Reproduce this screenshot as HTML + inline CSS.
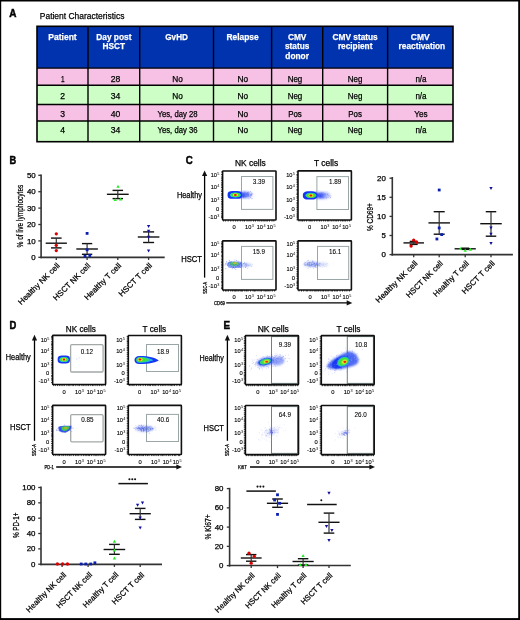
<!DOCTYPE html>
<html><head><meta charset="utf-8"><title>Figure</title>
<style>
html,body{margin:0;padding:0;background:#fff;}
svg{display:block;font-family:"Liberation Sans",sans-serif;will-change:transform;}
</style></head><body>
<svg width="520" height="620" viewBox="0 0 520 620">
<defs><filter id="b1" x="-50%" y="-50%" width="200%" height="200%"><feGaussianBlur stdDeviation="0.45"/></filter><filter id="b05" x="-50%" y="-50%" width="200%" height="200%"><feGaussianBlur stdDeviation="0.3"/></filter><filter id="b2" x="-50%" y="-50%" width="200%" height="200%"><feGaussianBlur stdDeviation="0.8"/></filter><filter id="b3" x="-50%" y="-50%" width="200%" height="200%"><feGaussianBlur stdDeviation="1.2"/></filter><linearGradient id="tailg" x1="0" y1="0" x2="1" y2="0"><stop offset="0" stop-color="#2040f0" stop-opacity="1"/><stop offset="0.45" stop-color="#2848f0" stop-opacity="0.8"/><stop offset="0.8" stop-color="#3050f0" stop-opacity="0.3"/><stop offset="1" stop-color="#4060f0" stop-opacity="0"/></linearGradient></defs>
<rect width="520" height="620" fill="#fff"/>
<text x="9.3" y="16.8" font-size="11.5" font-weight="bold" stroke="#000" stroke-width="0.5" textLength="7.2" lengthAdjust="spacingAndGlyphs">A</text>
<text x="39.8" y="18.6" font-size="9.4" stroke="#000" stroke-width="0.25" textLength="84.6" lengthAdjust="spacingAndGlyphs">Patient Characteristics</text>
<rect x="37" y="26.3" width="416" height="41.8" fill="#0033ad"/>
<rect x="37" y="68.1" width="416" height="17.1" fill="#f6c1e4"/>
<rect x="37" y="85.2" width="416" height="19.3" fill="#ccfec6"/>
<rect x="37" y="104.5" width="416" height="16.5" fill="#f6c1e4"/>
<rect x="37" y="121" width="416" height="20.7" fill="#ccfec6"/>
<line x1="88" y1="26.3" x2="88" y2="141.7" stroke="#000" stroke-width="1.4"/>
<line x1="139.7" y1="26.3" x2="139.7" y2="141.7" stroke="#000" stroke-width="1.4"/>
<line x1="213.5" y1="26.3" x2="213.5" y2="141.7" stroke="#000" stroke-width="1.4"/>
<line x1="271.6" y1="26.3" x2="271.6" y2="141.7" stroke="#000" stroke-width="1.4"/>
<line x1="322.7" y1="26.3" x2="322.7" y2="141.7" stroke="#000" stroke-width="1.4"/>
<line x1="387.6" y1="26.3" x2="387.6" y2="141.7" stroke="#000" stroke-width="1.4"/>
<line x1="37" y1="68.1" x2="453" y2="68.1" stroke="#000" stroke-width="1.4"/>
<line x1="37" y1="85.2" x2="453" y2="85.2" stroke="#000" stroke-width="1.4"/>
<line x1="37" y1="104.5" x2="453" y2="104.5" stroke="#000" stroke-width="1.4"/>
<line x1="37" y1="121" x2="453" y2="121" stroke="#000" stroke-width="1.4"/>
<rect x="37" y="26.3" width="416" height="115.4" fill="none" stroke="#000" stroke-width="1.6"/>
<text x="62.5" y="39.6" font-size="9.8" text-anchor="middle" font-weight="bold" fill="#fff" stroke="#fff" stroke-width="0.25" textLength="28.4" lengthAdjust="spacingAndGlyphs">Patient</text>
<text x="113.85" y="39.6" font-size="9.8" text-anchor="middle" font-weight="bold" fill="#fff" stroke="#fff" stroke-width="0.25" textLength="35.2" lengthAdjust="spacingAndGlyphs">Day post</text>
<text x="113.85" y="49.4" font-size="9.8" text-anchor="middle" font-weight="bold" fill="#fff" stroke="#fff" stroke-width="0.25" textLength="22.6" lengthAdjust="spacingAndGlyphs">HSCT</text>
<text x="176.6" y="39.6" font-size="9.8" text-anchor="middle" font-weight="bold" fill="#fff" stroke="#fff" stroke-width="0.25" textLength="22.6" lengthAdjust="spacingAndGlyphs">GvHD</text>
<text x="242.55" y="39.6" font-size="9.8" text-anchor="middle" font-weight="bold" fill="#fff" stroke="#fff" stroke-width="0.25" textLength="32.3" lengthAdjust="spacingAndGlyphs">Relapse</text>
<text x="297.15" y="39.6" font-size="9.8" text-anchor="middle" font-weight="bold" fill="#fff" stroke="#fff" stroke-width="0.25" textLength="18.5" lengthAdjust="spacingAndGlyphs">CMV</text>
<text x="297.15" y="49.4" font-size="9.8" text-anchor="middle" font-weight="bold" fill="#fff" stroke="#fff" stroke-width="0.25" textLength="24.2" lengthAdjust="spacingAndGlyphs">status</text>
<text x="297.15" y="59.3" font-size="9.8" text-anchor="middle" font-weight="bold" fill="#fff" stroke="#fff" stroke-width="0.25" textLength="23.6" lengthAdjust="spacingAndGlyphs">donor</text>
<text x="355.15" y="39.6" font-size="9.8" text-anchor="middle" font-weight="bold" fill="#fff" stroke="#fff" stroke-width="0.25" textLength="45.2" lengthAdjust="spacingAndGlyphs">CMV status</text>
<text x="355.15" y="49.4" font-size="9.8" text-anchor="middle" font-weight="bold" fill="#fff" stroke="#fff" stroke-width="0.25" textLength="34.5" lengthAdjust="spacingAndGlyphs">recipient</text>
<text x="420.3" y="39.6" font-size="9.8" text-anchor="middle" font-weight="bold" fill="#fff" stroke="#fff" stroke-width="0.25" textLength="18.9" lengthAdjust="spacingAndGlyphs">CMV</text>
<text x="421.9" y="49.4" font-size="9.8" text-anchor="middle" font-weight="bold" fill="#fff" stroke="#fff" stroke-width="0.25" textLength="46.6" lengthAdjust="spacingAndGlyphs">reactivation</text>
<text x="62.75" y="81.9" font-size="8.5" text-anchor="middle" stroke="#000" stroke-width="0.25" textLength="3.6" lengthAdjust="spacingAndGlyphs">1</text>
<text x="115.5" y="81.9" font-size="8.5" text-anchor="middle" stroke="#000" stroke-width="0.25" textLength="9.6" lengthAdjust="spacingAndGlyphs">28</text>
<text x="177.55" y="81.9" font-size="8.5" text-anchor="middle" stroke="#000" stroke-width="0.25" textLength="10.6" lengthAdjust="spacingAndGlyphs">No</text>
<text x="242.9" y="81.9" font-size="8.5" text-anchor="middle" stroke="#000" stroke-width="0.25" textLength="10.6" lengthAdjust="spacingAndGlyphs">No</text>
<text x="295" y="81.9" font-size="8.5" text-anchor="middle" stroke="#000" stroke-width="0.25" textLength="14.6" lengthAdjust="spacingAndGlyphs">Neg</text>
<text x="355.1" y="81.9" font-size="8.5" text-anchor="middle" stroke="#000" stroke-width="0.25" textLength="14.6" lengthAdjust="spacingAndGlyphs">Neg</text>
<text x="421" y="81.9" font-size="8.5" text-anchor="middle" stroke="#000" stroke-width="0.25" textLength="11.2" lengthAdjust="spacingAndGlyphs">n/a</text>
<text x="62.75" y="99.1" font-size="8.5" text-anchor="middle" stroke="#000" stroke-width="0.25" textLength="4.8" lengthAdjust="spacingAndGlyphs">2</text>
<text x="115.5" y="99.1" font-size="8.5" text-anchor="middle" stroke="#000" stroke-width="0.25" textLength="9.6" lengthAdjust="spacingAndGlyphs">34</text>
<text x="177.55" y="99.1" font-size="8.5" text-anchor="middle" stroke="#000" stroke-width="0.25" textLength="10.6" lengthAdjust="spacingAndGlyphs">No</text>
<text x="242.9" y="99.1" font-size="8.5" text-anchor="middle" stroke="#000" stroke-width="0.25" textLength="10.6" lengthAdjust="spacingAndGlyphs">No</text>
<text x="295" y="99.1" font-size="8.5" text-anchor="middle" stroke="#000" stroke-width="0.25" textLength="14.6" lengthAdjust="spacingAndGlyphs">Neg</text>
<text x="355.1" y="99.1" font-size="8.5" text-anchor="middle" stroke="#000" stroke-width="0.25" textLength="14.6" lengthAdjust="spacingAndGlyphs">Neg</text>
<text x="421" y="99.1" font-size="8.5" text-anchor="middle" stroke="#000" stroke-width="0.25" textLength="11.2" lengthAdjust="spacingAndGlyphs">n/a</text>
<text x="62.75" y="116.6" font-size="8.5" text-anchor="middle" stroke="#000" stroke-width="0.25" textLength="4.8" lengthAdjust="spacingAndGlyphs">3</text>
<text x="115.5" y="116.6" font-size="8.5" text-anchor="middle" stroke="#000" stroke-width="0.25" textLength="9.6" lengthAdjust="spacingAndGlyphs">40</text>
<text x="177.55" y="116.6" font-size="8.5" text-anchor="middle" stroke="#000" stroke-width="0.25" textLength="40" lengthAdjust="spacingAndGlyphs">Yes, day 28</text>
<text x="242.9" y="116.6" font-size="8.5" text-anchor="middle" stroke="#000" stroke-width="0.25" textLength="10.6" lengthAdjust="spacingAndGlyphs">No</text>
<text x="295" y="116.6" font-size="8.5" text-anchor="middle" stroke="#000" stroke-width="0.25" textLength="13.7" lengthAdjust="spacingAndGlyphs">Pos</text>
<text x="355.1" y="116.6" font-size="8.5" text-anchor="middle" stroke="#000" stroke-width="0.25" textLength="13.7" lengthAdjust="spacingAndGlyphs">Pos</text>
<text x="421" y="116.6" font-size="8.5" text-anchor="middle" stroke="#000" stroke-width="0.25" textLength="13.3" lengthAdjust="spacingAndGlyphs">Yes</text>
<text x="62.75" y="132.5" font-size="8.5" text-anchor="middle" stroke="#000" stroke-width="0.25" textLength="4.8" lengthAdjust="spacingAndGlyphs">4</text>
<text x="115.5" y="132.5" font-size="8.5" text-anchor="middle" stroke="#000" stroke-width="0.25" textLength="9.6" lengthAdjust="spacingAndGlyphs">34</text>
<text x="177.55" y="132.5" font-size="8.5" text-anchor="middle" stroke="#000" stroke-width="0.25" textLength="40" lengthAdjust="spacingAndGlyphs">Yes, day 36</text>
<text x="242.9" y="132.5" font-size="8.5" text-anchor="middle" stroke="#000" stroke-width="0.25" textLength="10.6" lengthAdjust="spacingAndGlyphs">No</text>
<text x="295" y="132.5" font-size="8.5" text-anchor="middle" stroke="#000" stroke-width="0.25" textLength="14.6" lengthAdjust="spacingAndGlyphs">Neg</text>
<text x="355.1" y="132.5" font-size="8.5" text-anchor="middle" stroke="#000" stroke-width="0.25" textLength="14.6" lengthAdjust="spacingAndGlyphs">Neg</text>
<text x="421" y="132.5" font-size="8.5" text-anchor="middle" stroke="#000" stroke-width="0.25" textLength="11.2" lengthAdjust="spacingAndGlyphs">n/a</text>
<text x="9.6" y="163.8" font-size="11.5" font-weight="bold" stroke="#000" stroke-width="0.5" textLength="6.7" lengthAdjust="spacingAndGlyphs">B</text>
<line x1="41.1" y1="174.4" x2="41.1" y2="258.3" stroke="#333" stroke-width="1.6"/>
<line x1="38.3" y1="175.3" x2="41.1" y2="175.3" stroke="#333" stroke-width="1.3"/>
<text x="35.7" y="177.9" font-size="7.4" text-anchor="end" stroke="#000" stroke-width="0.25" textLength="8.8" lengthAdjust="spacingAndGlyphs">50</text>
<line x1="38.3" y1="191.7" x2="41.1" y2="191.7" stroke="#333" stroke-width="1.3"/>
<text x="35.7" y="194.3" font-size="7.4" text-anchor="end" stroke="#000" stroke-width="0.25" textLength="8.8" lengthAdjust="spacingAndGlyphs">40</text>
<line x1="38.3" y1="208.1" x2="41.1" y2="208.1" stroke="#333" stroke-width="1.3"/>
<text x="35.7" y="210.7" font-size="7.4" text-anchor="end" stroke="#000" stroke-width="0.25" textLength="8.8" lengthAdjust="spacingAndGlyphs">30</text>
<line x1="38.3" y1="224.5" x2="41.1" y2="224.5" stroke="#333" stroke-width="1.3"/>
<text x="35.7" y="227.1" font-size="7.4" text-anchor="end" stroke="#000" stroke-width="0.25" textLength="8.8" lengthAdjust="spacingAndGlyphs">20</text>
<line x1="38.3" y1="240.9" x2="41.1" y2="240.9" stroke="#333" stroke-width="1.3"/>
<text x="35.7" y="243.5" font-size="7.4" text-anchor="end" stroke="#000" stroke-width="0.25" textLength="8.8" lengthAdjust="spacingAndGlyphs">10</text>
<line x1="38.3" y1="257.3" x2="41.1" y2="257.3" stroke="#333" stroke-width="1.3"/>
<text x="35.7" y="259.9" font-size="7.4" text-anchor="end" stroke="#000" stroke-width="0.25" textLength="4.4" lengthAdjust="spacingAndGlyphs">0</text>
<line x1="40.3" y1="257.3" x2="164.7" y2="257.3" stroke="#333" stroke-width="1.7"/>
<line x1="56.3" y1="257.3" x2="56.3" y2="259.9" stroke="#333" stroke-width="1.3"/>
<line x1="87.1" y1="257.3" x2="87.1" y2="259.9" stroke="#333" stroke-width="1.3"/>
<line x1="117.8" y1="257.3" x2="117.8" y2="259.9" stroke="#333" stroke-width="1.3"/>
<line x1="148.6" y1="257.3" x2="148.6" y2="259.9" stroke="#333" stroke-width="1.3"/>
<text x="0" y="0" font-size="8.6" text-anchor="middle" stroke="#000" stroke-width="0.25" textLength="62.7" lengthAdjust="spacingAndGlyphs" transform="translate(23.0 216.05) rotate(-90)">% of live lymphocytes</text>
<line x1="45.7" y1="243.2" x2="66.9" y2="243.2" stroke="#111" stroke-width="1.4"/>
<line x1="51" y1="238.1" x2="61.6" y2="238.1" stroke="#111" stroke-width="1.4"/>
<line x1="51" y1="247.9" x2="61.6" y2="247.9" stroke="#111" stroke-width="1.4"/>
<line x1="56.3" y1="238.1" x2="56.3" y2="247.9" stroke="#333" stroke-width="1.2"/>
<circle cx="56.3" cy="233.8" r="1.65" fill="#dd0000"/>
<circle cx="56.3" cy="245.3" r="1.65" fill="#dd0000"/>
<circle cx="56.3" cy="250.6" r="1.65" fill="#dd0000"/>
<line x1="76.3" y1="249" x2="97.9" y2="249" stroke="#111" stroke-width="1.4"/>
<line x1="81.95" y1="243.6" x2="92.25" y2="243.6" stroke="#111" stroke-width="1.4"/>
<line x1="81.95" y1="254.3" x2="92.25" y2="254.3" stroke="#111" stroke-width="1.4"/>
<line x1="87.1" y1="243.6" x2="87.1" y2="254.3" stroke="#333" stroke-width="1.2"/>
<rect x="85.7" y="232" width="2.8" height="2.8" fill="#0a1fb0"/>
<rect x="85.7" y="248.4" width="2.8" height="2.8" fill="#0a1fb0"/>
<rect x="83.6" y="254.8" width="2.8" height="2.8" fill="#0a1fb0"/>
<rect x="88.4" y="254.1" width="2.8" height="2.8" fill="#0a1fb0"/>
<line x1="106.9" y1="194.3" x2="128.7" y2="194.3" stroke="#111" stroke-width="1.4"/>
<line x1="112.55" y1="190.4" x2="123.05" y2="190.4" stroke="#111" stroke-width="1.4"/>
<line x1="112.55" y1="198.6" x2="123.05" y2="198.6" stroke="#111" stroke-width="1.4"/>
<line x1="117.8" y1="190.4" x2="117.8" y2="198.6" stroke="#333" stroke-width="1.2"/>
<polygon points="118,184.81 119.65,187.79 116.35,187.79" fill="#22ee22"/>
<polygon points="115.3,198.11 116.95,201.09 113.65,201.09" fill="#22ee22"/>
<polygon points="120.6,197.51 122.25,200.49 118.95,200.49" fill="#22ee22"/>
<line x1="137.8" y1="237" x2="159.4" y2="237" stroke="#111" stroke-width="1.4"/>
<line x1="143.1" y1="231.9" x2="154.1" y2="231.9" stroke="#111" stroke-width="1.4"/>
<line x1="143.1" y1="242.5" x2="154.1" y2="242.5" stroke="#111" stroke-width="1.4"/>
<line x1="148.6" y1="231.9" x2="148.6" y2="242.5" stroke="#333" stroke-width="1.2"/>
<polygon points="146.95,225.11 150.25,225.11 148.6,228.09" fill="#1010a0"/>
<polygon points="146.95,229.81 150.25,229.81 148.6,232.79" fill="#1010a0"/>
<polygon points="146.95,235.71 150.25,235.71 148.6,238.69" fill="#1010a0"/>
<polygon points="146.95,249.51 150.25,249.51 148.6,252.49" fill="#1010a0"/>
<text x="60.2" y="266.3" font-size="7.9" text-anchor="end" stroke="#000" stroke-width="0.25" textLength="55" lengthAdjust="spacingAndGlyphs" transform="rotate(-45 60.2 266.3)">Healthy NK cell</text>
<text x="91" y="266.3" font-size="7.9" text-anchor="end" stroke="#000" stroke-width="0.25" textLength="49" lengthAdjust="spacingAndGlyphs" transform="rotate(-45 91 266.3)">HSCT NK cell</text>
<text x="121.7" y="266.3" font-size="7.9" text-anchor="end" stroke="#000" stroke-width="0.25" textLength="48.5" lengthAdjust="spacingAndGlyphs" transform="rotate(-45 121.7 266.3)">Healthy T cell</text>
<text x="152.5" y="266.3" font-size="7.9" text-anchor="end" stroke="#000" stroke-width="0.25" textLength="43.5" lengthAdjust="spacingAndGlyphs" transform="rotate(-45 152.5 266.3)">HSCT T cell</text>
<text x="185.8" y="163.8" font-size="11.5" font-weight="bold" stroke="#000" stroke-width="0.5" textLength="7" lengthAdjust="spacingAndGlyphs">C</text>
<text x="235" y="166" font-size="8.6" stroke="#000" stroke-width="0.25" textLength="30.8" lengthAdjust="spacingAndGlyphs">NK cells</text>
<text x="314" y="166" font-size="8.6" stroke="#000" stroke-width="0.25" textLength="24.2" lengthAdjust="spacingAndGlyphs">T cells</text>
<text x="176.9" y="197.8" font-size="8.6" stroke="#000" stroke-width="0.25" textLength="25.1" lengthAdjust="spacingAndGlyphs">Healthy</text>
<text x="181.2" y="262.4" font-size="8.6" stroke="#000" stroke-width="0.25" textLength="20.8" lengthAdjust="spacingAndGlyphs">HSCT</text>
<line x1="204.6" y1="174.5" x2="204.6" y2="277.6" stroke="#000" stroke-width="1.3"/>
<polygon points="204.6,170.5 207.2,176.1 202,176.1" fill="#111"/>
<text x="0" y="0" font-size="5.3" text-anchor="middle" stroke="#000" stroke-width="0.25" textLength="12" lengthAdjust="spacingAndGlyphs" transform="translate(206.5 287.8) rotate(-90)">SSC-A</text>
<line x1="226.2" y1="302.9" x2="348.3" y2="302.9" stroke="#000" stroke-width="1.4"/>
<polygon points="352.3,302.9 346.7,300.3 346.7,305.5" fill="#111"/>
<text x="214" y="304.8" font-size="5.3" stroke="#000" stroke-width="0.25" textLength="11" lengthAdjust="spacingAndGlyphs">CD69</text>
<rect x="241.5" y="176.5" width="31.4" height="32.9" fill="none" stroke="#9aa6a6" stroke-width="1.0"/>
<rect x="222.6" y="171" width="53.4" height="49" fill="none" stroke="#111" stroke-width="1.6" rx="0.6"/>
<line x1="221" y1="172" x2="222.6" y2="172" stroke="#000" stroke-width="0.7"/>
<line x1="221" y1="174.59" x2="222.6" y2="174.59" stroke="#000" stroke-width="0.7"/>
<line x1="221" y1="177.03" x2="222.6" y2="177.03" stroke="#000" stroke-width="0.7"/>
<line x1="221" y1="178.81" x2="222.6" y2="178.81" stroke="#000" stroke-width="0.7"/>
<line x1="221" y1="180.65" x2="222.6" y2="180.65" stroke="#000" stroke-width="0.7"/>
<line x1="221" y1="182.78" x2="222.6" y2="182.78" stroke="#000" stroke-width="0.7"/>
<line x1="221" y1="184.24" x2="222.6" y2="184.24" stroke="#000" stroke-width="0.7"/>
<line x1="221" y1="185.85" x2="222.6" y2="185.85" stroke="#000" stroke-width="0.7"/>
<line x1="221" y1="187.56" x2="222.6" y2="187.56" stroke="#000" stroke-width="0.7"/>
<line x1="221" y1="189.97" x2="222.6" y2="189.97" stroke="#000" stroke-width="0.7"/>
<line x1="221" y1="191.46" x2="222.6" y2="191.46" stroke="#000" stroke-width="0.7"/>
<line x1="221" y1="193.82" x2="222.6" y2="193.82" stroke="#000" stroke-width="0.7"/>
<line x1="221" y1="195.24" x2="222.6" y2="195.24" stroke="#000" stroke-width="0.7"/>
<line x1="221" y1="197.46" x2="222.6" y2="197.46" stroke="#000" stroke-width="0.7"/>
<line x1="221" y1="199.36" x2="222.6" y2="199.36" stroke="#000" stroke-width="0.7"/>
<line x1="221" y1="201.42" x2="222.6" y2="201.42" stroke="#000" stroke-width="0.7"/>
<line x1="221" y1="203.14" x2="222.6" y2="203.14" stroke="#000" stroke-width="0.7"/>
<line x1="221" y1="204.84" x2="222.6" y2="204.84" stroke="#000" stroke-width="0.7"/>
<line x1="221" y1="207" x2="222.6" y2="207" stroke="#000" stroke-width="0.7"/>
<line x1="221" y1="209.27" x2="222.6" y2="209.27" stroke="#000" stroke-width="0.7"/>
<line x1="221" y1="211.34" x2="222.6" y2="211.34" stroke="#000" stroke-width="0.7"/>
<line x1="221" y1="213.3" x2="222.6" y2="213.3" stroke="#000" stroke-width="0.7"/>
<line x1="221" y1="215.07" x2="222.6" y2="215.07" stroke="#000" stroke-width="0.7"/>
<line x1="221" y1="216.35" x2="222.6" y2="216.35" stroke="#000" stroke-width="0.7"/>
<line x1="221" y1="217.62" x2="222.6" y2="217.62" stroke="#000" stroke-width="0.7"/>
<line x1="223.6" y1="220" x2="223.6" y2="221.6" stroke="#000" stroke-width="0.7"/>
<line x1="225.65" y1="220" x2="225.65" y2="221.6" stroke="#000" stroke-width="0.7"/>
<line x1="228.17" y1="220" x2="228.17" y2="221.6" stroke="#000" stroke-width="0.7"/>
<line x1="230.74" y1="220" x2="230.74" y2="221.6" stroke="#000" stroke-width="0.7"/>
<line x1="233.23" y1="220" x2="233.23" y2="221.6" stroke="#000" stroke-width="0.7"/>
<line x1="235.68" y1="220" x2="235.68" y2="221.6" stroke="#000" stroke-width="0.7"/>
<line x1="237.73" y1="220" x2="237.73" y2="221.6" stroke="#000" stroke-width="0.7"/>
<line x1="240.25" y1="220" x2="240.25" y2="221.6" stroke="#000" stroke-width="0.7"/>
<line x1="242.8" y1="220" x2="242.8" y2="221.6" stroke="#000" stroke-width="0.7"/>
<line x1="244.5" y1="220" x2="244.5" y2="221.6" stroke="#000" stroke-width="0.7"/>
<line x1="247.03" y1="220" x2="247.03" y2="221.6" stroke="#000" stroke-width="0.7"/>
<line x1="249.02" y1="220" x2="249.02" y2="221.6" stroke="#000" stroke-width="0.7"/>
<line x1="251.03" y1="220" x2="251.03" y2="221.6" stroke="#000" stroke-width="0.7"/>
<line x1="253.58" y1="220" x2="253.58" y2="221.6" stroke="#000" stroke-width="0.7"/>
<line x1="255.43" y1="220" x2="255.43" y2="221.6" stroke="#000" stroke-width="0.7"/>
<line x1="257.96" y1="220" x2="257.96" y2="221.6" stroke="#000" stroke-width="0.7"/>
<line x1="259.84" y1="220" x2="259.84" y2="221.6" stroke="#000" stroke-width="0.7"/>
<line x1="261.67" y1="220" x2="261.67" y2="221.6" stroke="#000" stroke-width="0.7"/>
<line x1="263.19" y1="220" x2="263.19" y2="221.6" stroke="#000" stroke-width="0.7"/>
<line x1="264.78" y1="220" x2="264.78" y2="221.6" stroke="#000" stroke-width="0.7"/>
<line x1="266.13" y1="220" x2="266.13" y2="221.6" stroke="#000" stroke-width="0.7"/>
<line x1="267.63" y1="220" x2="267.63" y2="221.6" stroke="#000" stroke-width="0.7"/>
<line x1="269.47" y1="220" x2="269.47" y2="221.6" stroke="#000" stroke-width="0.7"/>
<line x1="272.01" y1="220" x2="272.01" y2="221.6" stroke="#000" stroke-width="0.7"/>
<line x1="273.86" y1="220" x2="273.86" y2="221.6" stroke="#000" stroke-width="0.7"/>
<text x="217" y="177.4" font-size="5.8" text-anchor="end" stroke="#000" stroke-width="0.12" textLength="6.3" lengthAdjust="spacingAndGlyphs">10</text>
<text x="217.3" y="175.4" font-size="3.8">5</text>
<text x="217" y="188.6" font-size="5.8" text-anchor="end" stroke="#000" stroke-width="0.12" textLength="6.3" lengthAdjust="spacingAndGlyphs">10</text>
<text x="217.3" y="186.6" font-size="3.8">4</text>
<text x="217" y="202.3" font-size="5.8" text-anchor="end" stroke="#000" stroke-width="0.12" textLength="6.3" lengthAdjust="spacingAndGlyphs">10</text>
<text x="217.3" y="200.3" font-size="3.8">3</text>
<text x="219.2" y="210.9" font-size="5.8" text-anchor="end" stroke="#000" stroke-width="0.12">0</text>
<text x="217" y="218.8" font-size="5.8" text-anchor="end" stroke="#000" stroke-width="0.12" textLength="8.6" lengthAdjust="spacingAndGlyphs">-10</text>
<text x="217.3" y="216.8" font-size="3.8">3</text>
<text x="234.2" y="229.4" font-size="5.8" text-anchor="middle" stroke="#000" stroke-width="0.12">0</text>
<text x="245.1" y="229.4" font-size="5.8" stroke="#000" stroke-width="0.12" textLength="6.3" lengthAdjust="spacingAndGlyphs">10</text>
<text x="251.8" y="227.4" font-size="3.8">3</text>
<text x="256.7" y="229.4" font-size="5.8" stroke="#000" stroke-width="0.12" textLength="6.3" lengthAdjust="spacingAndGlyphs">10</text>
<text x="263.4" y="227.4" font-size="3.8">4</text>
<text x="266.7" y="229.4" font-size="5.8" stroke="#000" stroke-width="0.12" textLength="6.3" lengthAdjust="spacingAndGlyphs">10</text>
<text x="273.4" y="227.4" font-size="3.8">5</text>
<text x="252.7" y="183.8" font-size="6.3" stroke="#000" stroke-width="0.08">3.39</text>
<g transform="rotate(0 234.8 194.9)">
<ellipse cx="245.84" cy="194.9" rx="8" ry="3.2" fill="url(#tailg)" filter="url(#b2)"/>
<circle cx="250.7" cy="194.13" r="0.45" fill="#2a3cf0" opacity="0.53"/>
<circle cx="251.54" cy="193.88" r="0.45" fill="#2a3cf0" opacity="0.38"/>
<circle cx="243.71" cy="196.7" r="0.45" fill="#2a3cf0" opacity="0.57"/>
<circle cx="240.87" cy="195.59" r="0.45" fill="#2a3cf0" opacity="0.35"/>
<circle cx="242.03" cy="192.7" r="0.45" fill="#2a3cf0" opacity="0.42"/>
<circle cx="245.19" cy="193.66" r="0.45" fill="#2a3cf0" opacity="0.27"/>
<circle cx="248.74" cy="196.37" r="0.45" fill="#2a3cf0" opacity="0.4"/>
<circle cx="246.36" cy="193.69" r="0.45" fill="#2a3cf0" opacity="0.48"/>
<circle cx="247.94" cy="194.69" r="0.45" fill="#2a3cf0" opacity="0.24"/>
<circle cx="250.32" cy="197.43" r="0.45" fill="#2a3cf0" opacity="0.49"/>
<circle cx="243.17" cy="196.15" r="0.45" fill="#2a3cf0" opacity="0.49"/>
<circle cx="242.11" cy="195.05" r="0.45" fill="#2a3cf0" opacity="0.45"/>
<circle cx="243.1" cy="195.15" r="0.45" fill="#2a3cf0" opacity="0.39"/>
<circle cx="248.18" cy="195.54" r="0.45" fill="#2a3cf0" opacity="0.59"/>
<circle cx="251.92" cy="194.44" r="0.45" fill="#2a3cf0" opacity="0.2"/>
<circle cx="245.81" cy="196.41" r="0.45" fill="#2a3cf0" opacity="0.48"/>
<circle cx="241.49" cy="194.8" r="0.45" fill="#2a3cf0" opacity="0.31"/>
<circle cx="242.9" cy="193.9" r="0.45" fill="#2a3cf0" opacity="0.44"/>
<circle cx="250.77" cy="196.83" r="0.45" fill="#2a3cf0" opacity="0.45"/>
<circle cx="251.59" cy="192.81" r="0.45" fill="#2a3cf0" opacity="0.34"/>
<circle cx="248.59" cy="194.31" r="0.45" fill="#2a3cf0" opacity="0.55"/>
<circle cx="250.36" cy="191.62" r="0.45" fill="#2a3cf0" opacity="0.54"/>
<circle cx="248.22" cy="194.77" r="0.45" fill="#2a3cf0" opacity="0.57"/>
<circle cx="251.73" cy="194.38" r="0.45" fill="#2a3cf0" opacity="0.57"/>
<circle cx="241.37" cy="193.1" r="0.45" fill="#2a3cf0" opacity="0.52"/>
<circle cx="242.67" cy="196.87" r="0.45" fill="#2a3cf0" opacity="0.42"/>
<circle cx="247.63" cy="193.93" r="0.45" fill="#2a3cf0" opacity="0.57"/>
<circle cx="248.2" cy="193.14" r="0.45" fill="#2a3cf0" opacity="0.52"/>
<circle cx="248.78" cy="191.94" r="0.45" fill="#2a3cf0" opacity="0.57"/>
<circle cx="241.43" cy="195.49" r="0.45" fill="#2a3cf0" opacity="0.47"/>
<circle cx="251.05" cy="195.26" r="0.45" fill="#2a3cf0" opacity="0.26"/>
<circle cx="247.67" cy="192.81" r="0.45" fill="#2a3cf0" opacity="0.32"/>
<circle cx="245.91" cy="196.64" r="0.45" fill="#2a3cf0" opacity="0.42"/>
<circle cx="243.96" cy="195.97" r="0.45" fill="#2a3cf0" opacity="0.36"/>
<circle cx="247.47" cy="192.72" r="0.45" fill="#2a3cf0" opacity="0.41"/>
<circle cx="250.41" cy="195.45" r="0.45" fill="#2a3cf0" opacity="0.57"/>
<circle cx="247.06" cy="193.24" r="0.45" fill="#2a3cf0" opacity="0.35"/>
<circle cx="246.37" cy="194.89" r="0.45" fill="#2a3cf0" opacity="0.58"/>
<circle cx="248.67" cy="195.64" r="0.45" fill="#2a3cf0" opacity="0.34"/>
<circle cx="244.47" cy="191.02" r="0.45" fill="#2a3cf0" opacity="0.28"/>
<circle cx="251.52" cy="195.24" r="0.45" fill="#2a3cf0" opacity="0.54"/>
<circle cx="251.55" cy="198.8" r="0.45" fill="#2a3cf0" opacity="0.36"/>
<circle cx="244.44" cy="195.35" r="0.45" fill="#2a3cf0" opacity="0.38"/>
<circle cx="241.02" cy="197.27" r="0.45" fill="#2a3cf0" opacity="0.51"/>
<circle cx="249.04" cy="193.06" r="0.45" fill="#2a3cf0" opacity="0.53"/>
<circle cx="244.34" cy="194.51" r="0.45" fill="#2a3cf0" opacity="0.35"/>
<circle cx="244.85" cy="192.83" r="0.45" fill="#2a3cf0" opacity="0.53"/>
<circle cx="250.77" cy="191.89" r="0.45" fill="#2a3cf0" opacity="0.34"/>
<circle cx="252.25" cy="193.92" r="0.45" fill="#2a3cf0" opacity="0.24"/>
<circle cx="247.23" cy="195.97" r="0.45" fill="#2a3cf0" opacity="0.45"/>
<circle cx="252.5" cy="198.36" r="0.45" fill="#2a3cf0" opacity="0.56"/>
<circle cx="249.3" cy="196.24" r="0.45" fill="#2a3cf0" opacity="0.39"/>
<circle cx="250.22" cy="194.58" r="0.45" fill="#2a3cf0" opacity="0.56"/>
<circle cx="248.99" cy="198.86" r="0.45" fill="#2a3cf0" opacity="0.52"/>
<circle cx="252.08" cy="193.57" r="0.45" fill="#2a3cf0" opacity="0.57"/>
<circle cx="247.73" cy="194.7" r="0.45" fill="#2a3cf0" opacity="0.51"/>
<circle cx="243.38" cy="196.6" r="0.45" fill="#2a3cf0" opacity="0.56"/>
<circle cx="243.35" cy="197.29" r="0.45" fill="#2a3cf0" opacity="0.56"/>
<circle cx="241.84" cy="195.24" r="0.45" fill="#2a3cf0" opacity="0.24"/>
<circle cx="240.63" cy="196.16" r="0.45" fill="#2a3cf0" opacity="0.36"/>
<rect x="227.6" y="191" width="14.4" height="7.8" rx="5.04" ry="2.92" fill="#1436f4" filter="url(#b1)"/>
<ellipse cx="235.4" cy="194.9" rx="5.47" ry="2.5" fill="#20c8e8" filter="url(#b1)"/>
<ellipse cx="235.4" cy="194.9" rx="4.9" ry="2.18" fill="#40e040" filter="url(#b1)"/>
<ellipse cx="235.4" cy="194.9" rx="2.59" ry="1.4" fill="#e8e828" filter="url(#b1)"/>
<ellipse cx="235.4" cy="194.9" rx="1.44" ry="1.01" fill="#f01010" filter="url(#b05)"/>
</g>
<rect x="316.9" y="176.6" width="31.6" height="32.9" fill="none" stroke="#9aa6a6" stroke-width="1.0"/>
<rect x="298" y="170.9" width="53.4" height="49.1" fill="none" stroke="#111" stroke-width="1.6" rx="0.6"/>
<line x1="296.4" y1="171.9" x2="298" y2="171.9" stroke="#000" stroke-width="0.7"/>
<line x1="296.4" y1="174.47" x2="298" y2="174.47" stroke="#000" stroke-width="0.7"/>
<line x1="296.4" y1="175.82" x2="298" y2="175.82" stroke="#000" stroke-width="0.7"/>
<line x1="296.4" y1="177.88" x2="298" y2="177.88" stroke="#000" stroke-width="0.7"/>
<line x1="296.4" y1="179.47" x2="298" y2="179.47" stroke="#000" stroke-width="0.7"/>
<line x1="296.4" y1="180.98" x2="298" y2="180.98" stroke="#000" stroke-width="0.7"/>
<line x1="296.4" y1="182.67" x2="298" y2="182.67" stroke="#000" stroke-width="0.7"/>
<line x1="296.4" y1="184.63" x2="298" y2="184.63" stroke="#000" stroke-width="0.7"/>
<line x1="296.4" y1="186.85" x2="298" y2="186.85" stroke="#000" stroke-width="0.7"/>
<line x1="296.4" y1="189.34" x2="298" y2="189.34" stroke="#000" stroke-width="0.7"/>
<line x1="296.4" y1="190.75" x2="298" y2="190.75" stroke="#000" stroke-width="0.7"/>
<line x1="296.4" y1="193.11" x2="298" y2="193.11" stroke="#000" stroke-width="0.7"/>
<line x1="296.4" y1="194.49" x2="298" y2="194.49" stroke="#000" stroke-width="0.7"/>
<line x1="296.4" y1="196.72" x2="298" y2="196.72" stroke="#000" stroke-width="0.7"/>
<line x1="296.4" y1="198.14" x2="298" y2="198.14" stroke="#000" stroke-width="0.7"/>
<line x1="296.4" y1="200.44" x2="298" y2="200.44" stroke="#000" stroke-width="0.7"/>
<line x1="296.4" y1="202.73" x2="298" y2="202.73" stroke="#000" stroke-width="0.7"/>
<line x1="296.4" y1="203.94" x2="298" y2="203.94" stroke="#000" stroke-width="0.7"/>
<line x1="296.4" y1="205.92" x2="298" y2="205.92" stroke="#000" stroke-width="0.7"/>
<line x1="296.4" y1="207.63" x2="298" y2="207.63" stroke="#000" stroke-width="0.7"/>
<line x1="296.4" y1="209.24" x2="298" y2="209.24" stroke="#000" stroke-width="0.7"/>
<line x1="296.4" y1="211.14" x2="298" y2="211.14" stroke="#000" stroke-width="0.7"/>
<line x1="296.4" y1="213.17" x2="298" y2="213.17" stroke="#000" stroke-width="0.7"/>
<line x1="296.4" y1="214.88" x2="298" y2="214.88" stroke="#000" stroke-width="0.7"/>
<line x1="296.4" y1="216.18" x2="298" y2="216.18" stroke="#000" stroke-width="0.7"/>
<line x1="296.4" y1="217.77" x2="298" y2="217.77" stroke="#000" stroke-width="0.7"/>
<line x1="296.4" y1="219.75" x2="298" y2="219.75" stroke="#000" stroke-width="0.7"/>
<line x1="299" y1="220" x2="299" y2="221.6" stroke="#000" stroke-width="0.7"/>
<line x1="301.08" y1="220" x2="301.08" y2="221.6" stroke="#000" stroke-width="0.7"/>
<line x1="302.59" y1="220" x2="302.59" y2="221.6" stroke="#000" stroke-width="0.7"/>
<line x1="304.25" y1="220" x2="304.25" y2="221.6" stroke="#000" stroke-width="0.7"/>
<line x1="306.63" y1="220" x2="306.63" y2="221.6" stroke="#000" stroke-width="0.7"/>
<line x1="309.11" y1="220" x2="309.11" y2="221.6" stroke="#000" stroke-width="0.7"/>
<line x1="310.78" y1="220" x2="310.78" y2="221.6" stroke="#000" stroke-width="0.7"/>
<line x1="312.07" y1="220" x2="312.07" y2="221.6" stroke="#000" stroke-width="0.7"/>
<line x1="314.4" y1="220" x2="314.4" y2="221.6" stroke="#000" stroke-width="0.7"/>
<line x1="316.87" y1="220" x2="316.87" y2="221.6" stroke="#000" stroke-width="0.7"/>
<line x1="319.39" y1="220" x2="319.39" y2="221.6" stroke="#000" stroke-width="0.7"/>
<line x1="321.25" y1="220" x2="321.25" y2="221.6" stroke="#000" stroke-width="0.7"/>
<line x1="323.67" y1="220" x2="323.67" y2="221.6" stroke="#000" stroke-width="0.7"/>
<line x1="325.63" y1="220" x2="325.63" y2="221.6" stroke="#000" stroke-width="0.7"/>
<line x1="327.64" y1="220" x2="327.64" y2="221.6" stroke="#000" stroke-width="0.7"/>
<line x1="328.88" y1="220" x2="328.88" y2="221.6" stroke="#000" stroke-width="0.7"/>
<line x1="331.18" y1="220" x2="331.18" y2="221.6" stroke="#000" stroke-width="0.7"/>
<line x1="333.13" y1="220" x2="333.13" y2="221.6" stroke="#000" stroke-width="0.7"/>
<line x1="335.12" y1="220" x2="335.12" y2="221.6" stroke="#000" stroke-width="0.7"/>
<line x1="336.73" y1="220" x2="336.73" y2="221.6" stroke="#000" stroke-width="0.7"/>
<line x1="338.42" y1="220" x2="338.42" y2="221.6" stroke="#000" stroke-width="0.7"/>
<line x1="340.75" y1="220" x2="340.75" y2="221.6" stroke="#000" stroke-width="0.7"/>
<line x1="342.41" y1="220" x2="342.41" y2="221.6" stroke="#000" stroke-width="0.7"/>
<line x1="344.01" y1="220" x2="344.01" y2="221.6" stroke="#000" stroke-width="0.7"/>
<line x1="345.39" y1="220" x2="345.39" y2="221.6" stroke="#000" stroke-width="0.7"/>
<line x1="347.22" y1="220" x2="347.22" y2="221.6" stroke="#000" stroke-width="0.7"/>
<line x1="349.36" y1="220" x2="349.36" y2="221.6" stroke="#000" stroke-width="0.7"/>
<text x="292.5" y="177.4" font-size="5.8" text-anchor="end" stroke="#000" stroke-width="0.12" textLength="6.3" lengthAdjust="spacingAndGlyphs">10</text>
<text x="292.8" y="175.4" font-size="3.8">5</text>
<text x="292.5" y="188.6" font-size="5.8" text-anchor="end" stroke="#000" stroke-width="0.12" textLength="6.3" lengthAdjust="spacingAndGlyphs">10</text>
<text x="292.8" y="186.6" font-size="3.8">4</text>
<text x="292.5" y="202.3" font-size="5.8" text-anchor="end" stroke="#000" stroke-width="0.12" textLength="6.3" lengthAdjust="spacingAndGlyphs">10</text>
<text x="292.8" y="200.3" font-size="3.8">3</text>
<text x="294.7" y="210.9" font-size="5.8" text-anchor="end" stroke="#000" stroke-width="0.12">0</text>
<text x="292.5" y="218.8" font-size="5.8" text-anchor="end" stroke="#000" stroke-width="0.12" textLength="8.6" lengthAdjust="spacingAndGlyphs">-10</text>
<text x="292.8" y="216.8" font-size="3.8">3</text>
<text x="309.7" y="229.4" font-size="5.8" text-anchor="middle" stroke="#000" stroke-width="0.12">0</text>
<text x="320.6" y="229.4" font-size="5.8" stroke="#000" stroke-width="0.12" textLength="6.3" lengthAdjust="spacingAndGlyphs">10</text>
<text x="327.3" y="227.4" font-size="3.8">3</text>
<text x="332.2" y="229.4" font-size="5.8" stroke="#000" stroke-width="0.12" textLength="6.3" lengthAdjust="spacingAndGlyphs">10</text>
<text x="338.9" y="227.4" font-size="3.8">4</text>
<text x="342.2" y="229.4" font-size="5.8" stroke="#000" stroke-width="0.12" textLength="6.3" lengthAdjust="spacingAndGlyphs">10</text>
<text x="348.9" y="227.4" font-size="3.8">5</text>
<text x="328.9" y="183.8" font-size="6.3" stroke="#000" stroke-width="0.08">1.89</text>
<g transform="rotate(0 310 195.45)">
<ellipse cx="322.47" cy="195.45" rx="9.5" ry="3.3" fill="url(#tailg)" filter="url(#b2)"/>
<circle cx="325.02" cy="193.4" r="0.45" fill="#2a3cf0" opacity="0.44"/>
<circle cx="324.08" cy="194.57" r="0.45" fill="#2a3cf0" opacity="0.44"/>
<circle cx="319.06" cy="194.92" r="0.45" fill="#2a3cf0" opacity="0.54"/>
<circle cx="327.3" cy="197.76" r="0.45" fill="#2a3cf0" opacity="0.22"/>
<circle cx="317.92" cy="198.9" r="0.45" fill="#2a3cf0" opacity="0.23"/>
<circle cx="322.2" cy="195.26" r="0.45" fill="#2a3cf0" opacity="0.41"/>
<circle cx="316.06" cy="195.54" r="0.45" fill="#2a3cf0" opacity="0.48"/>
<circle cx="320.42" cy="195.19" r="0.45" fill="#2a3cf0" opacity="0.49"/>
<circle cx="317.58" cy="194.54" r="0.45" fill="#2a3cf0" opacity="0.29"/>
<circle cx="325.29" cy="194.56" r="0.45" fill="#2a3cf0" opacity="0.34"/>
<circle cx="321.84" cy="196.6" r="0.45" fill="#2a3cf0" opacity="0.29"/>
<circle cx="316.4" cy="195.15" r="0.45" fill="#2a3cf0" opacity="0.5"/>
<circle cx="315.81" cy="193.38" r="0.45" fill="#2a3cf0" opacity="0.34"/>
<circle cx="319.63" cy="196.69" r="0.45" fill="#2a3cf0" opacity="0.41"/>
<circle cx="321.79" cy="193.05" r="0.45" fill="#2a3cf0" opacity="0.43"/>
<circle cx="318.65" cy="190.67" r="0.45" fill="#2a3cf0" opacity="0.26"/>
<circle cx="316.46" cy="196.31" r="0.45" fill="#2a3cf0" opacity="0.42"/>
<circle cx="320.72" cy="197.3" r="0.45" fill="#2a3cf0" opacity="0.49"/>
<circle cx="327.59" cy="194.48" r="0.45" fill="#2a3cf0" opacity="0.58"/>
<circle cx="316.05" cy="195.02" r="0.45" fill="#2a3cf0" opacity="0.31"/>
<circle cx="315.88" cy="194.88" r="0.45" fill="#2a3cf0" opacity="0.53"/>
<circle cx="323.35" cy="197.27" r="0.45" fill="#2a3cf0" opacity="0.27"/>
<circle cx="326.51" cy="197.56" r="0.45" fill="#2a3cf0" opacity="0.22"/>
<circle cx="322.34" cy="194.21" r="0.45" fill="#2a3cf0" opacity="0.53"/>
<circle cx="321.03" cy="194.01" r="0.45" fill="#2a3cf0" opacity="0.35"/>
<circle cx="320.81" cy="195.83" r="0.45" fill="#2a3cf0" opacity="0.55"/>
<circle cx="315.74" cy="191.65" r="0.45" fill="#2a3cf0" opacity="0.57"/>
<circle cx="321.49" cy="196.08" r="0.45" fill="#2a3cf0" opacity="0.32"/>
<circle cx="315.75" cy="196.94" r="0.45" fill="#2a3cf0" opacity="0.47"/>
<circle cx="328.25" cy="195.73" r="0.45" fill="#2a3cf0" opacity="0.31"/>
<circle cx="330.18" cy="196.02" r="0.45" fill="#2a3cf0" opacity="0.23"/>
<circle cx="322.87" cy="197.7" r="0.45" fill="#2a3cf0" opacity="0.54"/>
<circle cx="329.88" cy="198.4" r="0.45" fill="#2a3cf0" opacity="0.24"/>
<circle cx="318.39" cy="196" r="0.45" fill="#2a3cf0" opacity="0.38"/>
<circle cx="322.12" cy="196.06" r="0.45" fill="#2a3cf0" opacity="0.55"/>
<circle cx="329.14" cy="194.9" r="0.45" fill="#2a3cf0" opacity="0.24"/>
<circle cx="316.41" cy="193.95" r="0.45" fill="#2a3cf0" opacity="0.38"/>
<circle cx="328.62" cy="197.31" r="0.45" fill="#2a3cf0" opacity="0.41"/>
<circle cx="317.34" cy="194.01" r="0.45" fill="#2a3cf0" opacity="0.51"/>
<circle cx="316.27" cy="192.78" r="0.45" fill="#2a3cf0" opacity="0.51"/>
<circle cx="323.32" cy="194.12" r="0.45" fill="#2a3cf0" opacity="0.32"/>
<circle cx="316.47" cy="196.23" r="0.45" fill="#2a3cf0" opacity="0.24"/>
<circle cx="318.58" cy="195.66" r="0.45" fill="#2a3cf0" opacity="0.41"/>
<circle cx="316.51" cy="197.43" r="0.45" fill="#2a3cf0" opacity="0.54"/>
<circle cx="328" cy="193.42" r="0.45" fill="#2a3cf0" opacity="0.56"/>
<circle cx="326.49" cy="198.1" r="0.45" fill="#2a3cf0" opacity="0.51"/>
<circle cx="316.3" cy="195.3" r="0.45" fill="#2a3cf0" opacity="0.42"/>
<circle cx="322.96" cy="192.81" r="0.45" fill="#2a3cf0" opacity="0.25"/>
<circle cx="319.88" cy="193.6" r="0.45" fill="#2a3cf0" opacity="0.59"/>
<circle cx="320.11" cy="196.64" r="0.45" fill="#2a3cf0" opacity="0.59"/>
<circle cx="326.93" cy="191.86" r="0.45" fill="#2a3cf0" opacity="0.23"/>
<circle cx="323.93" cy="195.96" r="0.45" fill="#2a3cf0" opacity="0.29"/>
<circle cx="320.57" cy="197.08" r="0.45" fill="#2a3cf0" opacity="0.35"/>
<circle cx="320.86" cy="195.19" r="0.45" fill="#2a3cf0" opacity="0.59"/>
<circle cx="320.76" cy="195.71" r="0.45" fill="#2a3cf0" opacity="0.24"/>
<circle cx="329.91" cy="196.01" r="0.45" fill="#2a3cf0" opacity="0.54"/>
<circle cx="330.46" cy="197.44" r="0.45" fill="#2a3cf0" opacity="0.59"/>
<circle cx="316" cy="196.31" r="0.45" fill="#2a3cf0" opacity="0.52"/>
<circle cx="317.64" cy="195.69" r="0.45" fill="#2a3cf0" opacity="0.5"/>
<circle cx="320.1" cy="198.16" r="0.45" fill="#2a3cf0" opacity="0.39"/>
<rect x="302.9" y="191.35" width="14.2" height="8.2" rx="4.97" ry="3.07" fill="#1436f4" filter="url(#b1)"/>
<ellipse cx="310.9" cy="195.45" rx="5.4" ry="2.62" fill="#20c8e8" filter="url(#b1)"/>
<ellipse cx="310.9" cy="195.45" rx="4.83" ry="2.3" fill="#40e040" filter="url(#b1)"/>
<ellipse cx="310.9" cy="195.45" rx="2.56" ry="1.48" fill="#e8e828" filter="url(#b1)"/>
<ellipse cx="310.9" cy="195.45" rx="1.42" ry="1.07" fill="#f01010" filter="url(#b05)"/>
</g>
<rect x="241.5" y="246.4" width="31.4" height="33" fill="none" stroke="#9aa6a6" stroke-width="1.0"/>
<rect x="222.6" y="240.9" width="53.4" height="49.1" fill="none" stroke="#111" stroke-width="1.6" rx="0.6"/>
<line x1="221" y1="241.9" x2="222.6" y2="241.9" stroke="#000" stroke-width="0.7"/>
<line x1="221" y1="243.45" x2="222.6" y2="243.45" stroke="#000" stroke-width="0.7"/>
<line x1="221" y1="244.85" x2="222.6" y2="244.85" stroke="#000" stroke-width="0.7"/>
<line x1="221" y1="246.52" x2="222.6" y2="246.52" stroke="#000" stroke-width="0.7"/>
<line x1="221" y1="247.91" x2="222.6" y2="247.91" stroke="#000" stroke-width="0.7"/>
<line x1="221" y1="249.83" x2="222.6" y2="249.83" stroke="#000" stroke-width="0.7"/>
<line x1="221" y1="251.46" x2="222.6" y2="251.46" stroke="#000" stroke-width="0.7"/>
<line x1="221" y1="252.71" x2="222.6" y2="252.71" stroke="#000" stroke-width="0.7"/>
<line x1="221" y1="255.21" x2="222.6" y2="255.21" stroke="#000" stroke-width="0.7"/>
<line x1="221" y1="256.79" x2="222.6" y2="256.79" stroke="#000" stroke-width="0.7"/>
<line x1="221" y1="259.19" x2="222.6" y2="259.19" stroke="#000" stroke-width="0.7"/>
<line x1="221" y1="261.18" x2="222.6" y2="261.18" stroke="#000" stroke-width="0.7"/>
<line x1="221" y1="262.67" x2="222.6" y2="262.67" stroke="#000" stroke-width="0.7"/>
<line x1="221" y1="264.27" x2="222.6" y2="264.27" stroke="#000" stroke-width="0.7"/>
<line x1="221" y1="265.82" x2="222.6" y2="265.82" stroke="#000" stroke-width="0.7"/>
<line x1="221" y1="267.45" x2="222.6" y2="267.45" stroke="#000" stroke-width="0.7"/>
<line x1="221" y1="269.27" x2="222.6" y2="269.27" stroke="#000" stroke-width="0.7"/>
<line x1="221" y1="270.66" x2="222.6" y2="270.66" stroke="#000" stroke-width="0.7"/>
<line x1="221" y1="272.62" x2="222.6" y2="272.62" stroke="#000" stroke-width="0.7"/>
<line x1="221" y1="275.19" x2="222.6" y2="275.19" stroke="#000" stroke-width="0.7"/>
<line x1="221" y1="277.17" x2="222.6" y2="277.17" stroke="#000" stroke-width="0.7"/>
<line x1="221" y1="279.11" x2="222.6" y2="279.11" stroke="#000" stroke-width="0.7"/>
<line x1="221" y1="281.32" x2="222.6" y2="281.32" stroke="#000" stroke-width="0.7"/>
<line x1="221" y1="282.78" x2="222.6" y2="282.78" stroke="#000" stroke-width="0.7"/>
<line x1="221" y1="285.18" x2="222.6" y2="285.18" stroke="#000" stroke-width="0.7"/>
<line x1="221" y1="287.19" x2="222.6" y2="287.19" stroke="#000" stroke-width="0.7"/>
<line x1="221" y1="288.55" x2="222.6" y2="288.55" stroke="#000" stroke-width="0.7"/>
<line x1="223.6" y1="290" x2="223.6" y2="291.6" stroke="#000" stroke-width="0.7"/>
<line x1="225.55" y1="290" x2="225.55" y2="291.6" stroke="#000" stroke-width="0.7"/>
<line x1="226.91" y1="290" x2="226.91" y2="291.6" stroke="#000" stroke-width="0.7"/>
<line x1="228.51" y1="290" x2="228.51" y2="291.6" stroke="#000" stroke-width="0.7"/>
<line x1="230.82" y1="290" x2="230.82" y2="291.6" stroke="#000" stroke-width="0.7"/>
<line x1="232.62" y1="290" x2="232.62" y2="291.6" stroke="#000" stroke-width="0.7"/>
<line x1="234.25" y1="290" x2="234.25" y2="291.6" stroke="#000" stroke-width="0.7"/>
<line x1="235.45" y1="290" x2="235.45" y2="291.6" stroke="#000" stroke-width="0.7"/>
<line x1="236.88" y1="290" x2="236.88" y2="291.6" stroke="#000" stroke-width="0.7"/>
<line x1="238.27" y1="290" x2="238.27" y2="291.6" stroke="#000" stroke-width="0.7"/>
<line x1="240.12" y1="290" x2="240.12" y2="291.6" stroke="#000" stroke-width="0.7"/>
<line x1="241.4" y1="290" x2="241.4" y2="291.6" stroke="#000" stroke-width="0.7"/>
<line x1="242.62" y1="290" x2="242.62" y2="291.6" stroke="#000" stroke-width="0.7"/>
<line x1="244.89" y1="290" x2="244.89" y2="291.6" stroke="#000" stroke-width="0.7"/>
<line x1="246.63" y1="290" x2="246.63" y2="291.6" stroke="#000" stroke-width="0.7"/>
<line x1="248.09" y1="290" x2="248.09" y2="291.6" stroke="#000" stroke-width="0.7"/>
<line x1="250.55" y1="290" x2="250.55" y2="291.6" stroke="#000" stroke-width="0.7"/>
<line x1="253.07" y1="290" x2="253.07" y2="291.6" stroke="#000" stroke-width="0.7"/>
<line x1="254.48" y1="290" x2="254.48" y2="291.6" stroke="#000" stroke-width="0.7"/>
<line x1="255.83" y1="290" x2="255.83" y2="291.6" stroke="#000" stroke-width="0.7"/>
<line x1="257.99" y1="290" x2="257.99" y2="291.6" stroke="#000" stroke-width="0.7"/>
<line x1="260.06" y1="290" x2="260.06" y2="291.6" stroke="#000" stroke-width="0.7"/>
<line x1="261.63" y1="290" x2="261.63" y2="291.6" stroke="#000" stroke-width="0.7"/>
<line x1="264.06" y1="290" x2="264.06" y2="291.6" stroke="#000" stroke-width="0.7"/>
<line x1="265.67" y1="290" x2="265.67" y2="291.6" stroke="#000" stroke-width="0.7"/>
<line x1="266.95" y1="290" x2="266.95" y2="291.6" stroke="#000" stroke-width="0.7"/>
<line x1="268.2" y1="290" x2="268.2" y2="291.6" stroke="#000" stroke-width="0.7"/>
<line x1="269.93" y1="290" x2="269.93" y2="291.6" stroke="#000" stroke-width="0.7"/>
<line x1="272.27" y1="290" x2="272.27" y2="291.6" stroke="#000" stroke-width="0.7"/>
<line x1="274.62" y1="290" x2="274.62" y2="291.6" stroke="#000" stroke-width="0.7"/>
<text x="217" y="246.1" font-size="5.8" text-anchor="end" stroke="#000" stroke-width="0.12" textLength="6.3" lengthAdjust="spacingAndGlyphs">10</text>
<text x="217.3" y="244.1" font-size="3.8">5</text>
<text x="217" y="257.3" font-size="5.8" text-anchor="end" stroke="#000" stroke-width="0.12" textLength="6.3" lengthAdjust="spacingAndGlyphs">10</text>
<text x="217.3" y="255.3" font-size="3.8">4</text>
<text x="217" y="271" font-size="5.8" text-anchor="end" stroke="#000" stroke-width="0.12" textLength="6.3" lengthAdjust="spacingAndGlyphs">10</text>
<text x="217.3" y="269" font-size="3.8">3</text>
<text x="219.2" y="279.6" font-size="5.8" text-anchor="end" stroke="#000" stroke-width="0.12">0</text>
<text x="217" y="287.5" font-size="5.8" text-anchor="end" stroke="#000" stroke-width="0.12" textLength="8.6" lengthAdjust="spacingAndGlyphs">-10</text>
<text x="217.3" y="285.5" font-size="3.8">3</text>
<text x="234.2" y="299.1" font-size="5.8" text-anchor="middle" stroke="#000" stroke-width="0.12">0</text>
<text x="245.1" y="299.1" font-size="5.8" stroke="#000" stroke-width="0.12" textLength="6.3" lengthAdjust="spacingAndGlyphs">10</text>
<text x="251.8" y="297.1" font-size="3.8">3</text>
<text x="256.7" y="299.1" font-size="5.8" stroke="#000" stroke-width="0.12" textLength="6.3" lengthAdjust="spacingAndGlyphs">10</text>
<text x="263.4" y="297.1" font-size="3.8">4</text>
<text x="266.7" y="299.1" font-size="5.8" stroke="#000" stroke-width="0.12" textLength="6.3" lengthAdjust="spacingAndGlyphs">10</text>
<text x="273.4" y="297.1" font-size="3.8">5</text>
<text x="252.7" y="254.3" font-size="6.3" stroke="#000" stroke-width="0.08">15.9</text>
<path d="M244,264.6 C250,262.5 252,264 251,265.5 C249,267 246,267 243,266.6 Z" fill="#5070f0" opacity="0.35" filter="url(#b2)"/>
<rect x="227.6" y="261.4" width="14.6" height="6.6" rx="3" ry="2.5" fill="#4a6cf2" opacity="0.6" filter="url(#b1)"/>
<circle cx="225.61" cy="264.29" r="0.5" fill="#3050e8" opacity="0.35"/>
<circle cx="230.29" cy="262.8" r="0.5" fill="#3050e8" opacity="0.37"/>
<circle cx="241.93" cy="265.36" r="0.5" fill="#3050e8" opacity="0.55"/>
<circle cx="233.42" cy="267.4" r="0.5" fill="#3050e8" opacity="0.47"/>
<circle cx="241.18" cy="262.53" r="0.5" fill="#3050e8" opacity="0.46"/>
<circle cx="230.38" cy="261.8" r="0.5" fill="#3050e8" opacity="0.22"/>
<circle cx="230.2" cy="262.68" r="0.5" fill="#3050e8" opacity="0.44"/>
<circle cx="238.16" cy="263.36" r="0.5" fill="#3050e8" opacity="0.56"/>
<circle cx="245.51" cy="267.36" r="0.5" fill="#3050e8" opacity="0.44"/>
<circle cx="221.87" cy="264.87" r="0.5" fill="#3050e8" opacity="0.51"/>
<circle cx="240.22" cy="267.59" r="0.5" fill="#3050e8" opacity="0.4"/>
<circle cx="225.82" cy="268.46" r="0.5" fill="#3050e8" opacity="0.49"/>
<circle cx="238.2" cy="264.54" r="0.5" fill="#3050e8" opacity="0.38"/>
<circle cx="226.97" cy="262.33" r="0.5" fill="#3050e8" opacity="0.36"/>
<circle cx="245.51" cy="263.9" r="0.5" fill="#3050e8" opacity="0.29"/>
<circle cx="230.31" cy="265.5" r="0.5" fill="#3050e8" opacity="0.59"/>
<circle cx="229.91" cy="263.05" r="0.5" fill="#3050e8" opacity="0.54"/>
<circle cx="229.83" cy="265.94" r="0.5" fill="#3050e8" opacity="0.27"/>
<circle cx="242.47" cy="266.3" r="0.5" fill="#3050e8" opacity="0.26"/>
<circle cx="238.98" cy="264.72" r="0.5" fill="#3050e8" opacity="0.28"/>
<circle cx="232.16" cy="268.83" r="0.5" fill="#3050e8" opacity="0.42"/>
<circle cx="238.81" cy="266.2" r="0.5" fill="#3050e8" opacity="0.33"/>
<circle cx="240.97" cy="264.26" r="0.5" fill="#3050e8" opacity="0.5"/>
<circle cx="240.01" cy="263.31" r="0.5" fill="#3050e8" opacity="0.41"/>
<circle cx="233.33" cy="267.53" r="0.5" fill="#3050e8" opacity="0.49"/>
<circle cx="245.4" cy="264.04" r="0.5" fill="#3050e8" opacity="0.42"/>
<circle cx="243.14" cy="266.79" r="0.5" fill="#3050e8" opacity="0.4"/>
<circle cx="234.31" cy="262.11" r="0.5" fill="#3050e8" opacity="0.27"/>
<circle cx="238.51" cy="262.45" r="0.5" fill="#3050e8" opacity="0.25"/>
<circle cx="244.43" cy="262.92" r="0.5" fill="#3050e8" opacity="0.22"/>
<circle cx="232.35" cy="265.19" r="0.5" fill="#3050e8" opacity="0.45"/>
<circle cx="232.16" cy="265.19" r="0.5" fill="#3050e8" opacity="0.57"/>
<circle cx="237.27" cy="263.73" r="0.5" fill="#3050e8" opacity="0.38"/>
<circle cx="239.48" cy="264.8" r="0.5" fill="#3050e8" opacity="0.27"/>
<circle cx="233.33" cy="267.02" r="0.5" fill="#3050e8" opacity="0.6"/>
<circle cx="235.9" cy="267.44" r="0.5" fill="#3050e8" opacity="0.57"/>
<circle cx="246.54" cy="266.07" r="0.5" fill="#3050e8" opacity="0.46"/>
<circle cx="232.02" cy="263.01" r="0.5" fill="#3050e8" opacity="0.59"/>
<circle cx="243.86" cy="264.4" r="0.5" fill="#3050e8" opacity="0.3"/>
<circle cx="237.23" cy="266.05" r="0.5" fill="#3050e8" opacity="0.57"/>
<circle cx="240.17" cy="263.45" r="0.5" fill="#3050e8" opacity="0.38"/>
<circle cx="243.13" cy="263.49" r="0.5" fill="#3050e8" opacity="0.28"/>
<circle cx="234.22" cy="262.81" r="0.5" fill="#3050e8" opacity="0.34"/>
<circle cx="227.79" cy="263.63" r="0.5" fill="#3050e8" opacity="0.58"/>
<circle cx="231.46" cy="266.36" r="0.5" fill="#3050e8" opacity="0.55"/>
<circle cx="231.54" cy="265" r="0.5" fill="#3050e8" opacity="0.31"/>
<circle cx="230.96" cy="264.1" r="0.5" fill="#3050e8" opacity="0.53"/>
<circle cx="233.9" cy="265.75" r="0.5" fill="#3050e8" opacity="0.22"/>
<circle cx="235.33" cy="263.47" r="0.5" fill="#3050e8" opacity="0.26"/>
<circle cx="235.38" cy="262.33" r="0.5" fill="#3050e8" opacity="0.36"/>
<circle cx="229.39" cy="262.09" r="0.5" fill="#3050e8" opacity="0.54"/>
<circle cx="241.62" cy="263.93" r="0.5" fill="#3050e8" opacity="0.55"/>
<circle cx="238.73" cy="265.74" r="0.5" fill="#3050e8" opacity="0.4"/>
<circle cx="236.32" cy="263.56" r="0.5" fill="#3050e8" opacity="0.2"/>
<circle cx="232.1" cy="264.2" r="0.5" fill="#3050e8" opacity="0.27"/>
<circle cx="237.07" cy="266.52" r="0.5" fill="#3050e8" opacity="0.36"/>
<circle cx="236.45" cy="264.18" r="0.5" fill="#3050e8" opacity="0.33"/>
<circle cx="243.5" cy="263.7" r="0.5" fill="#3050e8" opacity="0.43"/>
<circle cx="238.68" cy="263.38" r="0.5" fill="#3050e8" opacity="0.21"/>
<circle cx="233.78" cy="266.45" r="0.5" fill="#3050e8" opacity="0.26"/>
<circle cx="228.02" cy="264.96" r="0.5" fill="#3050e8" opacity="0.52"/>
<circle cx="232.89" cy="264.04" r="0.5" fill="#3050e8" opacity="0.37"/>
<circle cx="233.2" cy="263.08" r="0.5" fill="#3050e8" opacity="0.21"/>
<circle cx="239.43" cy="266.44" r="0.5" fill="#3050e8" opacity="0.57"/>
<circle cx="232.42" cy="264.13" r="0.5" fill="#3050e8" opacity="0.24"/>
<circle cx="233.84" cy="261.94" r="0.5" fill="#3050e8" opacity="0.42"/>
<circle cx="223.91" cy="265.06" r="0.5" fill="#3050e8" opacity="0.5"/>
<circle cx="233.2" cy="263.9" r="0.5" fill="#3050e8" opacity="0.24"/>
<circle cx="244.51" cy="262.18" r="0.5" fill="#3050e8" opacity="0.32"/>
<circle cx="228.65" cy="262.67" r="0.5" fill="#3050e8" opacity="0.29"/>
<circle cx="229.1" cy="263.16" r="0.5" fill="#3050e8" opacity="0.2"/>
<circle cx="233.36" cy="265.1" r="0.5" fill="#3050e8" opacity="0.37"/>
<circle cx="219.37" cy="266.14" r="0.5" fill="#3050e8" opacity="0.23"/>
<circle cx="226.52" cy="261.42" r="0.5" fill="#3050e8" opacity="0.52"/>
<circle cx="234.4" cy="268.33" r="0.5" fill="#3050e8" opacity="0.52"/>
<circle cx="234.94" cy="264.44" r="0.5" fill="#3050e8" opacity="0.51"/>
<circle cx="238.15" cy="265.4" r="0.5" fill="#3050e8" opacity="0.6"/>
<circle cx="235.59" cy="266.43" r="0.5" fill="#3050e8" opacity="0.48"/>
<circle cx="232.88" cy="267.08" r="0.5" fill="#3050e8" opacity="0.24"/>
<circle cx="235.84" cy="269.23" r="0.5" fill="#3050e8" opacity="0.52"/>
<circle cx="227.63" cy="265.26" r="0.5" fill="#3050e8" opacity="0.55"/>
<circle cx="239.31" cy="265.85" r="0.5" fill="#3050e8" opacity="0.24"/>
<circle cx="226.19" cy="263.3" r="0.5" fill="#3050e8" opacity="0.4"/>
<circle cx="237.55" cy="265.25" r="0.5" fill="#3050e8" opacity="0.59"/>
<circle cx="246.65" cy="263.59" r="0.5" fill="#3050e8" opacity="0.27"/>
<circle cx="235.62" cy="264.26" r="0.5" fill="#3050e8" opacity="0.57"/>
<circle cx="235.24" cy="266.97" r="0.5" fill="#3050e8" opacity="0.33"/>
<circle cx="232.93" cy="263.38" r="0.5" fill="#3050e8" opacity="0.43"/>
<circle cx="232.48" cy="262.51" r="0.5" fill="#3050e8" opacity="0.44"/>
<circle cx="236.48" cy="265.68" r="0.5" fill="#3050e8" opacity="0.23"/>
<circle cx="236.76" cy="264.8" r="0.5" fill="#3050e8" opacity="0.28"/>
<circle cx="225.83" cy="263.28" r="0.5" fill="#3050e8" opacity="0.44"/>
<circle cx="237.34" cy="262.55" r="0.5" fill="#3050e8" opacity="0.27"/>
<circle cx="231.3" cy="261.34" r="0.5" fill="#3050e8" opacity="0.43"/>
<circle cx="233.92" cy="263.63" r="0.5" fill="#3050e8" opacity="0.39"/>
<circle cx="236.54" cy="260.25" r="0.5" fill="#3050e8" opacity="0.56"/>
<circle cx="232.6" cy="268.24" r="0.5" fill="#3050e8" opacity="0.26"/>
<circle cx="237.28" cy="264.69" r="0.5" fill="#3050e8" opacity="0.46"/>
<circle cx="234.9" cy="259.91" r="0.5" fill="#3050e8" opacity="0.35"/>
<circle cx="246.98" cy="264.71" r="0.5" fill="#3050e8" opacity="0.5"/>
<circle cx="225.9" cy="265.01" r="0.5" fill="#3050e8" opacity="0.31"/>
<circle cx="228.18" cy="263.65" r="0.5" fill="#3050e8" opacity="0.55"/>
<circle cx="231.91" cy="262.5" r="0.5" fill="#3050e8" opacity="0.54"/>
<circle cx="237.04" cy="264" r="0.5" fill="#3050e8" opacity="0.34"/>
<circle cx="232.36" cy="262.14" r="0.5" fill="#3050e8" opacity="0.41"/>
<circle cx="232.45" cy="265.92" r="0.5" fill="#3050e8" opacity="0.34"/>
<circle cx="240.93" cy="263.27" r="0.5" fill="#3050e8" opacity="0.52"/>
<circle cx="230.52" cy="262.65" r="0.5" fill="#3050e8" opacity="0.37"/>
<circle cx="231.5" cy="263.75" r="0.5" fill="#3050e8" opacity="0.5"/>
<circle cx="221.85" cy="266.19" r="0.5" fill="#3050e8" opacity="0.42"/>
<circle cx="229.26" cy="260.35" r="0.5" fill="#3050e8" opacity="0.57"/>
<circle cx="227.15" cy="264.43" r="0.5" fill="#3050e8" opacity="0.56"/>
<circle cx="231.88" cy="264.36" r="0.5" fill="#3050e8" opacity="0.47"/>
<circle cx="240.8" cy="266.95" r="0.5" fill="#3050e8" opacity="0.39"/>
<circle cx="236.17" cy="265.77" r="0.5" fill="#3050e8" opacity="0.41"/>
<circle cx="244.84" cy="263.44" r="0.5" fill="#3050e8" opacity="0.39"/>
<circle cx="238.08" cy="261.12" r="0.5" fill="#3050e8" opacity="0.47"/>
<circle cx="237.64" cy="263.9" r="0.5" fill="#3050e8" opacity="0.32"/>
<circle cx="238.05" cy="267.41" r="0.5" fill="#3050e8" opacity="0.42"/>
<circle cx="239.06" cy="264.72" r="0.5" fill="#3050e8" opacity="0.53"/>
<circle cx="246.21" cy="263.51" r="0.45" fill="#4060f0" opacity="0.15"/>
<circle cx="251.87" cy="266.16" r="0.45" fill="#4060f0" opacity="0.29"/>
<circle cx="252.62" cy="264.04" r="0.45" fill="#4060f0" opacity="0.25"/>
<circle cx="247.54" cy="268.47" r="0.45" fill="#4060f0" opacity="0.32"/>
<circle cx="242.36" cy="262.07" r="0.45" fill="#4060f0" opacity="0.29"/>
<circle cx="246.83" cy="262.75" r="0.45" fill="#4060f0" opacity="0.36"/>
<circle cx="246.5" cy="265.46" r="0.45" fill="#4060f0" opacity="0.14"/>
<circle cx="252.17" cy="264.9" r="0.45" fill="#4060f0" opacity="0.39"/>
<circle cx="245.15" cy="265.22" r="0.45" fill="#4060f0" opacity="0.3"/>
<circle cx="245.99" cy="264.65" r="0.45" fill="#4060f0" opacity="0.2"/>
<circle cx="245.38" cy="266.97" r="0.45" fill="#4060f0" opacity="0.16"/>
<circle cx="244.23" cy="265.81" r="0.45" fill="#4060f0" opacity="0.3"/>
<circle cx="251.61" cy="266.58" r="0.45" fill="#4060f0" opacity="0.4"/>
<circle cx="244.04" cy="266.55" r="0.45" fill="#4060f0" opacity="0.11"/>
<circle cx="242.41" cy="266.58" r="0.45" fill="#4060f0" opacity="0.14"/>
<circle cx="247.09" cy="264.1" r="0.45" fill="#4060f0" opacity="0.11"/>
<circle cx="243.51" cy="263.83" r="0.45" fill="#4060f0" opacity="0.2"/>
<circle cx="245.67" cy="267.06" r="0.45" fill="#4060f0" opacity="0.36"/>
<circle cx="244.2" cy="264.1" r="0.45" fill="#4060f0" opacity="0.28"/>
<circle cx="250.79" cy="264.44" r="0.45" fill="#4060f0" opacity="0.18"/>
<circle cx="244.24" cy="262.55" r="0.45" fill="#4060f0" opacity="0.24"/>
<circle cx="243.78" cy="262.93" r="0.45" fill="#4060f0" opacity="0.16"/>
<circle cx="245.46" cy="265.99" r="0.45" fill="#4060f0" opacity="0.29"/>
<circle cx="248.51" cy="265.46" r="0.45" fill="#4060f0" opacity="0.38"/>
<circle cx="244.58" cy="263.91" r="0.45" fill="#4060f0" opacity="0.19"/>
<circle cx="247.81" cy="266.07" r="0.45" fill="#4060f0" opacity="0.13"/>
<circle cx="234.98" cy="264.13" r="0.45" fill="#4060f0" opacity="0.33"/>
<circle cx="243.01" cy="265.42" r="0.45" fill="#4060f0" opacity="0.37"/>
<circle cx="248.39" cy="265.03" r="0.45" fill="#4060f0" opacity="0.11"/>
<circle cx="242.41" cy="264.32" r="0.45" fill="#4060f0" opacity="0.36"/>
<circle cx="245.99" cy="264.96" r="0.45" fill="#4060f0" opacity="0.39"/>
<circle cx="244.52" cy="265.66" r="0.45" fill="#4060f0" opacity="0.15"/>
<circle cx="249.91" cy="265.68" r="0.45" fill="#4060f0" opacity="0.22"/>
<circle cx="243.53" cy="267.08" r="0.45" fill="#4060f0" opacity="0.18"/>
<circle cx="240.88" cy="263.11" r="0.45" fill="#4060f0" opacity="0.12"/>
<circle cx="236.26" cy="263.7" r="0.45" fill="#4060f0" opacity="0.24"/>
<circle cx="242.61" cy="264.56" r="0.45" fill="#4060f0" opacity="0.12"/>
<circle cx="245.01" cy="266.15" r="0.45" fill="#4060f0" opacity="0.11"/>
<circle cx="250.76" cy="265.56" r="0.45" fill="#4060f0" opacity="0.2"/>
<circle cx="242.08" cy="261.86" r="0.45" fill="#4060f0" opacity="0.14"/>
<ellipse cx="234.2" cy="263.8" rx="4.6" ry="2.1" fill="#58d068" opacity="0.95" filter="url(#b1)" transform="rotate(0 234.2 263.8)"/>
<circle cx="231.65" cy="264.09" r="0.45" fill="#2050e0" opacity="0.53"/>
<circle cx="234.92" cy="265.19" r="0.45" fill="#2050e0" opacity="0.66"/>
<circle cx="233.64" cy="264.22" r="0.45" fill="#2050e0" opacity="0.65"/>
<circle cx="230.69" cy="264.25" r="0.45" fill="#2050e0" opacity="0.69"/>
<circle cx="243.11" cy="263.62" r="0.45" fill="#2050e0" opacity="0.52"/>
<circle cx="241.09" cy="265.5" r="0.45" fill="#2050e0" opacity="0.61"/>
<circle cx="236.4" cy="264.07" r="0.45" fill="#2050e0" opacity="0.68"/>
<circle cx="234.06" cy="265.32" r="0.45" fill="#2050e0" opacity="0.44"/>
<circle cx="230.55" cy="262.87" r="0.45" fill="#2050e0" opacity="0.51"/>
<circle cx="237.91" cy="264.98" r="0.45" fill="#2050e0" opacity="0.5"/>
<circle cx="234.47" cy="263.32" r="0.45" fill="#2050e0" opacity="0.42"/>
<circle cx="234.35" cy="263.33" r="0.45" fill="#2050e0" opacity="0.62"/>
<circle cx="233.96" cy="264.97" r="0.45" fill="#2050e0" opacity="0.39"/>
<circle cx="232.62" cy="263.99" r="0.45" fill="#2050e0" opacity="0.58"/>
<circle cx="228.16" cy="262.88" r="0.45" fill="#2050e0" opacity="0.58"/>
<circle cx="238.96" cy="263.93" r="0.45" fill="#2050e0" opacity="0.39"/>
<circle cx="229.38" cy="264.94" r="0.45" fill="#2050e0" opacity="0.36"/>
<circle cx="233.36" cy="262.8" r="0.45" fill="#2050e0" opacity="0.44"/>
<circle cx="231.81" cy="264.19" r="0.45" fill="#2050e0" opacity="0.32"/>
<circle cx="231.46" cy="262.66" r="0.45" fill="#2050e0" opacity="0.48"/>
<circle cx="239.95" cy="263.93" r="0.45" fill="#2050e0" opacity="0.65"/>
<circle cx="230.29" cy="262.87" r="0.45" fill="#2050e0" opacity="0.69"/>
<circle cx="234.83" cy="262.36" r="0.45" fill="#2050e0" opacity="0.42"/>
<circle cx="235.67" cy="264.81" r="0.45" fill="#2050e0" opacity="0.58"/>
<circle cx="235.55" cy="264.34" r="0.45" fill="#2050e0" opacity="0.38"/>
<ellipse cx="235" cy="263.3" rx="1.8" ry="1" fill="#d0c020" opacity="0.85" filter="url(#b1)" transform="rotate(0 235 263.3)"/>
<rect x="317.5" y="246.4" width="31.2" height="33.1" fill="none" stroke="#9aa6a6" stroke-width="1.0"/>
<rect x="298" y="240.9" width="53.4" height="49.1" fill="none" stroke="#111" stroke-width="1.6" rx="0.6"/>
<line x1="296.4" y1="241.9" x2="298" y2="241.9" stroke="#000" stroke-width="0.7"/>
<line x1="296.4" y1="243.68" x2="298" y2="243.68" stroke="#000" stroke-width="0.7"/>
<line x1="296.4" y1="246.12" x2="298" y2="246.12" stroke="#000" stroke-width="0.7"/>
<line x1="296.4" y1="248.67" x2="298" y2="248.67" stroke="#000" stroke-width="0.7"/>
<line x1="296.4" y1="250.77" x2="298" y2="250.77" stroke="#000" stroke-width="0.7"/>
<line x1="296.4" y1="252.71" x2="298" y2="252.71" stroke="#000" stroke-width="0.7"/>
<line x1="296.4" y1="255.09" x2="298" y2="255.09" stroke="#000" stroke-width="0.7"/>
<line x1="296.4" y1="256.56" x2="298" y2="256.56" stroke="#000" stroke-width="0.7"/>
<line x1="296.4" y1="257.86" x2="298" y2="257.86" stroke="#000" stroke-width="0.7"/>
<line x1="296.4" y1="259.4" x2="298" y2="259.4" stroke="#000" stroke-width="0.7"/>
<line x1="296.4" y1="261.02" x2="298" y2="261.02" stroke="#000" stroke-width="0.7"/>
<line x1="296.4" y1="263.03" x2="298" y2="263.03" stroke="#000" stroke-width="0.7"/>
<line x1="296.4" y1="265.13" x2="298" y2="265.13" stroke="#000" stroke-width="0.7"/>
<line x1="296.4" y1="267.7" x2="298" y2="267.7" stroke="#000" stroke-width="0.7"/>
<line x1="296.4" y1="269.44" x2="298" y2="269.44" stroke="#000" stroke-width="0.7"/>
<line x1="296.4" y1="271.33" x2="298" y2="271.33" stroke="#000" stroke-width="0.7"/>
<line x1="296.4" y1="273.29" x2="298" y2="273.29" stroke="#000" stroke-width="0.7"/>
<line x1="296.4" y1="274.88" x2="298" y2="274.88" stroke="#000" stroke-width="0.7"/>
<line x1="296.4" y1="276.31" x2="298" y2="276.31" stroke="#000" stroke-width="0.7"/>
<line x1="296.4" y1="278.71" x2="298" y2="278.71" stroke="#000" stroke-width="0.7"/>
<line x1="296.4" y1="281.15" x2="298" y2="281.15" stroke="#000" stroke-width="0.7"/>
<line x1="296.4" y1="282.43" x2="298" y2="282.43" stroke="#000" stroke-width="0.7"/>
<line x1="296.4" y1="283.7" x2="298" y2="283.7" stroke="#000" stroke-width="0.7"/>
<line x1="296.4" y1="285.37" x2="298" y2="285.37" stroke="#000" stroke-width="0.7"/>
<line x1="296.4" y1="287.24" x2="298" y2="287.24" stroke="#000" stroke-width="0.7"/>
<line x1="296.4" y1="288.52" x2="298" y2="288.52" stroke="#000" stroke-width="0.7"/>
<line x1="299" y1="290" x2="299" y2="291.6" stroke="#000" stroke-width="0.7"/>
<line x1="301.5" y1="290" x2="301.5" y2="291.6" stroke="#000" stroke-width="0.7"/>
<line x1="303.71" y1="290" x2="303.71" y2="291.6" stroke="#000" stroke-width="0.7"/>
<line x1="306.22" y1="290" x2="306.22" y2="291.6" stroke="#000" stroke-width="0.7"/>
<line x1="307.78" y1="290" x2="307.78" y2="291.6" stroke="#000" stroke-width="0.7"/>
<line x1="310.18" y1="290" x2="310.18" y2="291.6" stroke="#000" stroke-width="0.7"/>
<line x1="312.15" y1="290" x2="312.15" y2="291.6" stroke="#000" stroke-width="0.7"/>
<line x1="314.29" y1="290" x2="314.29" y2="291.6" stroke="#000" stroke-width="0.7"/>
<line x1="315.74" y1="290" x2="315.74" y2="291.6" stroke="#000" stroke-width="0.7"/>
<line x1="317.04" y1="290" x2="317.04" y2="291.6" stroke="#000" stroke-width="0.7"/>
<line x1="318.64" y1="290" x2="318.64" y2="291.6" stroke="#000" stroke-width="0.7"/>
<line x1="320.29" y1="290" x2="320.29" y2="291.6" stroke="#000" stroke-width="0.7"/>
<line x1="322.13" y1="290" x2="322.13" y2="291.6" stroke="#000" stroke-width="0.7"/>
<line x1="323.51" y1="290" x2="323.51" y2="291.6" stroke="#000" stroke-width="0.7"/>
<line x1="325.33" y1="290" x2="325.33" y2="291.6" stroke="#000" stroke-width="0.7"/>
<line x1="327.03" y1="290" x2="327.03" y2="291.6" stroke="#000" stroke-width="0.7"/>
<line x1="328.76" y1="290" x2="328.76" y2="291.6" stroke="#000" stroke-width="0.7"/>
<line x1="331.17" y1="290" x2="331.17" y2="291.6" stroke="#000" stroke-width="0.7"/>
<line x1="332.59" y1="290" x2="332.59" y2="291.6" stroke="#000" stroke-width="0.7"/>
<line x1="334.63" y1="290" x2="334.63" y2="291.6" stroke="#000" stroke-width="0.7"/>
<line x1="336.09" y1="290" x2="336.09" y2="291.6" stroke="#000" stroke-width="0.7"/>
<line x1="337.45" y1="290" x2="337.45" y2="291.6" stroke="#000" stroke-width="0.7"/>
<line x1="340.01" y1="290" x2="340.01" y2="291.6" stroke="#000" stroke-width="0.7"/>
<line x1="342.51" y1="290" x2="342.51" y2="291.6" stroke="#000" stroke-width="0.7"/>
<line x1="344.84" y1="290" x2="344.84" y2="291.6" stroke="#000" stroke-width="0.7"/>
<line x1="346.86" y1="290" x2="346.86" y2="291.6" stroke="#000" stroke-width="0.7"/>
<line x1="349.39" y1="290" x2="349.39" y2="291.6" stroke="#000" stroke-width="0.7"/>
<text x="292.8" y="246.1" font-size="5.8" text-anchor="end" stroke="#000" stroke-width="0.12" textLength="6.3" lengthAdjust="spacingAndGlyphs">10</text>
<text x="293.1" y="244.1" font-size="3.8">5</text>
<text x="292.8" y="257.3" font-size="5.8" text-anchor="end" stroke="#000" stroke-width="0.12" textLength="6.3" lengthAdjust="spacingAndGlyphs">10</text>
<text x="293.1" y="255.3" font-size="3.8">4</text>
<text x="292.8" y="271" font-size="5.8" text-anchor="end" stroke="#000" stroke-width="0.12" textLength="6.3" lengthAdjust="spacingAndGlyphs">10</text>
<text x="293.1" y="269" font-size="3.8">3</text>
<text x="295" y="279.6" font-size="5.8" text-anchor="end" stroke="#000" stroke-width="0.12">0</text>
<text x="292.8" y="287.5" font-size="5.8" text-anchor="end" stroke="#000" stroke-width="0.12" textLength="8.6" lengthAdjust="spacingAndGlyphs">-10</text>
<text x="293.1" y="285.5" font-size="3.8">3</text>
<text x="310" y="299.1" font-size="5.8" text-anchor="middle" stroke="#000" stroke-width="0.12">0</text>
<text x="320.9" y="299.1" font-size="5.8" stroke="#000" stroke-width="0.12" textLength="6.3" lengthAdjust="spacingAndGlyphs">10</text>
<text x="327.6" y="297.1" font-size="3.8">3</text>
<text x="332.5" y="299.1" font-size="5.8" stroke="#000" stroke-width="0.12" textLength="6.3" lengthAdjust="spacingAndGlyphs">10</text>
<text x="339.2" y="297.1" font-size="3.8">4</text>
<text x="342.5" y="299.1" font-size="5.8" stroke="#000" stroke-width="0.12" textLength="6.3" lengthAdjust="spacingAndGlyphs">10</text>
<text x="349.2" y="297.1" font-size="3.8">5</text>
<text x="328.9" y="254.3" font-size="6.3" stroke="#000" stroke-width="0.08">16.1</text>
<ellipse cx="311.5" cy="264.3" rx="8" ry="2.8" fill="#7088f0" opacity="0.45" filter="url(#b2)" transform="rotate(0 311.5 264.3)"/>
<ellipse cx="322" cy="264.5" rx="6" ry="2.2" fill="#90a0f0" opacity="0.3" filter="url(#b2)" transform="rotate(0 322 264.5)"/>
<circle cx="324.24" cy="266.41" r="0.45" fill="#4058e0" opacity="0.11"/>
<circle cx="304.61" cy="265.35" r="0.45" fill="#4058e0" opacity="0.48"/>
<circle cx="314.4" cy="263.93" r="0.45" fill="#4058e0" opacity="0.2"/>
<circle cx="312.06" cy="264.97" r="0.45" fill="#4058e0" opacity="0.19"/>
<circle cx="317.77" cy="263.3" r="0.45" fill="#4058e0" opacity="0.45"/>
<circle cx="309.38" cy="265.04" r="0.45" fill="#4058e0" opacity="0.42"/>
<circle cx="312.51" cy="264.08" r="0.45" fill="#4058e0" opacity="0.16"/>
<circle cx="309.64" cy="262.25" r="0.45" fill="#4058e0" opacity="0.23"/>
<circle cx="320.17" cy="266.37" r="0.45" fill="#4058e0" opacity="0.45"/>
<circle cx="309.88" cy="264.79" r="0.45" fill="#4058e0" opacity="0.22"/>
<circle cx="311.81" cy="261.97" r="0.45" fill="#4058e0" opacity="0.16"/>
<circle cx="312.98" cy="262.59" r="0.45" fill="#4058e0" opacity="0.28"/>
<circle cx="308.96" cy="265.43" r="0.45" fill="#4058e0" opacity="0.11"/>
<circle cx="311.59" cy="265.54" r="0.45" fill="#4058e0" opacity="0.37"/>
<circle cx="319.92" cy="263.27" r="0.45" fill="#4058e0" opacity="0.18"/>
<circle cx="304.79" cy="262.53" r="0.45" fill="#4058e0" opacity="0.28"/>
<circle cx="320.14" cy="265.58" r="0.45" fill="#4058e0" opacity="0.21"/>
<circle cx="313.02" cy="266.62" r="0.45" fill="#4058e0" opacity="0.37"/>
<circle cx="321.77" cy="264.04" r="0.45" fill="#4058e0" opacity="0.29"/>
<circle cx="311.27" cy="263.58" r="0.45" fill="#4058e0" opacity="0.39"/>
<circle cx="314.17" cy="263.23" r="0.45" fill="#4058e0" opacity="0.25"/>
<circle cx="313.29" cy="268.13" r="0.45" fill="#4058e0" opacity="0.2"/>
<circle cx="323.11" cy="264.18" r="0.45" fill="#4058e0" opacity="0.36"/>
<circle cx="308.95" cy="262.55" r="0.45" fill="#4058e0" opacity="0.39"/>
<circle cx="319.72" cy="263.52" r="0.45" fill="#4058e0" opacity="0.27"/>
<circle cx="308.2" cy="265.7" r="0.45" fill="#4058e0" opacity="0.41"/>
<circle cx="315.2" cy="265.93" r="0.45" fill="#4058e0" opacity="0.44"/>
<circle cx="316.55" cy="263.79" r="0.45" fill="#4058e0" opacity="0.34"/>
<circle cx="312.6" cy="266.33" r="0.45" fill="#4058e0" opacity="0.16"/>
<circle cx="308.98" cy="265.12" r="0.45" fill="#4058e0" opacity="0.36"/>
<circle cx="312.92" cy="260.97" r="0.45" fill="#4058e0" opacity="0.25"/>
<circle cx="314.6" cy="262.9" r="0.45" fill="#4058e0" opacity="0.44"/>
<circle cx="304.5" cy="264.46" r="0.45" fill="#4058e0" opacity="0.26"/>
<circle cx="312.54" cy="261.74" r="0.45" fill="#4058e0" opacity="0.32"/>
<circle cx="316.56" cy="264.67" r="0.45" fill="#4058e0" opacity="0.42"/>
<circle cx="307.19" cy="264.49" r="0.45" fill="#4058e0" opacity="0.47"/>
<circle cx="305.41" cy="262.65" r="0.45" fill="#4058e0" opacity="0.5"/>
<circle cx="316.14" cy="267.57" r="0.45" fill="#4058e0" opacity="0.46"/>
<circle cx="314.93" cy="265.85" r="0.45" fill="#4058e0" opacity="0.46"/>
<circle cx="315.51" cy="263.33" r="0.45" fill="#4058e0" opacity="0.16"/>
<circle cx="313.77" cy="264.34" r="0.45" fill="#4058e0" opacity="0.11"/>
<circle cx="304.68" cy="264.53" r="0.45" fill="#4058e0" opacity="0.15"/>
<circle cx="317.46" cy="264.51" r="0.45" fill="#4058e0" opacity="0.36"/>
<circle cx="315.35" cy="265.83" r="0.45" fill="#4058e0" opacity="0.3"/>
<circle cx="298.12" cy="262.73" r="0.45" fill="#4058e0" opacity="0.24"/>
<circle cx="314.32" cy="263.86" r="0.45" fill="#4058e0" opacity="0.29"/>
<circle cx="315.28" cy="267.64" r="0.45" fill="#4058e0" opacity="0.19"/>
<circle cx="311.83" cy="264.58" r="0.45" fill="#4058e0" opacity="0.21"/>
<circle cx="314.9" cy="264.54" r="0.45" fill="#4058e0" opacity="0.24"/>
<circle cx="307.37" cy="264.7" r="0.45" fill="#4058e0" opacity="0.12"/>
<circle cx="316.8" cy="264.29" r="0.45" fill="#4058e0" opacity="0.5"/>
<circle cx="307.58" cy="264.59" r="0.45" fill="#4058e0" opacity="0.11"/>
<circle cx="311.13" cy="265.09" r="0.45" fill="#4058e0" opacity="0.2"/>
<circle cx="306.53" cy="261.25" r="0.45" fill="#4058e0" opacity="0.14"/>
<circle cx="317.85" cy="264.47" r="0.45" fill="#4058e0" opacity="0.3"/>
<circle cx="311.05" cy="263.42" r="0.45" fill="#4058e0" opacity="0.19"/>
<circle cx="309.55" cy="264.39" r="0.45" fill="#4058e0" opacity="0.22"/>
<circle cx="316.56" cy="263.71" r="0.45" fill="#4058e0" opacity="0.36"/>
<circle cx="310.14" cy="266.22" r="0.45" fill="#4058e0" opacity="0.11"/>
<circle cx="310.93" cy="265.36" r="0.45" fill="#4058e0" opacity="0.23"/>
<circle cx="313.68" cy="265.23" r="0.45" fill="#4058e0" opacity="0.25"/>
<circle cx="310.8" cy="265.48" r="0.45" fill="#4058e0" opacity="0.18"/>
<circle cx="315.67" cy="265.32" r="0.45" fill="#4058e0" opacity="0.23"/>
<circle cx="311.31" cy="264.8" r="0.45" fill="#4058e0" opacity="0.49"/>
<circle cx="309.33" cy="263.07" r="0.45" fill="#4058e0" opacity="0.18"/>
<circle cx="312.08" cy="262.28" r="0.45" fill="#4058e0" opacity="0.39"/>
<circle cx="314.8" cy="265.7" r="0.45" fill="#4058e0" opacity="0.41"/>
<circle cx="308.53" cy="262.55" r="0.45" fill="#4058e0" opacity="0.32"/>
<circle cx="315.5" cy="264.63" r="0.45" fill="#4058e0" opacity="0.22"/>
<circle cx="306.78" cy="264.92" r="0.45" fill="#4058e0" opacity="0.36"/>
<circle cx="309.27" cy="265.74" r="0.45" fill="#4058e0" opacity="0.41"/>
<circle cx="317.39" cy="265.19" r="0.45" fill="#4058e0" opacity="0.44"/>
<circle cx="314.86" cy="266.26" r="0.45" fill="#4058e0" opacity="0.26"/>
<circle cx="317.66" cy="266.06" r="0.45" fill="#4058e0" opacity="0.35"/>
<circle cx="309.46" cy="267.09" r="0.45" fill="#4058e0" opacity="0.13"/>
<circle cx="312.52" cy="264.42" r="0.45" fill="#4058e0" opacity="0.36"/>
<circle cx="314.17" cy="263.4" r="0.45" fill="#4058e0" opacity="0.43"/>
<circle cx="316.39" cy="262.99" r="0.45" fill="#4058e0" opacity="0.32"/>
<circle cx="319" cy="265.26" r="0.45" fill="#4058e0" opacity="0.15"/>
<circle cx="303.05" cy="263.96" r="0.45" fill="#4058e0" opacity="0.18"/>
<circle cx="308.49" cy="264.47" r="0.45" fill="#4058e0" opacity="0.24"/>
<circle cx="316.72" cy="262.12" r="0.45" fill="#4058e0" opacity="0.4"/>
<circle cx="307.75" cy="263.59" r="0.45" fill="#4058e0" opacity="0.49"/>
<circle cx="310.66" cy="267.28" r="0.45" fill="#4058e0" opacity="0.36"/>
<circle cx="311.14" cy="262.91" r="0.45" fill="#4058e0" opacity="0.28"/>
<circle cx="310.89" cy="265.49" r="0.45" fill="#4058e0" opacity="0.3"/>
<circle cx="317.5" cy="265.76" r="0.45" fill="#4058e0" opacity="0.14"/>
<circle cx="311.85" cy="264.6" r="0.45" fill="#4058e0" opacity="0.47"/>
<circle cx="314.33" cy="263.73" r="0.45" fill="#4058e0" opacity="0.42"/>
<circle cx="313.24" cy="266.48" r="0.45" fill="#4058e0" opacity="0.29"/>
<circle cx="310.17" cy="262.67" r="0.45" fill="#4058e0" opacity="0.42"/>
<circle cx="315.69" cy="265.12" r="0.45" fill="#4058e0" opacity="0.29"/>
<circle cx="312.32" cy="261.6" r="0.45" fill="#4058e0" opacity="0.27"/>
<circle cx="309.58" cy="263.8" r="0.45" fill="#4058e0" opacity="0.17"/>
<circle cx="304.54" cy="263.8" r="0.45" fill="#4058e0" opacity="0.49"/>
<circle cx="309.16" cy="262.66" r="0.45" fill="#4058e0" opacity="0.37"/>
<circle cx="313.09" cy="264.61" r="0.45" fill="#4058e0" opacity="0.43"/>
<circle cx="311.14" cy="262.78" r="0.45" fill="#4058e0" opacity="0.48"/>
<circle cx="307.99" cy="268.2" r="0.45" fill="#4058e0" opacity="0.39"/>
<circle cx="312.78" cy="264.11" r="0.45" fill="#4058e0" opacity="0.46"/>
<circle cx="315.29" cy="265.06" r="0.45" fill="#4058e0" opacity="0.31"/>
<circle cx="307.58" cy="264.05" r="0.45" fill="#4058e0" opacity="0.49"/>
<circle cx="311.96" cy="265.05" r="0.45" fill="#4058e0" opacity="0.3"/>
<circle cx="314.46" cy="266.08" r="0.45" fill="#4058e0" opacity="0.14"/>
<circle cx="312.36" cy="260.78" r="0.45" fill="#4058e0" opacity="0.32"/>
<circle cx="316.99" cy="261.84" r="0.45" fill="#4058e0" opacity="0.16"/>
<circle cx="315.01" cy="266.34" r="0.45" fill="#4058e0" opacity="0.47"/>
<circle cx="315.28" cy="265.59" r="0.45" fill="#4058e0" opacity="0.47"/>
<circle cx="316.85" cy="263.41" r="0.45" fill="#4058e0" opacity="0.34"/>
<circle cx="307.73" cy="263.69" r="0.45" fill="#4058e0" opacity="0.38"/>
<circle cx="310.26" cy="262.51" r="0.45" fill="#4058e0" opacity="0.12"/>
<circle cx="314.26" cy="266.37" r="0.45" fill="#4058e0" opacity="0.47"/>
<circle cx="306.03" cy="264.88" r="0.45" fill="#4058e0" opacity="0.45"/>
<circle cx="311.2" cy="264.14" r="0.45" fill="#4058e0" opacity="0.23"/>
<circle cx="308.81" cy="266.19" r="0.45" fill="#4058e0" opacity="0.26"/>
<circle cx="316.06" cy="264.29" r="0.45" fill="#4058e0" opacity="0.42"/>
<circle cx="305.58" cy="265.05" r="0.45" fill="#4058e0" opacity="0.25"/>
<circle cx="309.71" cy="264.58" r="0.45" fill="#4058e0" opacity="0.37"/>
<circle cx="311.99" cy="266.17" r="0.45" fill="#4058e0" opacity="0.25"/>
<circle cx="308.2" cy="263.48" r="0.45" fill="#4058e0" opacity="0.26"/>
<circle cx="310.89" cy="265.72" r="0.45" fill="#4058e0" opacity="0.26"/>
<circle cx="307.58" cy="260.45" r="0.45" fill="#4058e0" opacity="0.37"/>
<circle cx="316.6" cy="263.84" r="0.45" fill="#4058e0" opacity="0.12"/>
<circle cx="315.63" cy="266.93" r="0.45" fill="#4058e0" opacity="0.34"/>
<circle cx="320.15" cy="264.02" r="0.45" fill="#4058e0" opacity="0.18"/>
<circle cx="309.02" cy="264.84" r="0.45" fill="#4058e0" opacity="0.42"/>
<circle cx="319.9" cy="263.66" r="0.45" fill="#4058e0" opacity="0.41"/>
<circle cx="308.45" cy="260.44" r="0.45" fill="#4058e0" opacity="0.43"/>
<circle cx="313.78" cy="268.05" r="0.45" fill="#4058e0" opacity="0.34"/>
<circle cx="314.6" cy="265.06" r="0.45" fill="#4058e0" opacity="0.22"/>
<circle cx="313" cy="265" r="0.45" fill="#4058e0" opacity="0.22"/>
<circle cx="319.54" cy="265.1" r="0.45" fill="#4058e0" opacity="0.38"/>
<circle cx="315.03" cy="263.89" r="0.45" fill="#4058e0" opacity="0.49"/>
<circle cx="309.37" cy="266.47" r="0.45" fill="#4058e0" opacity="0.14"/>
<circle cx="318.21" cy="265.44" r="0.45" fill="#4058e0" opacity="0.29"/>
<circle cx="307.79" cy="265.06" r="0.45" fill="#4058e0" opacity="0.34"/>
<circle cx="305.68" cy="265.41" r="0.45" fill="#4058e0" opacity="0.32"/>
<circle cx="310.4" cy="264.5" r="0.45" fill="#4058e0" opacity="0.16"/>
<circle cx="307.21" cy="262.35" r="0.45" fill="#4058e0" opacity="0.38"/>
<circle cx="318.95" cy="264.74" r="0.45" fill="#4058e0" opacity="0.42"/>
<circle cx="311.31" cy="266.12" r="0.45" fill="#4058e0" opacity="0.36"/>
<circle cx="313.64" cy="264.42" r="0.45" fill="#4058e0" opacity="0.43"/>
<circle cx="307.5" cy="265.1" r="0.45" fill="#4058e0" opacity="0.17"/>
<circle cx="316.01" cy="264.89" r="0.45" fill="#4058e0" opacity="0.34"/>
<circle cx="310.53" cy="265.4" r="0.45" fill="#4058e0" opacity="0.43"/>
<circle cx="318.86" cy="264.92" r="0.45" fill="#4058e0" opacity="0.12"/>
<circle cx="309.33" cy="263.86" r="0.45" fill="#4058e0" opacity="0.35"/>
<circle cx="309.85" cy="262" r="0.45" fill="#4058e0" opacity="0.36"/>
<circle cx="316.1" cy="263.03" r="0.45" fill="#4058e0" opacity="0.15"/>
<circle cx="313.06" cy="262.69" r="0.45" fill="#4058e0" opacity="0.37"/>
<circle cx="312.04" cy="264.44" r="0.45" fill="#4058e0" opacity="0.2"/>
<circle cx="315.37" cy="265.63" r="0.45" fill="#4058e0" opacity="0.28"/>
<circle cx="313.37" cy="262.14" r="0.45" fill="#4058e0" opacity="0.29"/>
<circle cx="305.74" cy="264.73" r="0.45" fill="#4058e0" opacity="0.37"/>
<circle cx="309.14" cy="263.23" r="0.45" fill="#4058e0" opacity="0.39"/>
<circle cx="307.2" cy="265.67" r="0.45" fill="#4058e0" opacity="0.15"/>
<circle cx="314.16" cy="261.93" r="0.45" fill="#4058e0" opacity="0.3"/>
<circle cx="313.2" cy="261.91" r="0.45" fill="#4058e0" opacity="0.47"/>
<circle cx="314.55" cy="263.63" r="0.45" fill="#4058e0" opacity="0.43"/>
<circle cx="309.25" cy="266.05" r="0.45" fill="#4058e0" opacity="0.44"/>
<circle cx="319.42" cy="265.41" r="0.4" fill="#7080e8" opacity="0.24"/>
<circle cx="323.26" cy="265.41" r="0.4" fill="#7080e8" opacity="0.2"/>
<circle cx="315.41" cy="266.18" r="0.4" fill="#7080e8" opacity="0.14"/>
<circle cx="319.22" cy="264.57" r="0.4" fill="#7080e8" opacity="0.21"/>
<circle cx="325.33" cy="264.46" r="0.4" fill="#7080e8" opacity="0.28"/>
<circle cx="320.54" cy="263.9" r="0.4" fill="#7080e8" opacity="0.24"/>
<circle cx="332.16" cy="265.07" r="0.4" fill="#7080e8" opacity="0.18"/>
<circle cx="319.08" cy="265.27" r="0.4" fill="#7080e8" opacity="0.13"/>
<circle cx="327.12" cy="265.2" r="0.4" fill="#7080e8" opacity="0.25"/>
<circle cx="325.99" cy="266.2" r="0.4" fill="#7080e8" opacity="0.2"/>
<circle cx="320.44" cy="262.26" r="0.4" fill="#7080e8" opacity="0.12"/>
<circle cx="323.59" cy="265.49" r="0.4" fill="#7080e8" opacity="0.06"/>
<circle cx="322.8" cy="265.77" r="0.4" fill="#7080e8" opacity="0.26"/>
<circle cx="317.47" cy="266.24" r="0.4" fill="#7080e8" opacity="0.16"/>
<circle cx="319.21" cy="262.03" r="0.4" fill="#7080e8" opacity="0.29"/>
<circle cx="317.46" cy="265.23" r="0.4" fill="#7080e8" opacity="0.29"/>
<circle cx="317.06" cy="265.02" r="0.4" fill="#7080e8" opacity="0.1"/>
<circle cx="322.13" cy="267.24" r="0.4" fill="#7080e8" opacity="0.19"/>
<circle cx="327.78" cy="263.41" r="0.4" fill="#7080e8" opacity="0.25"/>
<circle cx="323.81" cy="266.57" r="0.4" fill="#7080e8" opacity="0.09"/>
<circle cx="332.96" cy="262.31" r="0.4" fill="#7080e8" opacity="0.26"/>
<circle cx="323.17" cy="261.56" r="0.4" fill="#7080e8" opacity="0.08"/>
<circle cx="315.26" cy="261.65" r="0.4" fill="#7080e8" opacity="0.2"/>
<circle cx="320" cy="265.79" r="0.4" fill="#7080e8" opacity="0.07"/>
<circle cx="329.83" cy="265.7" r="0.4" fill="#7080e8" opacity="0.13"/>
<circle cx="312.75" cy="264.66" r="0.4" fill="#7080e8" opacity="0.27"/>
<circle cx="313.74" cy="264.49" r="0.4" fill="#7080e8" opacity="0.1"/>
<circle cx="325.92" cy="266.72" r="0.4" fill="#7080e8" opacity="0.25"/>
<circle cx="321.57" cy="264.1" r="0.4" fill="#7080e8" opacity="0.08"/>
<circle cx="326.92" cy="265.79" r="0.4" fill="#7080e8" opacity="0.2"/>
<circle cx="313.14" cy="267.59" r="0.4" fill="#7080e8" opacity="0.19"/>
<circle cx="328.04" cy="267.59" r="0.4" fill="#7080e8" opacity="0.17"/>
<circle cx="323.56" cy="266.27" r="0.4" fill="#7080e8" opacity="0.06"/>
<circle cx="317.12" cy="266.3" r="0.4" fill="#7080e8" opacity="0.08"/>
<circle cx="315.44" cy="265.93" r="0.4" fill="#7080e8" opacity="0.09"/>
<circle cx="323.52" cy="263.38" r="0.4" fill="#7080e8" opacity="0.27"/>
<circle cx="327.18" cy="263.58" r="0.4" fill="#7080e8" opacity="0.26"/>
<circle cx="312.26" cy="266.27" r="0.4" fill="#7080e8" opacity="0.27"/>
<circle cx="319.38" cy="263.55" r="0.4" fill="#7080e8" opacity="0.1"/>
<circle cx="326.05" cy="263.73" r="0.4" fill="#7080e8" opacity="0.22"/>
<circle cx="309" cy="264.6" r="0.5" fill="#70c880"/>
<circle cx="313.5" cy="263.8" r="0.5" fill="#70c880"/>
<circle cx="316" cy="265.2" r="0.5" fill="#70c880"/>
<line x1="392.3" y1="177" x2="392.3" y2="255.6" stroke="#333" stroke-width="1.6"/>
<line x1="389.5" y1="178.2" x2="392.3" y2="178.2" stroke="#333" stroke-width="1.3"/>
<text x="385.8" y="180.8" font-size="7.4" text-anchor="end" stroke="#000" stroke-width="0.25" textLength="8.8" lengthAdjust="spacingAndGlyphs">20</text>
<line x1="389.5" y1="197.3" x2="392.3" y2="197.3" stroke="#333" stroke-width="1.3"/>
<text x="385.8" y="199.9" font-size="7.4" text-anchor="end" stroke="#000" stroke-width="0.25" textLength="8.8" lengthAdjust="spacingAndGlyphs">15</text>
<line x1="389.5" y1="216.4" x2="392.3" y2="216.4" stroke="#333" stroke-width="1.3"/>
<text x="385.8" y="219" font-size="7.4" text-anchor="end" stroke="#000" stroke-width="0.25" textLength="8.8" lengthAdjust="spacingAndGlyphs">10</text>
<line x1="389.5" y1="235.5" x2="392.3" y2="235.5" stroke="#333" stroke-width="1.3"/>
<text x="385.8" y="238.1" font-size="7.4" text-anchor="end" stroke="#000" stroke-width="0.25" textLength="4.4" lengthAdjust="spacingAndGlyphs">5</text>
<line x1="389.5" y1="254.6" x2="392.3" y2="254.6" stroke="#333" stroke-width="1.3"/>
<text x="385.8" y="257.2" font-size="7.4" text-anchor="end" stroke="#000" stroke-width="0.25" textLength="4.4" lengthAdjust="spacingAndGlyphs">0</text>
<line x1="391.5" y1="254.6" x2="512.9" y2="254.6" stroke="#333" stroke-width="1.7"/>
<line x1="413.7" y1="254.6" x2="413.7" y2="257.2" stroke="#333" stroke-width="1.3"/>
<line x1="439.2" y1="254.6" x2="439.2" y2="257.2" stroke="#333" stroke-width="1.3"/>
<line x1="465.2" y1="254.6" x2="465.2" y2="257.2" stroke="#333" stroke-width="1.3"/>
<line x1="491" y1="254.6" x2="491" y2="257.2" stroke="#333" stroke-width="1.3"/>
<text x="0" y="0" font-size="9.4" text-anchor="middle" stroke="#000" stroke-width="0.25" textLength="27.9" lengthAdjust="spacingAndGlyphs" transform="translate(373.0 217.15) rotate(-90)">% CD69+</text>
<line x1="403.45" y1="242.9" x2="423.95" y2="242.9" stroke="#111" stroke-width="1.4"/>
<line x1="409.7" y1="241.4" x2="417.7" y2="241.4" stroke="#111" stroke-width="1.4"/>
<line x1="409.7" y1="244.4" x2="417.7" y2="244.4" stroke="#111" stroke-width="1.4"/>
<line x1="413.7" y1="241.4" x2="413.7" y2="244.4" stroke="#333" stroke-width="1.2"/>
<circle cx="413.7" cy="240.2" r="1.65" fill="#dd0000"/>
<circle cx="416.6" cy="242.2" r="1.65" fill="#dd0000"/>
<circle cx="411.1" cy="246" r="1.65" fill="#dd0000"/>
<line x1="428.45" y1="222.9" x2="449.95" y2="222.9" stroke="#111" stroke-width="1.4"/>
<line x1="433.7" y1="211.7" x2="444.7" y2="211.7" stroke="#111" stroke-width="1.4"/>
<line x1="433.7" y1="234.2" x2="444.7" y2="234.2" stroke="#111" stroke-width="1.4"/>
<line x1="439.2" y1="211.7" x2="439.2" y2="234.2" stroke="#333" stroke-width="1.2"/>
<rect x="437.8" y="188.6" width="2.8" height="2.8" fill="#0a1fb0"/>
<rect x="437.8" y="226.5" width="2.8" height="2.8" fill="#0a1fb0"/>
<rect x="440.3" y="233.2" width="2.8" height="2.8" fill="#0a1fb0"/>
<rect x="435.5" y="237.6" width="2.8" height="2.8" fill="#0a1fb0"/>
<line x1="454.6" y1="248.8" x2="475.8" y2="248.8" stroke="#111" stroke-width="1.4"/>
<line x1="461.2" y1="248.2" x2="469.2" y2="248.2" stroke="#111" stroke-width="1.4"/>
<line x1="461.2" y1="249.4" x2="469.2" y2="249.4" stroke="#111" stroke-width="1.4"/>
<line x1="465.2" y1="248.2" x2="465.2" y2="249.4" stroke="#333" stroke-width="1.2"/>
<polygon points="460.4,246.91 462.05,249.89 458.75,249.89" fill="#22ee22"/>
<polygon points="465.2,248.71 466.85,251.69 463.55,251.69" fill="#22ee22"/>
<polygon points="470.4,247.71 472.05,250.69 468.75,250.69" fill="#22ee22"/>
<line x1="480.25" y1="223.7" x2="501.75" y2="223.7" stroke="#111" stroke-width="1.4"/>
<line x1="485.75" y1="211.7" x2="496.25" y2="211.7" stroke="#111" stroke-width="1.4"/>
<line x1="485.75" y1="236.2" x2="496.25" y2="236.2" stroke="#111" stroke-width="1.4"/>
<line x1="491" y1="211.7" x2="491" y2="236.2" stroke="#333" stroke-width="1.2"/>
<polygon points="489.35,187.01 492.65,187.01 491,189.99" fill="#1010a0"/>
<polygon points="489.35,226.41 492.65,226.41 491,229.39" fill="#1010a0"/>
<polygon points="489.35,232.71 492.65,232.71 491,235.69" fill="#1010a0"/>
<polygon points="489.35,242.01 492.65,242.01 491,244.99" fill="#1010a0"/>
<text x="418" y="264" font-size="7.9" text-anchor="end" stroke="#000" stroke-width="0.25" textLength="55.5" lengthAdjust="spacingAndGlyphs" transform="rotate(-45 418 264)">Healthy NK cell</text>
<text x="443.5" y="264" font-size="7.9" text-anchor="end" stroke="#000" stroke-width="0.25" textLength="48.5" lengthAdjust="spacingAndGlyphs" transform="rotate(-45 443.5 264)">HSCT NK cell</text>
<text x="469.5" y="264" font-size="7.9" text-anchor="end" stroke="#000" stroke-width="0.25" textLength="47" lengthAdjust="spacingAndGlyphs" transform="rotate(-45 469.5 264)">Healthy T cell</text>
<text x="495.3" y="264" font-size="7.9" text-anchor="end" stroke="#000" stroke-width="0.25" textLength="43" lengthAdjust="spacingAndGlyphs" transform="rotate(-45 495.3 264)">HSCT T cell</text>
<text x="9.5" y="328.8" font-size="11.5" font-weight="bold" stroke="#000" stroke-width="0.5" textLength="6.8" lengthAdjust="spacingAndGlyphs">D</text>
<text x="65.8" y="331.5" font-size="8.6" stroke="#000" stroke-width="0.25" textLength="30" lengthAdjust="spacingAndGlyphs">NK cells</text>
<text x="142.6" y="331.5" font-size="8.6" stroke="#000" stroke-width="0.25" textLength="23.6" lengthAdjust="spacingAndGlyphs">T cells</text>
<text x="5.8" y="360" font-size="8.6" stroke="#000" stroke-width="0.25" textLength="25" lengthAdjust="spacingAndGlyphs">Healthy</text>
<text x="10" y="430" font-size="8.6" stroke="#000" stroke-width="0.25" textLength="20.8" lengthAdjust="spacingAndGlyphs">HSCT</text>
<line x1="34.5" y1="338.8" x2="34.5" y2="440.8" stroke="#000" stroke-width="1.3"/>
<polygon points="34.5,334.8 37.1,340.4 31.9,340.4" fill="#111"/>
<text x="0" y="0" font-size="5.3" text-anchor="middle" stroke="#000" stroke-width="0.25" textLength="12" lengthAdjust="spacingAndGlyphs" transform="translate(36.4 450) rotate(-90)">SSC-A</text>
<line x1="56.2" y1="467" x2="178" y2="467" stroke="#000" stroke-width="1.4"/>
<polygon points="182,467 176.4,464.4 176.4,469.6" fill="#111"/>
<text x="44.6" y="468.9" font-size="5.3" stroke="#000" stroke-width="0.25" textLength="9.2" lengthAdjust="spacingAndGlyphs">PD-1</text>
<rect x="70.6" y="344.7" width="32.5" height="27.3" fill="none" stroke="#a4a8a8" stroke-width="1.3" rx="1.2"/>
<rect x="52.65" y="335.4" width="52.95" height="49.1" fill="none" stroke="#111" stroke-width="1.6" rx="0.6"/>
<line x1="51.05" y1="336.4" x2="52.65" y2="336.4" stroke="#000" stroke-width="0.7"/>
<line x1="51.05" y1="337.67" x2="52.65" y2="337.67" stroke="#000" stroke-width="0.7"/>
<line x1="51.05" y1="339.09" x2="52.65" y2="339.09" stroke="#000" stroke-width="0.7"/>
<line x1="51.05" y1="341.65" x2="52.65" y2="341.65" stroke="#000" stroke-width="0.7"/>
<line x1="51.05" y1="343.2" x2="52.65" y2="343.2" stroke="#000" stroke-width="0.7"/>
<line x1="51.05" y1="344.5" x2="52.65" y2="344.5" stroke="#000" stroke-width="0.7"/>
<line x1="51.05" y1="345.85" x2="52.65" y2="345.85" stroke="#000" stroke-width="0.7"/>
<line x1="51.05" y1="347.79" x2="52.65" y2="347.79" stroke="#000" stroke-width="0.7"/>
<line x1="51.05" y1="349.54" x2="52.65" y2="349.54" stroke="#000" stroke-width="0.7"/>
<line x1="51.05" y1="351.75" x2="52.65" y2="351.75" stroke="#000" stroke-width="0.7"/>
<line x1="51.05" y1="353.43" x2="52.65" y2="353.43" stroke="#000" stroke-width="0.7"/>
<line x1="51.05" y1="354.85" x2="52.65" y2="354.85" stroke="#000" stroke-width="0.7"/>
<line x1="51.05" y1="357.14" x2="52.65" y2="357.14" stroke="#000" stroke-width="0.7"/>
<line x1="51.05" y1="358.54" x2="52.65" y2="358.54" stroke="#000" stroke-width="0.7"/>
<line x1="51.05" y1="360.53" x2="52.65" y2="360.53" stroke="#000" stroke-width="0.7"/>
<line x1="51.05" y1="362.83" x2="52.65" y2="362.83" stroke="#000" stroke-width="0.7"/>
<line x1="51.05" y1="364.37" x2="52.65" y2="364.37" stroke="#000" stroke-width="0.7"/>
<line x1="51.05" y1="365.85" x2="52.65" y2="365.85" stroke="#000" stroke-width="0.7"/>
<line x1="51.05" y1="367.62" x2="52.65" y2="367.62" stroke="#000" stroke-width="0.7"/>
<line x1="51.05" y1="368.99" x2="52.65" y2="368.99" stroke="#000" stroke-width="0.7"/>
<line x1="51.05" y1="371.06" x2="52.65" y2="371.06" stroke="#000" stroke-width="0.7"/>
<line x1="51.05" y1="373.08" x2="52.65" y2="373.08" stroke="#000" stroke-width="0.7"/>
<line x1="51.05" y1="375.46" x2="52.65" y2="375.46" stroke="#000" stroke-width="0.7"/>
<line x1="51.05" y1="376.73" x2="52.65" y2="376.73" stroke="#000" stroke-width="0.7"/>
<line x1="51.05" y1="378.68" x2="52.65" y2="378.68" stroke="#000" stroke-width="0.7"/>
<line x1="51.05" y1="380.03" x2="52.65" y2="380.03" stroke="#000" stroke-width="0.7"/>
<line x1="51.05" y1="382.54" x2="52.65" y2="382.54" stroke="#000" stroke-width="0.7"/>
<line x1="53.65" y1="384.5" x2="53.65" y2="386.1" stroke="#000" stroke-width="0.7"/>
<line x1="55.38" y1="384.5" x2="55.38" y2="386.1" stroke="#000" stroke-width="0.7"/>
<line x1="57.51" y1="384.5" x2="57.51" y2="386.1" stroke="#000" stroke-width="0.7"/>
<line x1="59.42" y1="384.5" x2="59.42" y2="386.1" stroke="#000" stroke-width="0.7"/>
<line x1="61.11" y1="384.5" x2="61.11" y2="386.1" stroke="#000" stroke-width="0.7"/>
<line x1="62.83" y1="384.5" x2="62.83" y2="386.1" stroke="#000" stroke-width="0.7"/>
<line x1="64.34" y1="384.5" x2="64.34" y2="386.1" stroke="#000" stroke-width="0.7"/>
<line x1="66.89" y1="384.5" x2="66.89" y2="386.1" stroke="#000" stroke-width="0.7"/>
<line x1="68.78" y1="384.5" x2="68.78" y2="386.1" stroke="#000" stroke-width="0.7"/>
<line x1="69.98" y1="384.5" x2="69.98" y2="386.1" stroke="#000" stroke-width="0.7"/>
<line x1="72.15" y1="384.5" x2="72.15" y2="386.1" stroke="#000" stroke-width="0.7"/>
<line x1="73.58" y1="384.5" x2="73.58" y2="386.1" stroke="#000" stroke-width="0.7"/>
<line x1="75.78" y1="384.5" x2="75.78" y2="386.1" stroke="#000" stroke-width="0.7"/>
<line x1="77.97" y1="384.5" x2="77.97" y2="386.1" stroke="#000" stroke-width="0.7"/>
<line x1="79.6" y1="384.5" x2="79.6" y2="386.1" stroke="#000" stroke-width="0.7"/>
<line x1="81.86" y1="384.5" x2="81.86" y2="386.1" stroke="#000" stroke-width="0.7"/>
<line x1="83.29" y1="384.5" x2="83.29" y2="386.1" stroke="#000" stroke-width="0.7"/>
<line x1="85.07" y1="384.5" x2="85.07" y2="386.1" stroke="#000" stroke-width="0.7"/>
<line x1="86.85" y1="384.5" x2="86.85" y2="386.1" stroke="#000" stroke-width="0.7"/>
<line x1="88.57" y1="384.5" x2="88.57" y2="386.1" stroke="#000" stroke-width="0.7"/>
<line x1="90.73" y1="384.5" x2="90.73" y2="386.1" stroke="#000" stroke-width="0.7"/>
<line x1="92.5" y1="384.5" x2="92.5" y2="386.1" stroke="#000" stroke-width="0.7"/>
<line x1="93.95" y1="384.5" x2="93.95" y2="386.1" stroke="#000" stroke-width="0.7"/>
<line x1="95.91" y1="384.5" x2="95.91" y2="386.1" stroke="#000" stroke-width="0.7"/>
<line x1="97.77" y1="384.5" x2="97.77" y2="386.1" stroke="#000" stroke-width="0.7"/>
<line x1="99.59" y1="384.5" x2="99.59" y2="386.1" stroke="#000" stroke-width="0.7"/>
<line x1="101.32" y1="384.5" x2="101.32" y2="386.1" stroke="#000" stroke-width="0.7"/>
<line x1="102.95" y1="384.5" x2="102.95" y2="386.1" stroke="#000" stroke-width="0.7"/>
<line x1="105.37" y1="384.5" x2="105.37" y2="386.1" stroke="#000" stroke-width="0.7"/>
<text x="47" y="341.7" font-size="5.8" text-anchor="end" stroke="#000" stroke-width="0.12" textLength="6.3" lengthAdjust="spacingAndGlyphs">10</text>
<text x="47.3" y="339.7" font-size="3.8">5</text>
<text x="47" y="352.9" font-size="5.8" text-anchor="end" stroke="#000" stroke-width="0.12" textLength="6.3" lengthAdjust="spacingAndGlyphs">10</text>
<text x="47.3" y="350.9" font-size="3.8">4</text>
<text x="47" y="366.6" font-size="5.8" text-anchor="end" stroke="#000" stroke-width="0.12" textLength="6.3" lengthAdjust="spacingAndGlyphs">10</text>
<text x="47.3" y="364.6" font-size="3.8">3</text>
<text x="49.2" y="375.2" font-size="5.8" text-anchor="end" stroke="#000" stroke-width="0.12">0</text>
<text x="47" y="383.1" font-size="5.8" text-anchor="end" stroke="#000" stroke-width="0.12" textLength="8.6" lengthAdjust="spacingAndGlyphs">-10</text>
<text x="47.3" y="381.1" font-size="3.8">3</text>
<text x="64.2" y="394" font-size="5.8" text-anchor="middle" stroke="#000" stroke-width="0.12">0</text>
<text x="75.1" y="394" font-size="5.8" stroke="#000" stroke-width="0.12" textLength="6.3" lengthAdjust="spacingAndGlyphs">10</text>
<text x="81.8" y="392" font-size="3.8">3</text>
<text x="86.7" y="394" font-size="5.8" stroke="#000" stroke-width="0.12" textLength="6.3" lengthAdjust="spacingAndGlyphs">10</text>
<text x="93.4" y="392" font-size="3.8">4</text>
<text x="96.7" y="394" font-size="5.8" stroke="#000" stroke-width="0.12" textLength="6.3" lengthAdjust="spacingAndGlyphs">10</text>
<text x="103.4" y="392" font-size="3.8">5</text>
<text x="80.7" y="354.2" font-size="6.3" stroke="#000" stroke-width="0.08">0.12</text>
<circle cx="69.63" cy="358.54" r="0.4" fill="#8890f0" opacity="0.26"/>
<circle cx="77.22" cy="359.68" r="0.4" fill="#8890f0" opacity="0.11"/>
<circle cx="71.62" cy="358.07" r="0.4" fill="#8890f0" opacity="0.28"/>
<circle cx="68.63" cy="359.75" r="0.4" fill="#8890f0" opacity="0.24"/>
<circle cx="69.04" cy="356.68" r="0.4" fill="#8890f0" opacity="0.28"/>
<circle cx="73.83" cy="358.37" r="0.4" fill="#8890f0" opacity="0.14"/>
<circle cx="79.08" cy="357.35" r="0.4" fill="#8890f0" opacity="0.25"/>
<circle cx="77.65" cy="358.53" r="0.4" fill="#8890f0" opacity="0.29"/>
<circle cx="78.61" cy="358.01" r="0.4" fill="#8890f0" opacity="0.18"/>
<circle cx="76.5" cy="359.49" r="0.4" fill="#8890f0" opacity="0.28"/>
<circle cx="68.69" cy="358.39" r="0.4" fill="#8890f0" opacity="0.19"/>
<circle cx="74.54" cy="357.78" r="0.4" fill="#8890f0" opacity="0.2"/>
<circle cx="79.9" cy="358.21" r="0.4" fill="#8890f0" opacity="0.25"/>
<circle cx="76.35" cy="359.16" r="0.4" fill="#8890f0" opacity="0.14"/>
<circle cx="81.16" cy="356.19" r="0.4" fill="#8890f0" opacity="0.16"/>
<circle cx="79.28" cy="359.89" r="0.4" fill="#8890f0" opacity="0.26"/>
<circle cx="66.13" cy="357.67" r="0.4" fill="#8890f0" opacity="0.12"/>
<circle cx="76.37" cy="358.51" r="0.4" fill="#8890f0" opacity="0.29"/>
<circle cx="69" cy="357.51" r="0.4" fill="#8890f0" opacity="0.29"/>
<circle cx="70.09" cy="359.46" r="0.4" fill="#8890f0" opacity="0.25"/>
<circle cx="72.76" cy="358.04" r="0.4" fill="#8890f0" opacity="0.28"/>
<circle cx="79.62" cy="356.85" r="0.4" fill="#8890f0" opacity="0.17"/>
<circle cx="78.13" cy="358.74" r="0.4" fill="#8890f0" opacity="0.22"/>
<circle cx="69.98" cy="356.66" r="0.4" fill="#8890f0" opacity="0.2"/>
<circle cx="79.9" cy="357.9" r="0.4" fill="#8890f0" opacity="0.21"/>
<g transform="rotate(0 63.8 359.5)">
<rect x="57.7" y="355.5" width="12.2" height="8" rx="4.27" ry="3" fill="#1436f4" filter="url(#b1)"/>
<ellipse cx="64" cy="359.5" rx="4.64" ry="2.56" fill="#20c8e8" filter="url(#b1)"/>
<ellipse cx="64" cy="359.5" rx="4.15" ry="2.24" fill="#40e040" filter="url(#b1)"/>
<ellipse cx="64" cy="359.5" rx="2.2" ry="1.44" fill="#e8e828" filter="url(#b1)"/>
<ellipse cx="64" cy="359.5" rx="1.22" ry="1.04" fill="#f01010" filter="url(#b05)"/>
</g>
<rect x="146.5" y="344.5" width="32" height="27" fill="none" stroke="#9aa6a6" stroke-width="1.0"/>
<rect x="128.3" y="335.5" width="53.1" height="49" fill="none" stroke="#111" stroke-width="1.6" rx="0.6"/>
<line x1="126.7" y1="336.5" x2="128.3" y2="336.5" stroke="#000" stroke-width="0.7"/>
<line x1="126.7" y1="338.14" x2="128.3" y2="338.14" stroke="#000" stroke-width="0.7"/>
<line x1="126.7" y1="340.05" x2="128.3" y2="340.05" stroke="#000" stroke-width="0.7"/>
<line x1="126.7" y1="341.51" x2="128.3" y2="341.51" stroke="#000" stroke-width="0.7"/>
<line x1="126.7" y1="343.11" x2="128.3" y2="343.11" stroke="#000" stroke-width="0.7"/>
<line x1="126.7" y1="345.24" x2="128.3" y2="345.24" stroke="#000" stroke-width="0.7"/>
<line x1="126.7" y1="347.45" x2="128.3" y2="347.45" stroke="#000" stroke-width="0.7"/>
<line x1="126.7" y1="348.82" x2="128.3" y2="348.82" stroke="#000" stroke-width="0.7"/>
<line x1="126.7" y1="350.37" x2="128.3" y2="350.37" stroke="#000" stroke-width="0.7"/>
<line x1="126.7" y1="352.66" x2="128.3" y2="352.66" stroke="#000" stroke-width="0.7"/>
<line x1="126.7" y1="354.4" x2="128.3" y2="354.4" stroke="#000" stroke-width="0.7"/>
<line x1="126.7" y1="356.33" x2="128.3" y2="356.33" stroke="#000" stroke-width="0.7"/>
<line x1="126.7" y1="358.86" x2="128.3" y2="358.86" stroke="#000" stroke-width="0.7"/>
<line x1="126.7" y1="361.39" x2="128.3" y2="361.39" stroke="#000" stroke-width="0.7"/>
<line x1="126.7" y1="363.61" x2="128.3" y2="363.61" stroke="#000" stroke-width="0.7"/>
<line x1="126.7" y1="365.38" x2="128.3" y2="365.38" stroke="#000" stroke-width="0.7"/>
<line x1="126.7" y1="366.74" x2="128.3" y2="366.74" stroke="#000" stroke-width="0.7"/>
<line x1="126.7" y1="368.91" x2="128.3" y2="368.91" stroke="#000" stroke-width="0.7"/>
<line x1="126.7" y1="370.63" x2="128.3" y2="370.63" stroke="#000" stroke-width="0.7"/>
<line x1="126.7" y1="372.78" x2="128.3" y2="372.78" stroke="#000" stroke-width="0.7"/>
<line x1="126.7" y1="375.2" x2="128.3" y2="375.2" stroke="#000" stroke-width="0.7"/>
<line x1="126.7" y1="377.79" x2="128.3" y2="377.79" stroke="#000" stroke-width="0.7"/>
<line x1="126.7" y1="379.1" x2="128.3" y2="379.1" stroke="#000" stroke-width="0.7"/>
<line x1="126.7" y1="381.52" x2="128.3" y2="381.52" stroke="#000" stroke-width="0.7"/>
<line x1="126.7" y1="383.25" x2="128.3" y2="383.25" stroke="#000" stroke-width="0.7"/>
<line x1="126.7" y1="384.48" x2="128.3" y2="384.48" stroke="#000" stroke-width="0.7"/>
<line x1="129.3" y1="384.5" x2="129.3" y2="386.1" stroke="#000" stroke-width="0.7"/>
<line x1="131" y1="384.5" x2="131" y2="386.1" stroke="#000" stroke-width="0.7"/>
<line x1="132.8" y1="384.5" x2="132.8" y2="386.1" stroke="#000" stroke-width="0.7"/>
<line x1="134.08" y1="384.5" x2="134.08" y2="386.1" stroke="#000" stroke-width="0.7"/>
<line x1="136.39" y1="384.5" x2="136.39" y2="386.1" stroke="#000" stroke-width="0.7"/>
<line x1="138.8" y1="384.5" x2="138.8" y2="386.1" stroke="#000" stroke-width="0.7"/>
<line x1="140.63" y1="384.5" x2="140.63" y2="386.1" stroke="#000" stroke-width="0.7"/>
<line x1="143.14" y1="384.5" x2="143.14" y2="386.1" stroke="#000" stroke-width="0.7"/>
<line x1="145.54" y1="384.5" x2="145.54" y2="386.1" stroke="#000" stroke-width="0.7"/>
<line x1="147.76" y1="384.5" x2="147.76" y2="386.1" stroke="#000" stroke-width="0.7"/>
<line x1="149.24" y1="384.5" x2="149.24" y2="386.1" stroke="#000" stroke-width="0.7"/>
<line x1="150.47" y1="384.5" x2="150.47" y2="386.1" stroke="#000" stroke-width="0.7"/>
<line x1="152.71" y1="384.5" x2="152.71" y2="386.1" stroke="#000" stroke-width="0.7"/>
<line x1="154.09" y1="384.5" x2="154.09" y2="386.1" stroke="#000" stroke-width="0.7"/>
<line x1="155.73" y1="384.5" x2="155.73" y2="386.1" stroke="#000" stroke-width="0.7"/>
<line x1="158.26" y1="384.5" x2="158.26" y2="386.1" stroke="#000" stroke-width="0.7"/>
<line x1="160.71" y1="384.5" x2="160.71" y2="386.1" stroke="#000" stroke-width="0.7"/>
<line x1="162.3" y1="384.5" x2="162.3" y2="386.1" stroke="#000" stroke-width="0.7"/>
<line x1="163.93" y1="384.5" x2="163.93" y2="386.1" stroke="#000" stroke-width="0.7"/>
<line x1="165.83" y1="384.5" x2="165.83" y2="386.1" stroke="#000" stroke-width="0.7"/>
<line x1="168.06" y1="384.5" x2="168.06" y2="386.1" stroke="#000" stroke-width="0.7"/>
<line x1="170.09" y1="384.5" x2="170.09" y2="386.1" stroke="#000" stroke-width="0.7"/>
<line x1="171.38" y1="384.5" x2="171.38" y2="386.1" stroke="#000" stroke-width="0.7"/>
<line x1="172.85" y1="384.5" x2="172.85" y2="386.1" stroke="#000" stroke-width="0.7"/>
<line x1="174.47" y1="384.5" x2="174.47" y2="386.1" stroke="#000" stroke-width="0.7"/>
<line x1="176.93" y1="384.5" x2="176.93" y2="386.1" stroke="#000" stroke-width="0.7"/>
<line x1="179.44" y1="384.5" x2="179.44" y2="386.1" stroke="#000" stroke-width="0.7"/>
<line x1="181.08" y1="384.5" x2="181.08" y2="386.1" stroke="#000" stroke-width="0.7"/>
<text x="122.5" y="341.7" font-size="5.8" text-anchor="end" stroke="#000" stroke-width="0.12" textLength="6.3" lengthAdjust="spacingAndGlyphs">10</text>
<text x="122.8" y="339.7" font-size="3.8">5</text>
<text x="122.5" y="352.9" font-size="5.8" text-anchor="end" stroke="#000" stroke-width="0.12" textLength="6.3" lengthAdjust="spacingAndGlyphs">10</text>
<text x="122.8" y="350.9" font-size="3.8">4</text>
<text x="122.5" y="366.6" font-size="5.8" text-anchor="end" stroke="#000" stroke-width="0.12" textLength="6.3" lengthAdjust="spacingAndGlyphs">10</text>
<text x="122.8" y="364.6" font-size="3.8">3</text>
<text x="124.7" y="375.2" font-size="5.8" text-anchor="end" stroke="#000" stroke-width="0.12">0</text>
<text x="122.5" y="383.1" font-size="5.8" text-anchor="end" stroke="#000" stroke-width="0.12" textLength="8.6" lengthAdjust="spacingAndGlyphs">-10</text>
<text x="122.8" y="381.1" font-size="3.8">3</text>
<text x="139.7" y="394" font-size="5.8" text-anchor="middle" stroke="#000" stroke-width="0.12">0</text>
<text x="150.6" y="394" font-size="5.8" stroke="#000" stroke-width="0.12" textLength="6.3" lengthAdjust="spacingAndGlyphs">10</text>
<text x="157.3" y="392" font-size="3.8">3</text>
<text x="162.2" y="394" font-size="5.8" stroke="#000" stroke-width="0.12" textLength="6.3" lengthAdjust="spacingAndGlyphs">10</text>
<text x="168.9" y="392" font-size="3.8">4</text>
<text x="172.2" y="394" font-size="5.8" stroke="#000" stroke-width="0.12" textLength="6.3" lengthAdjust="spacingAndGlyphs">10</text>
<text x="178.9" y="392" font-size="3.8">5</text>
<text x="156.9" y="353.8" font-size="6.3" stroke="#000" stroke-width="0.08">18.9</text>
<path d="M139.6,355.9 C132.78,355.9 132.78,364.1 139.6,364.1 C149.2,364.1 154.96,362.6 158.8,360.52 C154.96,357.4 149.2,355.9 139.6,355.9 Z" fill="#1436f4" filter="url(#b1)" opacity="1"/>
<path d="M139.8,357 C134.85,357 134.85,362.8 139.8,362.8 C146.55,362.8 150.6,361.2 153.3,360.16 C150.6,358.6 146.55,357 139.8,357 Z" fill="#22b8e8" filter="url(#b1)" opacity="1"/>
<path d="M139.8,357.3 C135.29,357.3 135.29,362.3 139.8,362.3 C144.55,362.3 147.4,360.8 149.3,360 C147.4,358.8 144.55,357.3 139.8,357.3 Z" fill="#40e040" filter="url(#b1)" opacity="1"/>
<ellipse cx="140.2" cy="359.6" rx="2.5" ry="1.7" fill="#e8e828" filter="url(#b1)"/>
<ellipse cx="140" cy="359.6" rx="1.4" ry="1.0" fill="#f01010" filter="url(#b05)"/>
<circle cx="158.93" cy="359.6" r="0.4" fill="#5060f0" opacity="0.11"/>
<circle cx="159.75" cy="358.58" r="0.4" fill="#5060f0" opacity="0.19"/>
<circle cx="161.75" cy="359.13" r="0.4" fill="#5060f0" opacity="0.13"/>
<circle cx="158.97" cy="360.05" r="0.4" fill="#5060f0" opacity="0.13"/>
<circle cx="159.54" cy="361.57" r="0.4" fill="#5060f0" opacity="0.12"/>
<circle cx="161.37" cy="357.75" r="0.4" fill="#5060f0" opacity="0.23"/>
<circle cx="157.51" cy="359.45" r="0.4" fill="#5060f0" opacity="0.2"/>
<circle cx="159.76" cy="361.27" r="0.4" fill="#5060f0" opacity="0.12"/>
<circle cx="162.38" cy="360.81" r="0.4" fill="#5060f0" opacity="0.1"/>
<circle cx="160.08" cy="357.96" r="0.4" fill="#5060f0" opacity="0.23"/>
<circle cx="162.35" cy="358.9" r="0.4" fill="#5060f0" opacity="0.16"/>
<circle cx="161.6" cy="359.37" r="0.4" fill="#5060f0" opacity="0.21"/>
<rect x="70.7" y="414.7" width="32.4" height="27.1" fill="none" stroke="#a4a8a8" stroke-width="1.3" rx="1.2"/>
<rect x="52.65" y="405.4" width="52.95" height="49.1" fill="none" stroke="#111" stroke-width="1.6" rx="0.6"/>
<line x1="51.05" y1="406.4" x2="52.65" y2="406.4" stroke="#000" stroke-width="0.7"/>
<line x1="51.05" y1="407.84" x2="52.65" y2="407.84" stroke="#000" stroke-width="0.7"/>
<line x1="51.05" y1="409.98" x2="52.65" y2="409.98" stroke="#000" stroke-width="0.7"/>
<line x1="51.05" y1="412.18" x2="52.65" y2="412.18" stroke="#000" stroke-width="0.7"/>
<line x1="51.05" y1="414.16" x2="52.65" y2="414.16" stroke="#000" stroke-width="0.7"/>
<line x1="51.05" y1="416.36" x2="52.65" y2="416.36" stroke="#000" stroke-width="0.7"/>
<line x1="51.05" y1="418.52" x2="52.65" y2="418.52" stroke="#000" stroke-width="0.7"/>
<line x1="51.05" y1="420.57" x2="52.65" y2="420.57" stroke="#000" stroke-width="0.7"/>
<line x1="51.05" y1="423.05" x2="52.65" y2="423.05" stroke="#000" stroke-width="0.7"/>
<line x1="51.05" y1="424.41" x2="52.65" y2="424.41" stroke="#000" stroke-width="0.7"/>
<line x1="51.05" y1="426.64" x2="52.65" y2="426.64" stroke="#000" stroke-width="0.7"/>
<line x1="51.05" y1="428.72" x2="52.65" y2="428.72" stroke="#000" stroke-width="0.7"/>
<line x1="51.05" y1="430.09" x2="52.65" y2="430.09" stroke="#000" stroke-width="0.7"/>
<line x1="51.05" y1="431.68" x2="52.65" y2="431.68" stroke="#000" stroke-width="0.7"/>
<line x1="51.05" y1="433.95" x2="52.65" y2="433.95" stroke="#000" stroke-width="0.7"/>
<line x1="51.05" y1="435.3" x2="52.65" y2="435.3" stroke="#000" stroke-width="0.7"/>
<line x1="51.05" y1="436.85" x2="52.65" y2="436.85" stroke="#000" stroke-width="0.7"/>
<line x1="51.05" y1="439.31" x2="52.65" y2="439.31" stroke="#000" stroke-width="0.7"/>
<line x1="51.05" y1="441.34" x2="52.65" y2="441.34" stroke="#000" stroke-width="0.7"/>
<line x1="51.05" y1="443.54" x2="52.65" y2="443.54" stroke="#000" stroke-width="0.7"/>
<line x1="51.05" y1="445.8" x2="52.65" y2="445.8" stroke="#000" stroke-width="0.7"/>
<line x1="51.05" y1="447.97" x2="52.65" y2="447.97" stroke="#000" stroke-width="0.7"/>
<line x1="51.05" y1="450.46" x2="52.65" y2="450.46" stroke="#000" stroke-width="0.7"/>
<line x1="51.05" y1="452.85" x2="52.65" y2="452.85" stroke="#000" stroke-width="0.7"/>
<line x1="53.65" y1="454.5" x2="53.65" y2="456.1" stroke="#000" stroke-width="0.7"/>
<line x1="55.78" y1="454.5" x2="55.78" y2="456.1" stroke="#000" stroke-width="0.7"/>
<line x1="58.01" y1="454.5" x2="58.01" y2="456.1" stroke="#000" stroke-width="0.7"/>
<line x1="59.59" y1="454.5" x2="59.59" y2="456.1" stroke="#000" stroke-width="0.7"/>
<line x1="61.95" y1="454.5" x2="61.95" y2="456.1" stroke="#000" stroke-width="0.7"/>
<line x1="63.65" y1="454.5" x2="63.65" y2="456.1" stroke="#000" stroke-width="0.7"/>
<line x1="65.76" y1="454.5" x2="65.76" y2="456.1" stroke="#000" stroke-width="0.7"/>
<line x1="67.75" y1="454.5" x2="67.75" y2="456.1" stroke="#000" stroke-width="0.7"/>
<line x1="69.62" y1="454.5" x2="69.62" y2="456.1" stroke="#000" stroke-width="0.7"/>
<line x1="71.1" y1="454.5" x2="71.1" y2="456.1" stroke="#000" stroke-width="0.7"/>
<line x1="73.4" y1="454.5" x2="73.4" y2="456.1" stroke="#000" stroke-width="0.7"/>
<line x1="75.58" y1="454.5" x2="75.58" y2="456.1" stroke="#000" stroke-width="0.7"/>
<line x1="77.11" y1="454.5" x2="77.11" y2="456.1" stroke="#000" stroke-width="0.7"/>
<line x1="78.78" y1="454.5" x2="78.78" y2="456.1" stroke="#000" stroke-width="0.7"/>
<line x1="81.19" y1="454.5" x2="81.19" y2="456.1" stroke="#000" stroke-width="0.7"/>
<line x1="83.36" y1="454.5" x2="83.36" y2="456.1" stroke="#000" stroke-width="0.7"/>
<line x1="85.2" y1="454.5" x2="85.2" y2="456.1" stroke="#000" stroke-width="0.7"/>
<line x1="86.76" y1="454.5" x2="86.76" y2="456.1" stroke="#000" stroke-width="0.7"/>
<line x1="88.31" y1="454.5" x2="88.31" y2="456.1" stroke="#000" stroke-width="0.7"/>
<line x1="89.57" y1="454.5" x2="89.57" y2="456.1" stroke="#000" stroke-width="0.7"/>
<line x1="91.63" y1="454.5" x2="91.63" y2="456.1" stroke="#000" stroke-width="0.7"/>
<line x1="93.99" y1="454.5" x2="93.99" y2="456.1" stroke="#000" stroke-width="0.7"/>
<line x1="95.77" y1="454.5" x2="95.77" y2="456.1" stroke="#000" stroke-width="0.7"/>
<line x1="96.99" y1="454.5" x2="96.99" y2="456.1" stroke="#000" stroke-width="0.7"/>
<line x1="98.86" y1="454.5" x2="98.86" y2="456.1" stroke="#000" stroke-width="0.7"/>
<line x1="100.91" y1="454.5" x2="100.91" y2="456.1" stroke="#000" stroke-width="0.7"/>
<line x1="102.86" y1="454.5" x2="102.86" y2="456.1" stroke="#000" stroke-width="0.7"/>
<line x1="104.54" y1="454.5" x2="104.54" y2="456.1" stroke="#000" stroke-width="0.7"/>
<text x="47" y="410.4" font-size="5.8" text-anchor="end" stroke="#000" stroke-width="0.12" textLength="6.3" lengthAdjust="spacingAndGlyphs">10</text>
<text x="47.3" y="408.4" font-size="3.8">5</text>
<text x="47" y="421.6" font-size="5.8" text-anchor="end" stroke="#000" stroke-width="0.12" textLength="6.3" lengthAdjust="spacingAndGlyphs">10</text>
<text x="47.3" y="419.6" font-size="3.8">4</text>
<text x="47" y="435.3" font-size="5.8" text-anchor="end" stroke="#000" stroke-width="0.12" textLength="6.3" lengthAdjust="spacingAndGlyphs">10</text>
<text x="47.3" y="433.3" font-size="3.8">3</text>
<text x="49.2" y="443.9" font-size="5.8" text-anchor="end" stroke="#000" stroke-width="0.12">0</text>
<text x="47" y="451.8" font-size="5.8" text-anchor="end" stroke="#000" stroke-width="0.12" textLength="8.6" lengthAdjust="spacingAndGlyphs">-10</text>
<text x="47.3" y="449.8" font-size="3.8">3</text>
<text x="64.2" y="463.6" font-size="5.8" text-anchor="middle" stroke="#000" stroke-width="0.12">0</text>
<text x="75.1" y="463.6" font-size="5.8" stroke="#000" stroke-width="0.12" textLength="6.3" lengthAdjust="spacingAndGlyphs">10</text>
<text x="81.8" y="461.6" font-size="3.8">3</text>
<text x="86.7" y="463.6" font-size="5.8" stroke="#000" stroke-width="0.12" textLength="6.3" lengthAdjust="spacingAndGlyphs">10</text>
<text x="93.4" y="461.6" font-size="3.8">4</text>
<text x="96.7" y="463.6" font-size="5.8" stroke="#000" stroke-width="0.12" textLength="6.3" lengthAdjust="spacingAndGlyphs">10</text>
<text x="103.4" y="461.6" font-size="3.8">5</text>
<text x="81.2" y="422" font-size="6.3" stroke="#000" stroke-width="0.08">0.85</text>
<path d="M58.5,427 C60,425.6 66,425.6 71.5,425.8 C71.8,428.5 69.5,432 65,432.6 C60,432.8 57.8,430 58.5,427 Z" fill="#2c4cf0" opacity="0.9" filter="url(#b1)"/>
<circle cx="67.91" cy="430.62" r="0.5" fill="#2040e8" opacity="0.55"/>
<circle cx="62.08" cy="426.24" r="0.5" fill="#2040e8" opacity="0.24"/>
<circle cx="58.19" cy="430.23" r="0.5" fill="#2040e8" opacity="0.49"/>
<circle cx="69.86" cy="428.91" r="0.5" fill="#2040e8" opacity="0.22"/>
<circle cx="65.1" cy="430.92" r="0.5" fill="#2040e8" opacity="0.4"/>
<circle cx="60.96" cy="429.56" r="0.5" fill="#2040e8" opacity="0.32"/>
<circle cx="63.76" cy="428.81" r="0.5" fill="#2040e8" opacity="0.27"/>
<circle cx="66.02" cy="428.95" r="0.5" fill="#2040e8" opacity="0.28"/>
<circle cx="62.91" cy="429.55" r="0.5" fill="#2040e8" opacity="0.41"/>
<circle cx="67.81" cy="429.67" r="0.5" fill="#2040e8" opacity="0.21"/>
<circle cx="65.75" cy="427.73" r="0.5" fill="#2040e8" opacity="0.3"/>
<circle cx="65.74" cy="428.56" r="0.5" fill="#2040e8" opacity="0.46"/>
<circle cx="71.83" cy="428.25" r="0.5" fill="#2040e8" opacity="0.53"/>
<circle cx="66.68" cy="429.67" r="0.5" fill="#2040e8" opacity="0.41"/>
<circle cx="67.51" cy="427.39" r="0.5" fill="#2040e8" opacity="0.4"/>
<circle cx="61.35" cy="428.04" r="0.5" fill="#2040e8" opacity="0.53"/>
<circle cx="68.18" cy="428.81" r="0.5" fill="#2040e8" opacity="0.56"/>
<circle cx="56.72" cy="430.28" r="0.5" fill="#2040e8" opacity="0.32"/>
<circle cx="64.68" cy="428.82" r="0.5" fill="#2040e8" opacity="0.56"/>
<circle cx="60.88" cy="430.54" r="0.5" fill="#2040e8" opacity="0.49"/>
<circle cx="73.15" cy="428.07" r="0.5" fill="#2040e8" opacity="0.44"/>
<circle cx="64.08" cy="431.52" r="0.5" fill="#2040e8" opacity="0.22"/>
<circle cx="71.74" cy="431.51" r="0.5" fill="#2040e8" opacity="0.31"/>
<circle cx="60.12" cy="430.38" r="0.5" fill="#2040e8" opacity="0.32"/>
<circle cx="64.46" cy="429.96" r="0.5" fill="#2040e8" opacity="0.52"/>
<circle cx="65.45" cy="431.91" r="0.5" fill="#2040e8" opacity="0.37"/>
<circle cx="66.74" cy="427.24" r="0.5" fill="#2040e8" opacity="0.48"/>
<circle cx="64.45" cy="428.84" r="0.5" fill="#2040e8" opacity="0.27"/>
<circle cx="70.1" cy="427.12" r="0.5" fill="#2040e8" opacity="0.42"/>
<circle cx="66.88" cy="429.83" r="0.5" fill="#2040e8" opacity="0.55"/>
<circle cx="61.09" cy="428.43" r="0.5" fill="#2040e8" opacity="0.55"/>
<circle cx="68.22" cy="430.25" r="0.5" fill="#2040e8" opacity="0.35"/>
<circle cx="60.26" cy="429.3" r="0.5" fill="#2040e8" opacity="0.47"/>
<circle cx="68.55" cy="427.93" r="0.5" fill="#2040e8" opacity="0.23"/>
<circle cx="67.46" cy="429.62" r="0.5" fill="#2040e8" opacity="0.3"/>
<circle cx="59.64" cy="431.11" r="0.5" fill="#2040e8" opacity="0.52"/>
<circle cx="61.15" cy="427.58" r="0.5" fill="#2040e8" opacity="0.51"/>
<circle cx="60.14" cy="426.78" r="0.5" fill="#2040e8" opacity="0.48"/>
<circle cx="63.21" cy="430.26" r="0.5" fill="#2040e8" opacity="0.3"/>
<circle cx="66.06" cy="427.83" r="0.5" fill="#2040e8" opacity="0.52"/>
<circle cx="58.82" cy="427.07" r="0.5" fill="#2040e8" opacity="0.43"/>
<circle cx="64.9" cy="429.27" r="0.5" fill="#2040e8" opacity="0.29"/>
<circle cx="70.2" cy="430.57" r="0.5" fill="#2040e8" opacity="0.33"/>
<circle cx="65.36" cy="429.79" r="0.5" fill="#2040e8" opacity="0.56"/>
<circle cx="64.98" cy="432.47" r="0.5" fill="#2040e8" opacity="0.55"/>
<circle cx="56.66" cy="430.01" r="0.5" fill="#2040e8" opacity="0.53"/>
<circle cx="62.65" cy="431.6" r="0.5" fill="#2040e8" opacity="0.33"/>
<circle cx="65.68" cy="429.31" r="0.5" fill="#2040e8" opacity="0.47"/>
<circle cx="60.44" cy="426.66" r="0.5" fill="#2040e8" opacity="0.32"/>
<circle cx="53.15" cy="430.98" r="0.5" fill="#2040e8" opacity="0.41"/>
<circle cx="66.54" cy="427.65" r="0.5" fill="#2040e8" opacity="0.59"/>
<circle cx="59.98" cy="427.8" r="0.5" fill="#2040e8" opacity="0.39"/>
<circle cx="63.25" cy="429.02" r="0.5" fill="#2040e8" opacity="0.47"/>
<circle cx="60.18" cy="428.85" r="0.5" fill="#2040e8" opacity="0.21"/>
<circle cx="57.8" cy="428.87" r="0.5" fill="#2040e8" opacity="0.36"/>
<circle cx="63.69" cy="426.28" r="0.5" fill="#2040e8" opacity="0.45"/>
<circle cx="60.48" cy="430.71" r="0.5" fill="#2040e8" opacity="0.5"/>
<circle cx="63.43" cy="428.72" r="0.5" fill="#2040e8" opacity="0.39"/>
<circle cx="64.19" cy="426.96" r="0.5" fill="#2040e8" opacity="0.43"/>
<circle cx="64.59" cy="425.09" r="0.5" fill="#2040e8" opacity="0.41"/>
<path d="M61.5,427 C63,426 67,426 69.5,426.4 C69.5,428.5 67.5,430.8 64.5,430.9 C62,430.9 61,428.8 61.5,427 Z" fill="#48d048" opacity="0.95" filter="url(#b1)"/>
<ellipse cx="65.6" cy="428" rx="1.8" ry="1.1" fill="#c8b020" opacity="0.9" filter="url(#b1)" transform="rotate(0 65.6 428)"/>
<rect x="146.5" y="414.4" width="32" height="27.1" fill="none" stroke="#9aa6a6" stroke-width="1.0"/>
<rect x="128.3" y="405.4" width="53.1" height="49.1" fill="none" stroke="#111" stroke-width="1.6" rx="0.6"/>
<line x1="126.7" y1="406.4" x2="128.3" y2="406.4" stroke="#000" stroke-width="0.7"/>
<line x1="126.7" y1="408.11" x2="128.3" y2="408.11" stroke="#000" stroke-width="0.7"/>
<line x1="126.7" y1="410.54" x2="128.3" y2="410.54" stroke="#000" stroke-width="0.7"/>
<line x1="126.7" y1="412.57" x2="128.3" y2="412.57" stroke="#000" stroke-width="0.7"/>
<line x1="126.7" y1="414.84" x2="128.3" y2="414.84" stroke="#000" stroke-width="0.7"/>
<line x1="126.7" y1="417.31" x2="128.3" y2="417.31" stroke="#000" stroke-width="0.7"/>
<line x1="126.7" y1="418.66" x2="128.3" y2="418.66" stroke="#000" stroke-width="0.7"/>
<line x1="126.7" y1="421.13" x2="128.3" y2="421.13" stroke="#000" stroke-width="0.7"/>
<line x1="126.7" y1="423.63" x2="128.3" y2="423.63" stroke="#000" stroke-width="0.7"/>
<line x1="126.7" y1="425.91" x2="128.3" y2="425.91" stroke="#000" stroke-width="0.7"/>
<line x1="126.7" y1="428.29" x2="128.3" y2="428.29" stroke="#000" stroke-width="0.7"/>
<line x1="126.7" y1="430.73" x2="128.3" y2="430.73" stroke="#000" stroke-width="0.7"/>
<line x1="126.7" y1="432.26" x2="128.3" y2="432.26" stroke="#000" stroke-width="0.7"/>
<line x1="126.7" y1="433.48" x2="128.3" y2="433.48" stroke="#000" stroke-width="0.7"/>
<line x1="126.7" y1="435.16" x2="128.3" y2="435.16" stroke="#000" stroke-width="0.7"/>
<line x1="126.7" y1="437.38" x2="128.3" y2="437.38" stroke="#000" stroke-width="0.7"/>
<line x1="126.7" y1="439.15" x2="128.3" y2="439.15" stroke="#000" stroke-width="0.7"/>
<line x1="126.7" y1="441.17" x2="128.3" y2="441.17" stroke="#000" stroke-width="0.7"/>
<line x1="126.7" y1="442.74" x2="128.3" y2="442.74" stroke="#000" stroke-width="0.7"/>
<line x1="126.7" y1="443.95" x2="128.3" y2="443.95" stroke="#000" stroke-width="0.7"/>
<line x1="126.7" y1="445.52" x2="128.3" y2="445.52" stroke="#000" stroke-width="0.7"/>
<line x1="126.7" y1="447.07" x2="128.3" y2="447.07" stroke="#000" stroke-width="0.7"/>
<line x1="126.7" y1="449.63" x2="128.3" y2="449.63" stroke="#000" stroke-width="0.7"/>
<line x1="126.7" y1="451.4" x2="128.3" y2="451.4" stroke="#000" stroke-width="0.7"/>
<line x1="126.7" y1="452.7" x2="128.3" y2="452.7" stroke="#000" stroke-width="0.7"/>
<line x1="126.7" y1="453.98" x2="128.3" y2="453.98" stroke="#000" stroke-width="0.7"/>
<line x1="129.3" y1="454.5" x2="129.3" y2="456.1" stroke="#000" stroke-width="0.7"/>
<line x1="131.67" y1="454.5" x2="131.67" y2="456.1" stroke="#000" stroke-width="0.7"/>
<line x1="134.21" y1="454.5" x2="134.21" y2="456.1" stroke="#000" stroke-width="0.7"/>
<line x1="136.19" y1="454.5" x2="136.19" y2="456.1" stroke="#000" stroke-width="0.7"/>
<line x1="137.63" y1="454.5" x2="137.63" y2="456.1" stroke="#000" stroke-width="0.7"/>
<line x1="139.31" y1="454.5" x2="139.31" y2="456.1" stroke="#000" stroke-width="0.7"/>
<line x1="140.94" y1="454.5" x2="140.94" y2="456.1" stroke="#000" stroke-width="0.7"/>
<line x1="142.21" y1="454.5" x2="142.21" y2="456.1" stroke="#000" stroke-width="0.7"/>
<line x1="143.54" y1="454.5" x2="143.54" y2="456.1" stroke="#000" stroke-width="0.7"/>
<line x1="145.68" y1="454.5" x2="145.68" y2="456.1" stroke="#000" stroke-width="0.7"/>
<line x1="147.44" y1="454.5" x2="147.44" y2="456.1" stroke="#000" stroke-width="0.7"/>
<line x1="149.06" y1="454.5" x2="149.06" y2="456.1" stroke="#000" stroke-width="0.7"/>
<line x1="151.62" y1="454.5" x2="151.62" y2="456.1" stroke="#000" stroke-width="0.7"/>
<line x1="153.24" y1="454.5" x2="153.24" y2="456.1" stroke="#000" stroke-width="0.7"/>
<line x1="154.91" y1="454.5" x2="154.91" y2="456.1" stroke="#000" stroke-width="0.7"/>
<line x1="156.89" y1="454.5" x2="156.89" y2="456.1" stroke="#000" stroke-width="0.7"/>
<line x1="158.57" y1="454.5" x2="158.57" y2="456.1" stroke="#000" stroke-width="0.7"/>
<line x1="160.99" y1="454.5" x2="160.99" y2="456.1" stroke="#000" stroke-width="0.7"/>
<line x1="162.36" y1="454.5" x2="162.36" y2="456.1" stroke="#000" stroke-width="0.7"/>
<line x1="163.98" y1="454.5" x2="163.98" y2="456.1" stroke="#000" stroke-width="0.7"/>
<line x1="166.15" y1="454.5" x2="166.15" y2="456.1" stroke="#000" stroke-width="0.7"/>
<line x1="168.4" y1="454.5" x2="168.4" y2="456.1" stroke="#000" stroke-width="0.7"/>
<line x1="170.11" y1="454.5" x2="170.11" y2="456.1" stroke="#000" stroke-width="0.7"/>
<line x1="172.38" y1="454.5" x2="172.38" y2="456.1" stroke="#000" stroke-width="0.7"/>
<line x1="174.41" y1="454.5" x2="174.41" y2="456.1" stroke="#000" stroke-width="0.7"/>
<line x1="175.81" y1="454.5" x2="175.81" y2="456.1" stroke="#000" stroke-width="0.7"/>
<line x1="178.4" y1="454.5" x2="178.4" y2="456.1" stroke="#000" stroke-width="0.7"/>
<line x1="179.62" y1="454.5" x2="179.62" y2="456.1" stroke="#000" stroke-width="0.7"/>
<text x="123" y="410.4" font-size="5.8" text-anchor="end" stroke="#000" stroke-width="0.12" textLength="6.3" lengthAdjust="spacingAndGlyphs">10</text>
<text x="123.3" y="408.4" font-size="3.8">5</text>
<text x="123" y="421.6" font-size="5.8" text-anchor="end" stroke="#000" stroke-width="0.12" textLength="6.3" lengthAdjust="spacingAndGlyphs">10</text>
<text x="123.3" y="419.6" font-size="3.8">4</text>
<text x="123" y="435.3" font-size="5.8" text-anchor="end" stroke="#000" stroke-width="0.12" textLength="6.3" lengthAdjust="spacingAndGlyphs">10</text>
<text x="123.3" y="433.3" font-size="3.8">3</text>
<text x="125.2" y="443.9" font-size="5.8" text-anchor="end" stroke="#000" stroke-width="0.12">0</text>
<text x="123" y="451.8" font-size="5.8" text-anchor="end" stroke="#000" stroke-width="0.12" textLength="8.6" lengthAdjust="spacingAndGlyphs">-10</text>
<text x="123.3" y="449.8" font-size="3.8">3</text>
<text x="140.2" y="463.6" font-size="5.8" text-anchor="middle" stroke="#000" stroke-width="0.12">0</text>
<text x="151.1" y="463.6" font-size="5.8" stroke="#000" stroke-width="0.12" textLength="6.3" lengthAdjust="spacingAndGlyphs">10</text>
<text x="157.8" y="461.6" font-size="3.8">3</text>
<text x="162.7" y="463.6" font-size="5.8" stroke="#000" stroke-width="0.12" textLength="6.3" lengthAdjust="spacingAndGlyphs">10</text>
<text x="169.4" y="461.6" font-size="3.8">4</text>
<text x="172.7" y="463.6" font-size="5.8" stroke="#000" stroke-width="0.12" textLength="6.3" lengthAdjust="spacingAndGlyphs">10</text>
<text x="179.4" y="461.6" font-size="3.8">5</text>
<text x="156.9" y="422.3" font-size="6.3" stroke="#000" stroke-width="0.08">40.6</text>
<ellipse cx="144.5" cy="428.7" rx="9" ry="3" fill="#6078f0" opacity="0.45" filter="url(#b2)" transform="rotate(0 144.5 428.7)"/>
<circle cx="143.29" cy="429.02" r="0.45" fill="#3048e0" opacity="0.37"/>
<circle cx="143.37" cy="425.59" r="0.45" fill="#3048e0" opacity="0.5"/>
<circle cx="142.92" cy="428.53" r="0.45" fill="#3048e0" opacity="0.54"/>
<circle cx="142.53" cy="427.11" r="0.45" fill="#3048e0" opacity="0.28"/>
<circle cx="149.24" cy="433.31" r="0.45" fill="#3048e0" opacity="0.45"/>
<circle cx="139.75" cy="425.64" r="0.45" fill="#3048e0" opacity="0.5"/>
<circle cx="142.93" cy="428.29" r="0.45" fill="#3048e0" opacity="0.33"/>
<circle cx="141.42" cy="429.08" r="0.45" fill="#3048e0" opacity="0.19"/>
<circle cx="150.27" cy="430.4" r="0.45" fill="#3048e0" opacity="0.11"/>
<circle cx="140.4" cy="427.04" r="0.45" fill="#3048e0" opacity="0.42"/>
<circle cx="140.89" cy="430.64" r="0.45" fill="#3048e0" opacity="0.46"/>
<circle cx="152.74" cy="428.45" r="0.45" fill="#3048e0" opacity="0.27"/>
<circle cx="148.88" cy="427.35" r="0.45" fill="#3048e0" opacity="0.27"/>
<circle cx="141.47" cy="427.69" r="0.45" fill="#3048e0" opacity="0.4"/>
<circle cx="138.12" cy="426.61" r="0.45" fill="#3048e0" opacity="0.29"/>
<circle cx="142.5" cy="426.6" r="0.45" fill="#3048e0" opacity="0.3"/>
<circle cx="142.53" cy="432.62" r="0.45" fill="#3048e0" opacity="0.19"/>
<circle cx="144.95" cy="429.63" r="0.45" fill="#3048e0" opacity="0.39"/>
<circle cx="148.88" cy="426.65" r="0.45" fill="#3048e0" opacity="0.35"/>
<circle cx="146.09" cy="428.55" r="0.45" fill="#3048e0" opacity="0.19"/>
<circle cx="145.37" cy="428.19" r="0.45" fill="#3048e0" opacity="0.24"/>
<circle cx="151.96" cy="429.93" r="0.45" fill="#3048e0" opacity="0.16"/>
<circle cx="133.7" cy="427.9" r="0.45" fill="#3048e0" opacity="0.38"/>
<circle cx="145.77" cy="427.46" r="0.45" fill="#3048e0" opacity="0.31"/>
<circle cx="135.39" cy="425.41" r="0.45" fill="#3048e0" opacity="0.23"/>
<circle cx="141.29" cy="429.87" r="0.45" fill="#3048e0" opacity="0.27"/>
<circle cx="140.97" cy="429.24" r="0.45" fill="#3048e0" opacity="0.46"/>
<circle cx="152.41" cy="427.94" r="0.45" fill="#3048e0" opacity="0.3"/>
<circle cx="146.91" cy="429.21" r="0.45" fill="#3048e0" opacity="0.22"/>
<circle cx="138.13" cy="427.8" r="0.45" fill="#3048e0" opacity="0.42"/>
<circle cx="146.48" cy="430.45" r="0.45" fill="#3048e0" opacity="0.26"/>
<circle cx="149.63" cy="428.03" r="0.45" fill="#3048e0" opacity="0.49"/>
<circle cx="145.22" cy="428.98" r="0.45" fill="#3048e0" opacity="0.34"/>
<circle cx="143.5" cy="430.7" r="0.45" fill="#3048e0" opacity="0.37"/>
<circle cx="153.51" cy="428.78" r="0.45" fill="#3048e0" opacity="0.37"/>
<circle cx="140.32" cy="429.91" r="0.45" fill="#3048e0" opacity="0.31"/>
<circle cx="143.7" cy="429.12" r="0.45" fill="#3048e0" opacity="0.19"/>
<circle cx="148.46" cy="430.58" r="0.45" fill="#3048e0" opacity="0.21"/>
<circle cx="136.15" cy="427.8" r="0.45" fill="#3048e0" opacity="0.54"/>
<circle cx="139.94" cy="427.75" r="0.45" fill="#3048e0" opacity="0.33"/>
<circle cx="141.6" cy="430.48" r="0.45" fill="#3048e0" opacity="0.42"/>
<circle cx="152.6" cy="430.11" r="0.45" fill="#3048e0" opacity="0.27"/>
<circle cx="141.38" cy="429.12" r="0.45" fill="#3048e0" opacity="0.2"/>
<circle cx="152.17" cy="427.91" r="0.45" fill="#3048e0" opacity="0.45"/>
<circle cx="145.11" cy="431.31" r="0.45" fill="#3048e0" opacity="0.22"/>
<circle cx="142.08" cy="427.38" r="0.45" fill="#3048e0" opacity="0.19"/>
<circle cx="147.29" cy="429.16" r="0.45" fill="#3048e0" opacity="0.4"/>
<circle cx="138.8" cy="427.38" r="0.45" fill="#3048e0" opacity="0.53"/>
<circle cx="141.26" cy="425.79" r="0.45" fill="#3048e0" opacity="0.17"/>
<circle cx="142.44" cy="428.24" r="0.45" fill="#3048e0" opacity="0.4"/>
<circle cx="139.56" cy="428.31" r="0.45" fill="#3048e0" opacity="0.39"/>
<circle cx="144.64" cy="427.48" r="0.45" fill="#3048e0" opacity="0.11"/>
<circle cx="147.79" cy="428.58" r="0.45" fill="#3048e0" opacity="0.53"/>
<circle cx="143.49" cy="428.84" r="0.45" fill="#3048e0" opacity="0.13"/>
<circle cx="141.36" cy="428.88" r="0.45" fill="#3048e0" opacity="0.11"/>
<circle cx="148.17" cy="427.29" r="0.45" fill="#3048e0" opacity="0.37"/>
<circle cx="143.3" cy="428.23" r="0.45" fill="#3048e0" opacity="0.54"/>
<circle cx="142.86" cy="428.78" r="0.45" fill="#3048e0" opacity="0.18"/>
<circle cx="140.44" cy="429.07" r="0.45" fill="#3048e0" opacity="0.34"/>
<circle cx="140.69" cy="428.63" r="0.45" fill="#3048e0" opacity="0.51"/>
<circle cx="137.02" cy="426.51" r="0.45" fill="#3048e0" opacity="0.19"/>
<circle cx="146.15" cy="428.53" r="0.45" fill="#3048e0" opacity="0.19"/>
<circle cx="148.11" cy="430.76" r="0.45" fill="#3048e0" opacity="0.17"/>
<circle cx="143.68" cy="428.06" r="0.45" fill="#3048e0" opacity="0.29"/>
<circle cx="143.78" cy="431" r="0.45" fill="#3048e0" opacity="0.49"/>
<circle cx="145.59" cy="427" r="0.45" fill="#3048e0" opacity="0.15"/>
<circle cx="146.32" cy="427.99" r="0.45" fill="#3048e0" opacity="0.5"/>
<circle cx="143.21" cy="429.81" r="0.45" fill="#3048e0" opacity="0.41"/>
<circle cx="140.92" cy="429.26" r="0.45" fill="#3048e0" opacity="0.38"/>
<circle cx="154.9" cy="427.81" r="0.45" fill="#3048e0" opacity="0.23"/>
<circle cx="135.41" cy="427.71" r="0.45" fill="#3048e0" opacity="0.35"/>
<circle cx="142.8" cy="428.05" r="0.45" fill="#3048e0" opacity="0.37"/>
<circle cx="141.2" cy="429.68" r="0.45" fill="#3048e0" opacity="0.32"/>
<circle cx="152.11" cy="428.94" r="0.45" fill="#3048e0" opacity="0.55"/>
<circle cx="145.05" cy="428.32" r="0.45" fill="#3048e0" opacity="0.18"/>
<circle cx="148.53" cy="430.65" r="0.45" fill="#3048e0" opacity="0.31"/>
<circle cx="139.5" cy="430.59" r="0.45" fill="#3048e0" opacity="0.12"/>
<circle cx="147.21" cy="428.64" r="0.45" fill="#3048e0" opacity="0.26"/>
<circle cx="146.47" cy="428.71" r="0.45" fill="#3048e0" opacity="0.47"/>
<circle cx="136.87" cy="427.95" r="0.45" fill="#3048e0" opacity="0.13"/>
<circle cx="137.43" cy="428.52" r="0.45" fill="#3048e0" opacity="0.14"/>
<circle cx="142.11" cy="430.87" r="0.45" fill="#3048e0" opacity="0.47"/>
<circle cx="143.77" cy="429.1" r="0.45" fill="#3048e0" opacity="0.27"/>
<circle cx="150.65" cy="425.57" r="0.45" fill="#3048e0" opacity="0.11"/>
<circle cx="146.7" cy="429.4" r="0.45" fill="#3048e0" opacity="0.14"/>
<circle cx="142.04" cy="427.95" r="0.45" fill="#3048e0" opacity="0.44"/>
<circle cx="149.26" cy="426.9" r="0.45" fill="#3048e0" opacity="0.25"/>
<circle cx="141.83" cy="424.97" r="0.45" fill="#3048e0" opacity="0.46"/>
<circle cx="139.86" cy="428.46" r="0.45" fill="#3048e0" opacity="0.48"/>
<circle cx="139.69" cy="428.06" r="0.45" fill="#3048e0" opacity="0.21"/>
<circle cx="146.05" cy="426.69" r="0.45" fill="#3048e0" opacity="0.19"/>
<circle cx="143.08" cy="430.68" r="0.45" fill="#3048e0" opacity="0.22"/>
<circle cx="146.73" cy="431.34" r="0.45" fill="#3048e0" opacity="0.45"/>
<circle cx="144.07" cy="429.73" r="0.45" fill="#3048e0" opacity="0.17"/>
<circle cx="146.29" cy="425.7" r="0.45" fill="#3048e0" opacity="0.41"/>
<circle cx="137.93" cy="430.28" r="0.45" fill="#3048e0" opacity="0.27"/>
<circle cx="150.45" cy="430.74" r="0.45" fill="#3048e0" opacity="0.33"/>
<circle cx="151.16" cy="426.42" r="0.45" fill="#3048e0" opacity="0.42"/>
<circle cx="141.38" cy="427.29" r="0.45" fill="#3048e0" opacity="0.39"/>
<circle cx="150.42" cy="428.71" r="0.45" fill="#3048e0" opacity="0.42"/>
<circle cx="149.24" cy="426.41" r="0.45" fill="#3048e0" opacity="0.25"/>
<circle cx="150.25" cy="429.43" r="0.45" fill="#3048e0" opacity="0.46"/>
<circle cx="141.34" cy="431.37" r="0.45" fill="#3048e0" opacity="0.53"/>
<circle cx="145.19" cy="427.9" r="0.45" fill="#3048e0" opacity="0.23"/>
<circle cx="144.79" cy="428.07" r="0.45" fill="#3048e0" opacity="0.32"/>
<circle cx="140.94" cy="425.07" r="0.45" fill="#3048e0" opacity="0.18"/>
<circle cx="141.15" cy="428.45" r="0.45" fill="#3048e0" opacity="0.44"/>
<circle cx="147.14" cy="427.59" r="0.45" fill="#3048e0" opacity="0.43"/>
<circle cx="152.2" cy="428.7" r="0.45" fill="#3048e0" opacity="0.48"/>
<circle cx="141.51" cy="431.36" r="0.45" fill="#3048e0" opacity="0.21"/>
<circle cx="151.03" cy="427.64" r="0.45" fill="#3048e0" opacity="0.3"/>
<circle cx="146.58" cy="429.7" r="0.45" fill="#3048e0" opacity="0.53"/>
<circle cx="143.23" cy="431.65" r="0.45" fill="#3048e0" opacity="0.18"/>
<circle cx="145.82" cy="430.36" r="0.45" fill="#3048e0" opacity="0.16"/>
<circle cx="136.95" cy="428.51" r="0.45" fill="#3048e0" opacity="0.5"/>
<circle cx="150.29" cy="429.39" r="0.45" fill="#3048e0" opacity="0.19"/>
<circle cx="134.22" cy="428.25" r="0.45" fill="#3048e0" opacity="0.47"/>
<circle cx="146.21" cy="429.44" r="0.45" fill="#3048e0" opacity="0.11"/>
<circle cx="137.56" cy="428.66" r="0.45" fill="#3048e0" opacity="0.46"/>
<circle cx="144.42" cy="428.2" r="0.45" fill="#3048e0" opacity="0.14"/>
<circle cx="143.27" cy="430.23" r="0.45" fill="#3048e0" opacity="0.54"/>
<circle cx="151.06" cy="429.3" r="0.45" fill="#3048e0" opacity="0.52"/>
<circle cx="145.94" cy="430.12" r="0.45" fill="#3048e0" opacity="0.14"/>
<circle cx="138.35" cy="427.09" r="0.45" fill="#3048e0" opacity="0.36"/>
<circle cx="148.9" cy="427.6" r="0.45" fill="#3048e0" opacity="0.1"/>
<circle cx="150.59" cy="429.28" r="0.45" fill="#3048e0" opacity="0.13"/>
<circle cx="143.91" cy="427.78" r="0.45" fill="#3048e0" opacity="0.34"/>
<circle cx="149.27" cy="430.36" r="0.45" fill="#3048e0" opacity="0.5"/>
<circle cx="146.1" cy="426.25" r="0.45" fill="#3048e0" opacity="0.38"/>
<circle cx="147.02" cy="432.19" r="0.45" fill="#3048e0" opacity="0.18"/>
<circle cx="141.32" cy="425.59" r="0.45" fill="#3048e0" opacity="0.54"/>
<circle cx="150.84" cy="427.15" r="0.45" fill="#3048e0" opacity="0.5"/>
<circle cx="147.36" cy="431.74" r="0.45" fill="#3048e0" opacity="0.53"/>
<circle cx="144.07" cy="429.27" r="0.45" fill="#3048e0" opacity="0.41"/>
<circle cx="142.33" cy="427.91" r="0.45" fill="#3048e0" opacity="0.17"/>
<circle cx="150.73" cy="428.25" r="0.45" fill="#3048e0" opacity="0.34"/>
<circle cx="145" cy="426.62" r="0.45" fill="#3048e0" opacity="0.1"/>
<circle cx="138.89" cy="430.66" r="0.45" fill="#3048e0" opacity="0.46"/>
<circle cx="141.31" cy="430.2" r="0.45" fill="#3048e0" opacity="0.23"/>
<circle cx="149.01" cy="427.45" r="0.45" fill="#3048e0" opacity="0.11"/>
<circle cx="138.53" cy="428.3" r="0.45" fill="#3048e0" opacity="0.42"/>
<circle cx="144.12" cy="430.65" r="0.45" fill="#3048e0" opacity="0.26"/>
<circle cx="137.83" cy="428.51" r="0.45" fill="#3048e0" opacity="0.41"/>
<circle cx="142.81" cy="428.85" r="0.45" fill="#3048e0" opacity="0.4"/>
<circle cx="146.25" cy="428.89" r="0.45" fill="#3048e0" opacity="0.33"/>
<circle cx="150.98" cy="428.83" r="0.45" fill="#3048e0" opacity="0.18"/>
<circle cx="147.35" cy="430.1" r="0.45" fill="#3048e0" opacity="0.23"/>
<circle cx="142.49" cy="428.2" r="0.45" fill="#3048e0" opacity="0.42"/>
<circle cx="139.52" cy="428.94" r="0.45" fill="#3048e0" opacity="0.13"/>
<circle cx="148.26" cy="431.57" r="0.45" fill="#3048e0" opacity="0.38"/>
<circle cx="140.03" cy="429.19" r="0.45" fill="#3048e0" opacity="0.4"/>
<circle cx="138.5" cy="428.47" r="0.45" fill="#3048e0" opacity="0.5"/>
<circle cx="145.35" cy="426.78" r="0.45" fill="#3048e0" opacity="0.14"/>
<circle cx="145.63" cy="429.3" r="0.45" fill="#3048e0" opacity="0.17"/>
<circle cx="147.45" cy="427.11" r="0.45" fill="#3048e0" opacity="0.3"/>
<circle cx="143.76" cy="429.8" r="0.45" fill="#3048e0" opacity="0.54"/>
<circle cx="139.45" cy="428.21" r="0.45" fill="#3048e0" opacity="0.44"/>
<circle cx="155.15" cy="427.07" r="0.45" fill="#3048e0" opacity="0.13"/>
<circle cx="146.9" cy="428.51" r="0.45" fill="#3048e0" opacity="0.11"/>
<circle cx="143.61" cy="429.7" r="0.45" fill="#3048e0" opacity="0.45"/>
<circle cx="147.75" cy="429.05" r="0.45" fill="#3048e0" opacity="0.35"/>
<circle cx="140.86" cy="427.91" r="0.45" fill="#3048e0" opacity="0.53"/>
<circle cx="146.89" cy="428.61" r="0.45" fill="#3048e0" opacity="0.51"/>
<circle cx="139.8" cy="425.16" r="0.45" fill="#3048e0" opacity="0.22"/>
<circle cx="145.94" cy="428.75" r="0.45" fill="#3048e0" opacity="0.23"/>
<circle cx="139.1" cy="427.56" r="0.45" fill="#3048e0" opacity="0.52"/>
<circle cx="151.05" cy="428.45" r="0.45" fill="#3048e0" opacity="0.14"/>
<circle cx="148.8" cy="431.59" r="0.45" fill="#3048e0" opacity="0.48"/>
<circle cx="144.3" cy="430.52" r="0.45" fill="#3048e0" opacity="0.46"/>
<circle cx="144.06" cy="428.32" r="0.45" fill="#3048e0" opacity="0.18"/>
<circle cx="138.91" cy="425.3" r="0.45" fill="#3048e0" opacity="0.54"/>
<circle cx="141.55" cy="430.13" r="0.45" fill="#3048e0" opacity="0.34"/>
<circle cx="138.52" cy="427.09" r="0.45" fill="#3048e0" opacity="0.15"/>
<circle cx="143.33" cy="431.22" r="0.45" fill="#3048e0" opacity="0.21"/>
<circle cx="145.8" cy="430.59" r="0.45" fill="#3048e0" opacity="0.39"/>
<circle cx="144.73" cy="427.47" r="0.45" fill="#3048e0" opacity="0.5"/>
<circle cx="148.36" cy="428.97" r="0.45" fill="#3048e0" opacity="0.5"/>
<circle cx="140.96" cy="429.24" r="0.45" fill="#3048e0" opacity="0.35"/>
<circle cx="142.04" cy="426.77" r="0.45" fill="#3048e0" opacity="0.48"/>
<circle cx="147.84" cy="426.85" r="0.45" fill="#3048e0" opacity="0.43"/>
<circle cx="134.89" cy="428.22" r="0.45" fill="#3048e0" opacity="0.38"/>
<circle cx="150.4" cy="429.04" r="0.45" fill="#3048e0" opacity="0.24"/>
<circle cx="149.61" cy="430.64" r="0.45" fill="#3048e0" opacity="0.13"/>
<circle cx="141.99" cy="426.98" r="0.45" fill="#3048e0" opacity="0.17"/>
<circle cx="152.97" cy="428.57" r="0.45" fill="#3048e0" opacity="0.46"/>
<circle cx="141.08" cy="425.25" r="0.45" fill="#3048e0" opacity="0.28"/>
<circle cx="142.97" cy="426.44" r="0.45" fill="#3048e0" opacity="0.34"/>
<circle cx="148.77" cy="429.68" r="0.45" fill="#3048e0" opacity="0.34"/>
<circle cx="135.77" cy="429.8" r="0.45" fill="#3048e0" opacity="0.43"/>
<circle cx="143.35" cy="427.92" r="0.45" fill="#3048e0" opacity="0.33"/>
<circle cx="142.99" cy="431.48" r="0.45" fill="#3048e0" opacity="0.19"/>
<circle cx="146.83" cy="427.67" r="0.45" fill="#3048e0" opacity="0.32"/>
<circle cx="150" cy="428.84" r="0.45" fill="#3048e0" opacity="0.33"/>
<circle cx="147.05" cy="428.97" r="0.45" fill="#3048e0" opacity="0.35"/>
<circle cx="139.5" cy="428.79" r="0.45" fill="#3048e0" opacity="0.51"/>
<circle cx="150.71" cy="426.36" r="0.45" fill="#3048e0" opacity="0.23"/>
<circle cx="144.62" cy="430.57" r="0.45" fill="#3048e0" opacity="0.22"/>
<circle cx="145.17" cy="429.21" r="0.45" fill="#3048e0" opacity="0.53"/>
<circle cx="144.49" cy="427.51" r="0.45" fill="#3048e0" opacity="0.48"/>
<circle cx="143.33" cy="427.87" r="0.45" fill="#3048e0" opacity="0.21"/>
<circle cx="153.52" cy="429.27" r="0.4" fill="#7080e8" opacity="0.18"/>
<circle cx="155.31" cy="429.33" r="0.4" fill="#7080e8" opacity="0.18"/>
<circle cx="151.8" cy="430.9" r="0.4" fill="#7080e8" opacity="0.09"/>
<circle cx="152.31" cy="428.08" r="0.4" fill="#7080e8" opacity="0.1"/>
<circle cx="152.59" cy="429.53" r="0.4" fill="#7080e8" opacity="0.15"/>
<circle cx="155.79" cy="427.78" r="0.4" fill="#7080e8" opacity="0.18"/>
<circle cx="148.25" cy="427.92" r="0.4" fill="#7080e8" opacity="0.28"/>
<circle cx="150.36" cy="429.73" r="0.4" fill="#7080e8" opacity="0.11"/>
<circle cx="147.4" cy="426.78" r="0.4" fill="#7080e8" opacity="0.19"/>
<circle cx="155.34" cy="425.91" r="0.4" fill="#7080e8" opacity="0.11"/>
<circle cx="151.23" cy="429.45" r="0.4" fill="#7080e8" opacity="0.08"/>
<circle cx="156.38" cy="430.68" r="0.4" fill="#7080e8" opacity="0.19"/>
<circle cx="145.67" cy="426.66" r="0.4" fill="#7080e8" opacity="0.22"/>
<circle cx="162.77" cy="427.87" r="0.4" fill="#7080e8" opacity="0.17"/>
<circle cx="149.41" cy="433.05" r="0.4" fill="#7080e8" opacity="0.24"/>
<circle cx="154.25" cy="426.23" r="0.4" fill="#7080e8" opacity="0.29"/>
<circle cx="146.68" cy="429.27" r="0.4" fill="#7080e8" opacity="0.24"/>
<circle cx="145.22" cy="430.93" r="0.4" fill="#7080e8" opacity="0.12"/>
<circle cx="155.44" cy="430.1" r="0.4" fill="#7080e8" opacity="0.17"/>
<circle cx="159.25" cy="430.1" r="0.4" fill="#7080e8" opacity="0.24"/>
<circle cx="148.99" cy="427.65" r="0.4" fill="#7080e8" opacity="0.27"/>
<circle cx="153.3" cy="429.79" r="0.4" fill="#7080e8" opacity="0.22"/>
<circle cx="147.9" cy="426.77" r="0.4" fill="#7080e8" opacity="0.13"/>
<circle cx="156.15" cy="429.3" r="0.4" fill="#7080e8" opacity="0.27"/>
<circle cx="151.28" cy="425.55" r="0.4" fill="#7080e8" opacity="0.1"/>
<circle cx="147.83" cy="427.07" r="0.4" fill="#7080e8" opacity="0.15"/>
<circle cx="148.87" cy="427.53" r="0.4" fill="#7080e8" opacity="0.29"/>
<circle cx="148.8" cy="424.29" r="0.4" fill="#7080e8" opacity="0.17"/>
<circle cx="155.46" cy="428.58" r="0.4" fill="#7080e8" opacity="0.22"/>
<circle cx="148.62" cy="428.25" r="0.4" fill="#7080e8" opacity="0.12"/>
<circle cx="154.89" cy="428.64" r="0.4" fill="#7080e8" opacity="0.07"/>
<circle cx="148.28" cy="428.6" r="0.4" fill="#7080e8" opacity="0.11"/>
<circle cx="137.35" cy="427.33" r="0.4" fill="#7080e8" opacity="0.16"/>
<circle cx="161.71" cy="424.94" r="0.4" fill="#7080e8" opacity="0.21"/>
<circle cx="154.72" cy="429.75" r="0.4" fill="#7080e8" opacity="0.15"/>
<circle cx="148.35" cy="427.69" r="0.4" fill="#7080e8" opacity="0.29"/>
<circle cx="151.66" cy="429.81" r="0.4" fill="#7080e8" opacity="0.12"/>
<circle cx="141.1" cy="431.07" r="0.4" fill="#7080e8" opacity="0.19"/>
<circle cx="156.87" cy="427.37" r="0.4" fill="#7080e8" opacity="0.24"/>
<circle cx="148" cy="427.72" r="0.4" fill="#7080e8" opacity="0.07"/>
<circle cx="146" cy="428.2" r="0.5" fill="#70c880"/>
<circle cx="149" cy="428.9" r="0.5" fill="#70c880"/>
<line x1="41" y1="486.6" x2="41" y2="565.2" stroke="#333" stroke-width="1.6"/>
<line x1="38.2" y1="487.5" x2="41" y2="487.5" stroke="#333" stroke-width="1.3"/>
<text x="35.5" y="490.1" font-size="7.4" text-anchor="end" stroke="#000" stroke-width="0.25" textLength="13.2" lengthAdjust="spacingAndGlyphs">100</text>
<line x1="38.2" y1="502.84" x2="41" y2="502.84" stroke="#333" stroke-width="1.3"/>
<text x="35.5" y="505.44" font-size="7.4" text-anchor="end" stroke="#000" stroke-width="0.25" textLength="8.8" lengthAdjust="spacingAndGlyphs">80</text>
<line x1="38.2" y1="518.18" x2="41" y2="518.18" stroke="#333" stroke-width="1.3"/>
<text x="35.5" y="520.78" font-size="7.4" text-anchor="end" stroke="#000" stroke-width="0.25" textLength="8.8" lengthAdjust="spacingAndGlyphs">60</text>
<line x1="38.2" y1="533.52" x2="41" y2="533.52" stroke="#333" stroke-width="1.3"/>
<text x="35.5" y="536.12" font-size="7.4" text-anchor="end" stroke="#000" stroke-width="0.25" textLength="8.8" lengthAdjust="spacingAndGlyphs">40</text>
<line x1="38.2" y1="548.86" x2="41" y2="548.86" stroke="#333" stroke-width="1.3"/>
<text x="35.5" y="551.46" font-size="7.4" text-anchor="end" stroke="#000" stroke-width="0.25" textLength="8.8" lengthAdjust="spacingAndGlyphs">20</text>
<line x1="38.2" y1="564.2" x2="41" y2="564.2" stroke="#333" stroke-width="1.3"/>
<text x="35.5" y="566.8" font-size="7.4" text-anchor="end" stroke="#000" stroke-width="0.25" textLength="4.4" lengthAdjust="spacingAndGlyphs">0</text>
<line x1="40.2" y1="564.3" x2="162" y2="564.3" stroke="#333" stroke-width="1.7"/>
<line x1="62.1" y1="564.3" x2="62.1" y2="566.9" stroke="#333" stroke-width="1.3"/>
<line x1="88.1" y1="564.3" x2="88.1" y2="566.9" stroke="#333" stroke-width="1.3"/>
<line x1="114.4" y1="564.3" x2="114.4" y2="566.9" stroke="#333" stroke-width="1.3"/>
<line x1="140.2" y1="564.3" x2="140.2" y2="566.9" stroke="#333" stroke-width="1.3"/>
<text x="0" y="0" font-size="9.2" text-anchor="middle" stroke="#000" stroke-width="0.25" textLength="25.4" lengthAdjust="spacingAndGlyphs" transform="translate(18.8 525.3) rotate(-90)">% PD-1+</text>
<circle cx="57.4" cy="564" r="1.65" fill="#dd0000"/>
<circle cx="62.6" cy="564" r="1.65" fill="#dd0000"/>
<circle cx="67.5" cy="564" r="1.65" fill="#dd0000"/>
<rect x="79.8" y="562.6" width="2.8" height="2.8" fill="#0a1fb0"/>
<rect x="84.4" y="562.6" width="2.8" height="2.8" fill="#0a1fb0"/>
<rect x="89.3" y="562.6" width="2.8" height="2.8" fill="#0a1fb0"/>
<rect x="93.5" y="561.4" width="2.8" height="2.8" fill="#0a1fb0"/>
<line x1="103.6" y1="549.5" x2="125.2" y2="549.5" stroke="#111" stroke-width="1.4"/>
<line x1="109.05" y1="544.4" x2="119.75" y2="544.4" stroke="#111" stroke-width="1.4"/>
<line x1="109.05" y1="554.3" x2="119.75" y2="554.3" stroke="#111" stroke-width="1.4"/>
<line x1="114.4" y1="544.4" x2="114.4" y2="554.3" stroke="#333" stroke-width="1.2"/>
<polygon points="114.4,539.72 116.05,542.69 112.75,542.69" fill="#22ee22"/>
<polygon points="114.4,548.62 116.05,551.59 112.75,551.59" fill="#22ee22"/>
<polygon points="114.4,556.62 116.05,559.59 112.75,559.59" fill="#22ee22"/>
<line x1="129.6" y1="513.7" x2="150.8" y2="513.7" stroke="#111" stroke-width="1.4"/>
<line x1="134.9" y1="508.4" x2="145.5" y2="508.4" stroke="#111" stroke-width="1.4"/>
<line x1="134.9" y1="519.4" x2="145.5" y2="519.4" stroke="#111" stroke-width="1.4"/>
<line x1="140.2" y1="508.4" x2="140.2" y2="519.4" stroke="#333" stroke-width="1.2"/>
<polygon points="135.95,503.81 139.25,503.81 137.6,506.79" fill="#1010a0"/>
<polygon points="140.85,501.62 144.15,501.62 142.5,504.59" fill="#1010a0"/>
<polygon points="138.55,516.51 141.85,516.51 140.2,519.49" fill="#1010a0"/>
<polygon points="138.55,526.41 141.85,526.41 140.2,529.38" fill="#1010a0"/>
<line x1="118.4" y1="483.6" x2="147.9" y2="483.6" stroke="#111" stroke-width="1.5"/>
<circle cx="129.4" cy="479.3" r="1.05" fill="#111"/>
<circle cx="132.3" cy="479.3" r="1.05" fill="#111"/>
<circle cx="135.1" cy="479.3" r="1.05" fill="#111"/>
<text x="66.7" y="575.4" font-size="7.9" text-anchor="end" stroke="#000" stroke-width="0.25" textLength="53" lengthAdjust="spacingAndGlyphs" transform="rotate(-45 66.7 575.4)">Healthy NK cell</text>
<text x="92.7" y="575.4" font-size="7.9" text-anchor="end" stroke="#000" stroke-width="0.25" textLength="47" lengthAdjust="spacingAndGlyphs" transform="rotate(-45 92.7 575.4)">HSCT NK cell</text>
<text x="119" y="575.4" font-size="7.9" text-anchor="end" stroke="#000" stroke-width="0.25" textLength="46.5" lengthAdjust="spacingAndGlyphs" transform="rotate(-45 119 575.4)">Healthy T cell</text>
<text x="144.8" y="575.4" font-size="7.9" text-anchor="end" stroke="#000" stroke-width="0.25" textLength="42" lengthAdjust="spacingAndGlyphs" transform="rotate(-45 144.8 575.4)">HSCT T cell</text>
<text x="223.6" y="328.8" font-size="11.5" font-weight="bold" stroke="#000" stroke-width="0.5" textLength="6.6" lengthAdjust="spacingAndGlyphs">E</text>
<text x="257.7" y="332.3" font-size="8.6" stroke="#000" stroke-width="0.25" textLength="31.2" lengthAdjust="spacingAndGlyphs">NK cells</text>
<text x="336.5" y="332.3" font-size="8.6" stroke="#000" stroke-width="0.25" textLength="23.9" lengthAdjust="spacingAndGlyphs">T cells</text>
<text x="199.6" y="360.8" font-size="8.6" stroke="#000" stroke-width="0.25" textLength="24.3" lengthAdjust="spacingAndGlyphs">Healthy</text>
<text x="203.5" y="430.8" font-size="8.6" stroke="#000" stroke-width="0.25" textLength="20.4" lengthAdjust="spacingAndGlyphs">HSCT</text>
<line x1="227.4" y1="338.8" x2="227.4" y2="440.8" stroke="#000" stroke-width="1.3"/>
<polygon points="227.4,334.8 230,340.4 224.8,340.4" fill="#111"/>
<text x="0" y="0" font-size="5.3" text-anchor="middle" stroke="#000" stroke-width="0.25" textLength="12" lengthAdjust="spacingAndGlyphs" transform="translate(229.3 450) rotate(-90)">SSC-A</text>
<line x1="250" y1="467" x2="371" y2="467" stroke="#000" stroke-width="1.4"/>
<polygon points="375,467 369.4,464.4 369.4,469.6" fill="#111"/>
<text x="238" y="468.9" font-size="5.3" stroke="#000" stroke-width="0.25" textLength="8.5" lengthAdjust="spacingAndGlyphs">Ki67</text>
<rect x="271.5" y="336.6" width="26.1" height="46.8" fill="none" stroke="#6f8080" stroke-width="1.0"/>
<rect x="245.4" y="335.6" width="53.1" height="49.05" fill="none" stroke="#111" stroke-width="1.6" rx="0.6"/>
<line x1="243.8" y1="336.6" x2="245.4" y2="336.6" stroke="#000" stroke-width="0.7"/>
<line x1="243.8" y1="338.21" x2="245.4" y2="338.21" stroke="#000" stroke-width="0.7"/>
<line x1="243.8" y1="340.55" x2="245.4" y2="340.55" stroke="#000" stroke-width="0.7"/>
<line x1="243.8" y1="342.1" x2="245.4" y2="342.1" stroke="#000" stroke-width="0.7"/>
<line x1="243.8" y1="343.49" x2="245.4" y2="343.49" stroke="#000" stroke-width="0.7"/>
<line x1="243.8" y1="345.72" x2="245.4" y2="345.72" stroke="#000" stroke-width="0.7"/>
<line x1="243.8" y1="348.12" x2="245.4" y2="348.12" stroke="#000" stroke-width="0.7"/>
<line x1="243.8" y1="350.46" x2="245.4" y2="350.46" stroke="#000" stroke-width="0.7"/>
<line x1="243.8" y1="352.84" x2="245.4" y2="352.84" stroke="#000" stroke-width="0.7"/>
<line x1="243.8" y1="354.99" x2="245.4" y2="354.99" stroke="#000" stroke-width="0.7"/>
<line x1="243.8" y1="356.36" x2="245.4" y2="356.36" stroke="#000" stroke-width="0.7"/>
<line x1="243.8" y1="358.22" x2="245.4" y2="358.22" stroke="#000" stroke-width="0.7"/>
<line x1="243.8" y1="360.31" x2="245.4" y2="360.31" stroke="#000" stroke-width="0.7"/>
<line x1="243.8" y1="362.9" x2="245.4" y2="362.9" stroke="#000" stroke-width="0.7"/>
<line x1="243.8" y1="364.46" x2="245.4" y2="364.46" stroke="#000" stroke-width="0.7"/>
<line x1="243.8" y1="366.92" x2="245.4" y2="366.92" stroke="#000" stroke-width="0.7"/>
<line x1="243.8" y1="369.03" x2="245.4" y2="369.03" stroke="#000" stroke-width="0.7"/>
<line x1="243.8" y1="370.44" x2="245.4" y2="370.44" stroke="#000" stroke-width="0.7"/>
<line x1="243.8" y1="372.54" x2="245.4" y2="372.54" stroke="#000" stroke-width="0.7"/>
<line x1="243.8" y1="374.15" x2="245.4" y2="374.15" stroke="#000" stroke-width="0.7"/>
<line x1="243.8" y1="375.56" x2="245.4" y2="375.56" stroke="#000" stroke-width="0.7"/>
<line x1="243.8" y1="376.86" x2="245.4" y2="376.86" stroke="#000" stroke-width="0.7"/>
<line x1="243.8" y1="378.22" x2="245.4" y2="378.22" stroke="#000" stroke-width="0.7"/>
<line x1="243.8" y1="379.83" x2="245.4" y2="379.83" stroke="#000" stroke-width="0.7"/>
<line x1="243.8" y1="382.08" x2="245.4" y2="382.08" stroke="#000" stroke-width="0.7"/>
<line x1="243.8" y1="383.3" x2="245.4" y2="383.3" stroke="#000" stroke-width="0.7"/>
<line x1="246.4" y1="384.65" x2="246.4" y2="386.25" stroke="#000" stroke-width="0.7"/>
<line x1="248.69" y1="384.65" x2="248.69" y2="386.25" stroke="#000" stroke-width="0.7"/>
<line x1="250.78" y1="384.65" x2="250.78" y2="386.25" stroke="#000" stroke-width="0.7"/>
<line x1="252.63" y1="384.65" x2="252.63" y2="386.25" stroke="#000" stroke-width="0.7"/>
<line x1="254.59" y1="384.65" x2="254.59" y2="386.25" stroke="#000" stroke-width="0.7"/>
<line x1="257.16" y1="384.65" x2="257.16" y2="386.25" stroke="#000" stroke-width="0.7"/>
<line x1="258.44" y1="384.65" x2="258.44" y2="386.25" stroke="#000" stroke-width="0.7"/>
<line x1="260.36" y1="384.65" x2="260.36" y2="386.25" stroke="#000" stroke-width="0.7"/>
<line x1="262.6" y1="384.65" x2="262.6" y2="386.25" stroke="#000" stroke-width="0.7"/>
<line x1="264.85" y1="384.65" x2="264.85" y2="386.25" stroke="#000" stroke-width="0.7"/>
<line x1="266.18" y1="384.65" x2="266.18" y2="386.25" stroke="#000" stroke-width="0.7"/>
<line x1="268.55" y1="384.65" x2="268.55" y2="386.25" stroke="#000" stroke-width="0.7"/>
<line x1="269.9" y1="384.65" x2="269.9" y2="386.25" stroke="#000" stroke-width="0.7"/>
<line x1="271.24" y1="384.65" x2="271.24" y2="386.25" stroke="#000" stroke-width="0.7"/>
<line x1="273.16" y1="384.65" x2="273.16" y2="386.25" stroke="#000" stroke-width="0.7"/>
<line x1="274.66" y1="384.65" x2="274.66" y2="386.25" stroke="#000" stroke-width="0.7"/>
<line x1="276.28" y1="384.65" x2="276.28" y2="386.25" stroke="#000" stroke-width="0.7"/>
<line x1="278.05" y1="384.65" x2="278.05" y2="386.25" stroke="#000" stroke-width="0.7"/>
<line x1="280.02" y1="384.65" x2="280.02" y2="386.25" stroke="#000" stroke-width="0.7"/>
<line x1="281.37" y1="384.65" x2="281.37" y2="386.25" stroke="#000" stroke-width="0.7"/>
<line x1="283.29" y1="384.65" x2="283.29" y2="386.25" stroke="#000" stroke-width="0.7"/>
<line x1="284.9" y1="384.65" x2="284.9" y2="386.25" stroke="#000" stroke-width="0.7"/>
<line x1="286.32" y1="384.65" x2="286.32" y2="386.25" stroke="#000" stroke-width="0.7"/>
<line x1="288.75" y1="384.65" x2="288.75" y2="386.25" stroke="#000" stroke-width="0.7"/>
<line x1="290.68" y1="384.65" x2="290.68" y2="386.25" stroke="#000" stroke-width="0.7"/>
<line x1="292" y1="384.65" x2="292" y2="386.25" stroke="#000" stroke-width="0.7"/>
<line x1="293.27" y1="384.65" x2="293.27" y2="386.25" stroke="#000" stroke-width="0.7"/>
<line x1="295.5" y1="384.65" x2="295.5" y2="386.25" stroke="#000" stroke-width="0.7"/>
<line x1="297.76" y1="384.65" x2="297.76" y2="386.25" stroke="#000" stroke-width="0.7"/>
<text x="240.6" y="341.7" font-size="5.8" text-anchor="end" stroke="#000" stroke-width="0.12" textLength="6.3" lengthAdjust="spacingAndGlyphs">10</text>
<text x="240.9" y="339.7" font-size="3.8">5</text>
<text x="240.6" y="352.9" font-size="5.8" text-anchor="end" stroke="#000" stroke-width="0.12" textLength="6.3" lengthAdjust="spacingAndGlyphs">10</text>
<text x="240.9" y="350.9" font-size="3.8">4</text>
<text x="240.6" y="366.6" font-size="5.8" text-anchor="end" stroke="#000" stroke-width="0.12" textLength="6.3" lengthAdjust="spacingAndGlyphs">10</text>
<text x="240.9" y="364.6" font-size="3.8">3</text>
<text x="242.8" y="375.2" font-size="5.8" text-anchor="end" stroke="#000" stroke-width="0.12">0</text>
<text x="240.6" y="383.1" font-size="5.8" text-anchor="end" stroke="#000" stroke-width="0.12" textLength="8.6" lengthAdjust="spacingAndGlyphs">-10</text>
<text x="240.9" y="381.1" font-size="3.8">3</text>
<text x="257.8" y="393.6" font-size="5.8" text-anchor="middle" stroke="#000" stroke-width="0.12">0</text>
<text x="268.7" y="393.6" font-size="5.8" stroke="#000" stroke-width="0.12" textLength="6.3" lengthAdjust="spacingAndGlyphs">10</text>
<text x="275.4" y="391.6" font-size="3.8">3</text>
<text x="280.3" y="393.6" font-size="5.8" stroke="#000" stroke-width="0.12" textLength="6.3" lengthAdjust="spacingAndGlyphs">10</text>
<text x="287" y="391.6" font-size="3.8">4</text>
<text x="290.3" y="393.6" font-size="5.8" stroke="#000" stroke-width="0.12" textLength="6.3" lengthAdjust="spacingAndGlyphs">10</text>
<text x="297" y="391.6" font-size="3.8">5</text>
<text x="278.8" y="346.5" font-size="6.3" stroke="#000" stroke-width="0.08">9.39</text>
<circle cx="262.28" cy="357.48" r="0.45" fill="#3048f0" opacity="0.24"/>
<circle cx="268.85" cy="362.14" r="0.45" fill="#3048f0" opacity="0.28"/>
<circle cx="257.95" cy="367.43" r="0.45" fill="#3048f0" opacity="0.44"/>
<circle cx="271.43" cy="360.51" r="0.45" fill="#3048f0" opacity="0.23"/>
<circle cx="270.32" cy="357.83" r="0.45" fill="#3048f0" opacity="0.44"/>
<circle cx="260.35" cy="365.37" r="0.45" fill="#3048f0" opacity="0.46"/>
<circle cx="270.45" cy="361.88" r="0.45" fill="#3048f0" opacity="0.22"/>
<circle cx="274.06" cy="364.45" r="0.45" fill="#3048f0" opacity="0.34"/>
<circle cx="264.53" cy="358.57" r="0.45" fill="#3048f0" opacity="0.37"/>
<circle cx="261.67" cy="363.09" r="0.45" fill="#3048f0" opacity="0.25"/>
<circle cx="274.64" cy="355.62" r="0.45" fill="#3048f0" opacity="0.24"/>
<circle cx="269.18" cy="359.24" r="0.45" fill="#3048f0" opacity="0.34"/>
<circle cx="252.06" cy="359.41" r="0.45" fill="#3048f0" opacity="0.27"/>
<circle cx="260.9" cy="358.34" r="0.45" fill="#3048f0" opacity="0.32"/>
<circle cx="255.05" cy="364.3" r="0.45" fill="#3048f0" opacity="0.27"/>
<circle cx="269.46" cy="358.32" r="0.45" fill="#3048f0" opacity="0.45"/>
<circle cx="266.47" cy="359.63" r="0.45" fill="#3048f0" opacity="0.45"/>
<circle cx="269.37" cy="363.49" r="0.45" fill="#3048f0" opacity="0.21"/>
<circle cx="259.96" cy="364.53" r="0.45" fill="#3048f0" opacity="0.2"/>
<circle cx="281.41" cy="359.23" r="0.45" fill="#3048f0" opacity="0.43"/>
<circle cx="256.23" cy="355.77" r="0.45" fill="#3048f0" opacity="0.33"/>
<circle cx="280.46" cy="356.87" r="0.45" fill="#3048f0" opacity="0.28"/>
<circle cx="273.23" cy="357.62" r="0.45" fill="#3048f0" opacity="0.45"/>
<circle cx="271.53" cy="357.7" r="0.45" fill="#3048f0" opacity="0.47"/>
<circle cx="283.6" cy="360.77" r="0.45" fill="#3048f0" opacity="0.19"/>
<circle cx="264.12" cy="359" r="0.45" fill="#3048f0" opacity="0.47"/>
<circle cx="276.6" cy="363.06" r="0.45" fill="#3048f0" opacity="0.34"/>
<circle cx="250.96" cy="369.38" r="0.45" fill="#3048f0" opacity="0.39"/>
<circle cx="266.57" cy="358.33" r="0.45" fill="#3048f0" opacity="0.39"/>
<circle cx="259.47" cy="368.39" r="0.45" fill="#3048f0" opacity="0.38"/>
<circle cx="255.86" cy="362.65" r="0.45" fill="#3048f0" opacity="0.33"/>
<circle cx="278.24" cy="359.27" r="0.45" fill="#3048f0" opacity="0.31"/>
<circle cx="277.11" cy="358.51" r="0.45" fill="#3048f0" opacity="0.5"/>
<circle cx="269.19" cy="361.19" r="0.45" fill="#3048f0" opacity="0.22"/>
<circle cx="270.81" cy="359.18" r="0.45" fill="#3048f0" opacity="0.47"/>
<circle cx="274.46" cy="355.66" r="0.45" fill="#3048f0" opacity="0.22"/>
<circle cx="257.59" cy="363.86" r="0.45" fill="#3048f0" opacity="0.35"/>
<circle cx="263.1" cy="359.51" r="0.45" fill="#3048f0" opacity="0.28"/>
<circle cx="280.83" cy="359.5" r="0.45" fill="#3048f0" opacity="0.34"/>
<circle cx="254.52" cy="359.8" r="0.45" fill="#3048f0" opacity="0.2"/>
<circle cx="264.09" cy="359.68" r="0.45" fill="#3048f0" opacity="0.46"/>
<circle cx="272.84" cy="359.76" r="0.45" fill="#3048f0" opacity="0.32"/>
<circle cx="263.44" cy="356.64" r="0.45" fill="#3048f0" opacity="0.28"/>
<circle cx="261.5" cy="364.12" r="0.45" fill="#3048f0" opacity="0.35"/>
<circle cx="269.78" cy="356.63" r="0.45" fill="#3048f0" opacity="0.24"/>
<circle cx="263.09" cy="365.98" r="0.45" fill="#3048f0" opacity="0.41"/>
<circle cx="262.37" cy="370.17" r="0.45" fill="#3048f0" opacity="0.28"/>
<circle cx="270.37" cy="360.76" r="0.45" fill="#3048f0" opacity="0.41"/>
<circle cx="267.32" cy="358.77" r="0.45" fill="#3048f0" opacity="0.23"/>
<circle cx="278.35" cy="358.24" r="0.45" fill="#3048f0" opacity="0.34"/>
<circle cx="263.01" cy="361.96" r="0.45" fill="#3048f0" opacity="0.23"/>
<circle cx="282.07" cy="355.11" r="0.45" fill="#3048f0" opacity="0.22"/>
<circle cx="261.58" cy="367.11" r="0.45" fill="#3048f0" opacity="0.42"/>
<circle cx="263.89" cy="360.82" r="0.45" fill="#3048f0" opacity="0.34"/>
<circle cx="259.08" cy="368.04" r="0.45" fill="#3048f0" opacity="0.41"/>
<circle cx="261.25" cy="368.34" r="0.45" fill="#3048f0" opacity="0.16"/>
<circle cx="273" cy="356.71" r="0.45" fill="#3048f0" opacity="0.18"/>
<circle cx="266.91" cy="366.76" r="0.45" fill="#3048f0" opacity="0.47"/>
<circle cx="255.37" cy="365.01" r="0.45" fill="#3048f0" opacity="0.38"/>
<circle cx="255.71" cy="363.41" r="0.45" fill="#3048f0" opacity="0.41"/>
<circle cx="265.64" cy="360.79" r="0.45" fill="#3048f0" opacity="0.16"/>
<circle cx="279.03" cy="361.43" r="0.45" fill="#3048f0" opacity="0.49"/>
<circle cx="275.16" cy="359.12" r="0.45" fill="#3048f0" opacity="0.49"/>
<circle cx="263.94" cy="366.92" r="0.45" fill="#3048f0" opacity="0.38"/>
<circle cx="277.02" cy="359.34" r="0.45" fill="#3048f0" opacity="0.24"/>
<circle cx="249.69" cy="365.63" r="0.45" fill="#3048f0" opacity="0.29"/>
<circle cx="287.72" cy="361.32" r="0.45" fill="#3048f0" opacity="0.49"/>
<circle cx="283.01" cy="356.8" r="0.45" fill="#3048f0" opacity="0.43"/>
<circle cx="264.17" cy="357.99" r="0.45" fill="#3048f0" opacity="0.4"/>
<circle cx="266.05" cy="361.36" r="0.45" fill="#3048f0" opacity="0.36"/>
<circle cx="270.08" cy="362.4" r="0.45" fill="#3048f0" opacity="0.49"/>
<circle cx="276.1" cy="355.5" r="0.45" fill="#3048f0" opacity="0.42"/>
<circle cx="265.31" cy="363.14" r="0.45" fill="#3048f0" opacity="0.21"/>
<circle cx="269.93" cy="356.23" r="0.45" fill="#3048f0" opacity="0.44"/>
<circle cx="268.57" cy="362.29" r="0.45" fill="#3048f0" opacity="0.21"/>
<circle cx="255.82" cy="363.12" r="0.45" fill="#3048f0" opacity="0.16"/>
<circle cx="267.69" cy="357.23" r="0.45" fill="#3048f0" opacity="0.31"/>
<circle cx="281.34" cy="357.41" r="0.45" fill="#3048f0" opacity="0.38"/>
<circle cx="273.16" cy="360.95" r="0.45" fill="#3048f0" opacity="0.37"/>
<circle cx="271.43" cy="354.44" r="0.45" fill="#3048f0" opacity="0.38"/>
<circle cx="270.76" cy="362.91" r="0.45" fill="#3048f0" opacity="0.45"/>
<circle cx="268.22" cy="359.46" r="0.45" fill="#3048f0" opacity="0.15"/>
<circle cx="268.13" cy="359.54" r="0.45" fill="#3048f0" opacity="0.23"/>
<circle cx="271.36" cy="358.6" r="0.45" fill="#3048f0" opacity="0.15"/>
<circle cx="275.16" cy="356.3" r="0.45" fill="#3048f0" opacity="0.37"/>
<circle cx="272.21" cy="364.15" r="0.45" fill="#3048f0" opacity="0.3"/>
<circle cx="266.42" cy="358.43" r="0.45" fill="#3048f0" opacity="0.42"/>
<circle cx="253.57" cy="362.96" r="0.45" fill="#3048f0" opacity="0.16"/>
<circle cx="274.45" cy="364.32" r="0.45" fill="#3048f0" opacity="0.3"/>
<circle cx="264.59" cy="363.35" r="0.45" fill="#3048f0" opacity="0.21"/>
<circle cx="267.19" cy="356.1" r="0.45" fill="#3048f0" opacity="0.2"/>
<circle cx="273.27" cy="359.2" r="0.45" fill="#3048f0" opacity="0.18"/>
<circle cx="280.58" cy="355.45" r="0.45" fill="#3048f0" opacity="0.22"/>
<circle cx="276.49" cy="363.43" r="0.45" fill="#3048f0" opacity="0.27"/>
<circle cx="269.68" cy="364.81" r="0.45" fill="#3048f0" opacity="0.47"/>
<circle cx="261.11" cy="363.61" r="0.45" fill="#3048f0" opacity="0.41"/>
<circle cx="276.69" cy="361.66" r="0.45" fill="#3048f0" opacity="0.35"/>
<circle cx="259.77" cy="364.37" r="0.45" fill="#3048f0" opacity="0.36"/>
<circle cx="260.43" cy="364.57" r="0.45" fill="#3048f0" opacity="0.21"/>
<circle cx="266.98" cy="357.63" r="0.45" fill="#3048f0" opacity="0.47"/>
<circle cx="265.7" cy="363.39" r="0.45" fill="#3048f0" opacity="0.15"/>
<circle cx="282.58" cy="363.04" r="0.45" fill="#3048f0" opacity="0.42"/>
<circle cx="254.67" cy="364.22" r="0.45" fill="#3048f0" opacity="0.26"/>
<circle cx="275.24" cy="356.39" r="0.45" fill="#3048f0" opacity="0.34"/>
<circle cx="267.63" cy="361.94" r="0.45" fill="#3048f0" opacity="0.18"/>
<circle cx="249.18" cy="366.19" r="0.45" fill="#3048f0" opacity="0.39"/>
<circle cx="268.56" cy="357.8" r="0.45" fill="#3048f0" opacity="0.26"/>
<circle cx="268.68" cy="359.03" r="0.45" fill="#3048f0" opacity="0.3"/>
<circle cx="258.44" cy="362.17" r="0.45" fill="#3048f0" opacity="0.48"/>
<circle cx="273.91" cy="363.13" r="0.45" fill="#3048f0" opacity="0.25"/>
<circle cx="271.86" cy="356.76" r="0.45" fill="#3048f0" opacity="0.25"/>
<circle cx="276.65" cy="360.48" r="0.45" fill="#3048f0" opacity="0.5"/>
<circle cx="272.01" cy="360.06" r="0.45" fill="#3048f0" opacity="0.4"/>
<circle cx="287.02" cy="358.67" r="0.45" fill="#3048f0" opacity="0.23"/>
<circle cx="264.02" cy="366.33" r="0.45" fill="#3048f0" opacity="0.25"/>
<circle cx="285.12" cy="358.3" r="0.45" fill="#3048f0" opacity="0.18"/>
<circle cx="280.1" cy="358.77" r="0.45" fill="#3048f0" opacity="0.43"/>
<circle cx="252.39" cy="360.99" r="0.45" fill="#3048f0" opacity="0.29"/>
<circle cx="253.27" cy="360.79" r="0.45" fill="#3048f0" opacity="0.17"/>
<circle cx="268.68" cy="364.57" r="0.45" fill="#3048f0" opacity="0.22"/>
<circle cx="246.68" cy="369.85" r="0.45" fill="#3048f0" opacity="0.21"/>
<circle cx="275.44" cy="359.61" r="0.45" fill="#3048f0" opacity="0.36"/>
<circle cx="264.3" cy="360.99" r="0.45" fill="#3048f0" opacity="0.43"/>
<circle cx="276.12" cy="362.44" r="0.45" fill="#3048f0" opacity="0.48"/>
<circle cx="269.78" cy="361.04" r="0.45" fill="#3048f0" opacity="0.39"/>
<circle cx="267.63" cy="362.62" r="0.45" fill="#3048f0" opacity="0.3"/>
<circle cx="259.19" cy="366.06" r="0.45" fill="#3048f0" opacity="0.3"/>
<circle cx="288.47" cy="355.04" r="0.45" fill="#3048f0" opacity="0.3"/>
<circle cx="268.25" cy="366.96" r="0.45" fill="#3048f0" opacity="0.49"/>
<circle cx="264.49" cy="365.86" r="0.45" fill="#3048f0" opacity="0.4"/>
<circle cx="267.1" cy="366.54" r="0.45" fill="#3048f0" opacity="0.37"/>
<circle cx="272.03" cy="362.73" r="0.45" fill="#3048f0" opacity="0.21"/>
<circle cx="269.98" cy="359.39" r="0.45" fill="#3048f0" opacity="0.16"/>
<circle cx="270.92" cy="358.72" r="0.45" fill="#3048f0" opacity="0.36"/>
<circle cx="271.89" cy="360.68" r="0.45" fill="#3048f0" opacity="0.31"/>
<circle cx="260.47" cy="367.1" r="0.45" fill="#3048f0" opacity="0.18"/>
<circle cx="273.39" cy="357.72" r="0.45" fill="#3048f0" opacity="0.41"/>
<circle cx="269.09" cy="360.56" r="0.45" fill="#3048f0" opacity="0.22"/>
<circle cx="266.91" cy="356.69" r="0.45" fill="#3048f0" opacity="0.36"/>
<circle cx="266.44" cy="368.69" r="0.45" fill="#3048f0" opacity="0.3"/>
<circle cx="257.62" cy="362.46" r="0.45" fill="#3048f0" opacity="0.46"/>
<circle cx="279.25" cy="356.72" r="0.45" fill="#3048f0" opacity="0.44"/>
<circle cx="270.33" cy="362.17" r="0.45" fill="#3048f0" opacity="0.29"/>
<circle cx="280.86" cy="357.28" r="0.45" fill="#3048f0" opacity="0.38"/>
<circle cx="273.02" cy="362.47" r="0.45" fill="#3048f0" opacity="0.4"/>
<circle cx="279.31" cy="358.1" r="0.45" fill="#3048f0" opacity="0.17"/>
<circle cx="283.5" cy="356.26" r="0.45" fill="#3048f0" opacity="0.5"/>
<circle cx="260.29" cy="362.14" r="0.45" fill="#3048f0" opacity="0.4"/>
<circle cx="268.63" cy="367.88" r="0.45" fill="#3048f0" opacity="0.31"/>
<circle cx="270.12" cy="362.66" r="0.45" fill="#3048f0" opacity="0.17"/>
<circle cx="280.02" cy="354.66" r="0.45" fill="#3048f0" opacity="0.26"/>
<circle cx="283.28" cy="356.83" r="0.45" fill="#3048f0" opacity="0.23"/>
<circle cx="275.74" cy="366.65" r="0.45" fill="#3048f0" opacity="0.48"/>
<circle cx="282.04" cy="360.56" r="0.45" fill="#3048f0" opacity="0.18"/>
<circle cx="274" cy="358.26" r="0.45" fill="#3048f0" opacity="0.2"/>
<circle cx="279.99" cy="354.69" r="0.45" fill="#3048f0" opacity="0.49"/>
<circle cx="260.32" cy="362.39" r="0.45" fill="#3048f0" opacity="0.28"/>
<circle cx="268.9" cy="365.13" r="0.45" fill="#3048f0" opacity="0.18"/>
<circle cx="276.02" cy="355.1" r="0.45" fill="#3048f0" opacity="0.44"/>
<circle cx="263.95" cy="361.95" r="0.45" fill="#3048f0" opacity="0.38"/>
<circle cx="265.95" cy="360" r="0.45" fill="#3048f0" opacity="0.39"/>
<circle cx="276.01" cy="353.42" r="0.45" fill="#3048f0" opacity="0.42"/>
<circle cx="273.3" cy="359.99" r="0.45" fill="#3048f0" opacity="0.3"/>
<circle cx="262.77" cy="360.87" r="0.45" fill="#3048f0" opacity="0.19"/>
<circle cx="258.47" cy="360.59" r="0.45" fill="#3048f0" opacity="0.21"/>
<circle cx="271" cy="362.59" r="0.45" fill="#3048f0" opacity="0.23"/>
<circle cx="275.18" cy="361.07" r="0.45" fill="#3048f0" opacity="0.29"/>
<circle cx="285.34" cy="358.64" r="0.45" fill="#3048f0" opacity="0.45"/>
<circle cx="258.14" cy="361.23" r="0.45" fill="#3048f0" opacity="0.41"/>
<circle cx="265.25" cy="358.54" r="0.45" fill="#3048f0" opacity="0.26"/>
<circle cx="251.76" cy="368.35" r="0.45" fill="#3048f0" opacity="0.17"/>
<circle cx="273.91" cy="365.96" r="0.45" fill="#3048f0" opacity="0.46"/>
<circle cx="270.96" cy="363.73" r="0.45" fill="#3048f0" opacity="0.29"/>
<circle cx="281.98" cy="358.04" r="0.45" fill="#3048f0" opacity="0.49"/>
<circle cx="273.41" cy="360.79" r="0.45" fill="#3048f0" opacity="0.21"/>
<circle cx="277.28" cy="354.74" r="0.45" fill="#3048f0" opacity="0.33"/>
<circle cx="277.2" cy="361.78" r="0.45" fill="#3048f0" opacity="0.24"/>
<circle cx="266.87" cy="362.49" r="0.45" fill="#3048f0" opacity="0.25"/>
<circle cx="275.22" cy="357.66" r="0.45" fill="#3048f0" opacity="0.26"/>
<circle cx="274.72" cy="357.78" r="0.45" fill="#3048f0" opacity="0.36"/>
<circle cx="269.01" cy="361.57" r="0.45" fill="#3048f0" opacity="0.48"/>
<circle cx="268" cy="362.91" r="0.45" fill="#3048f0" opacity="0.46"/>
<circle cx="264.47" cy="361.11" r="0.45" fill="#3048f0" opacity="0.45"/>
<circle cx="270.32" cy="359.24" r="0.45" fill="#3048f0" opacity="0.23"/>
<circle cx="265.38" cy="359.69" r="0.45" fill="#3048f0" opacity="0.42"/>
<circle cx="265.33" cy="360.77" r="0.45" fill="#3048f0" opacity="0.23"/>
<circle cx="266.67" cy="358.91" r="0.45" fill="#3048f0" opacity="0.33"/>
<circle cx="256.45" cy="362.06" r="0.45" fill="#3048f0" opacity="0.43"/>
<circle cx="270.26" cy="357.54" r="0.45" fill="#3048f0" opacity="0.16"/>
<circle cx="266.24" cy="361.92" r="0.45" fill="#3048f0" opacity="0.49"/>
<circle cx="269.88" cy="361.49" r="0.45" fill="#3048f0" opacity="0.18"/>
<circle cx="277.65" cy="358.27" r="0.45" fill="#3048f0" opacity="0.27"/>
<circle cx="263.67" cy="359.54" r="0.45" fill="#3048f0" opacity="0.36"/>
<circle cx="267.43" cy="355.77" r="0.45" fill="#3048f0" opacity="0.28"/>
<circle cx="272.86" cy="358.48" r="0.45" fill="#3048f0" opacity="0.42"/>
<circle cx="271.79" cy="365.54" r="0.45" fill="#3048f0" opacity="0.4"/>
<circle cx="288.84" cy="358.12" r="0.45" fill="#3048f0" opacity="0.23"/>
<circle cx="273.83" cy="362.46" r="0.45" fill="#3048f0" opacity="0.34"/>
<circle cx="264.55" cy="362.82" r="0.45" fill="#3048f0" opacity="0.45"/>
<circle cx="255.38" cy="366.48" r="0.45" fill="#3048f0" opacity="0.18"/>
<circle cx="271.19" cy="366.92" r="0.45" fill="#3048f0" opacity="0.26"/>
<circle cx="265.01" cy="363.9" r="0.45" fill="#3048f0" opacity="0.21"/>
<circle cx="272.33" cy="356.61" r="0.45" fill="#3048f0" opacity="0.4"/>
<circle cx="259.32" cy="362.25" r="0.45" fill="#3048f0" opacity="0.21"/>
<circle cx="278.92" cy="356.26" r="0.45" fill="#3048f0" opacity="0.17"/>
<circle cx="289.27" cy="358.4" r="0.45" fill="#3048f0" opacity="0.38"/>
<circle cx="263.6" cy="363.3" r="0.45" fill="#3048f0" opacity="0.22"/>
<circle cx="253.41" cy="362.52" r="0.45" fill="#3048f0" opacity="0.38"/>
<circle cx="265.99" cy="360.91" r="0.45" fill="#3048f0" opacity="0.36"/>
<circle cx="271.23" cy="363.76" r="0.45" fill="#3048f0" opacity="0.19"/>
<circle cx="271.13" cy="358.44" r="0.45" fill="#3048f0" opacity="0.47"/>
<circle cx="272.82" cy="366.63" r="0.45" fill="#3048f0" opacity="0.34"/>
<circle cx="258.39" cy="362.42" r="0.45" fill="#3048f0" opacity="0.47"/>
<circle cx="260.31" cy="363.52" r="0.45" fill="#3048f0" opacity="0.27"/>
<circle cx="262.46" cy="368.69" r="0.45" fill="#3048f0" opacity="0.28"/>
<circle cx="251.53" cy="368.03" r="0.45" fill="#3048f0" opacity="0.43"/>
<circle cx="261.35" cy="359.44" r="0.45" fill="#3048f0" opacity="0.42"/>
<circle cx="266.57" cy="362.72" r="0.45" fill="#3048f0" opacity="0.36"/>
<circle cx="262.74" cy="361.9" r="0.45" fill="#3048f0" opacity="0.23"/>
<circle cx="268.64" cy="361.15" r="0.45" fill="#3048f0" opacity="0.42"/>
<circle cx="262.98" cy="360.73" r="0.45" fill="#3048f0" opacity="0.23"/>
<circle cx="264.49" cy="359.59" r="0.45" fill="#3048f0" opacity="0.49"/>
<circle cx="271.44" cy="358.07" r="0.45" fill="#3048f0" opacity="0.24"/>
<circle cx="275.39" cy="365.17" r="0.45" fill="#3048f0" opacity="0.41"/>
<circle cx="267.23" cy="362.25" r="0.45" fill="#3048f0" opacity="0.43"/>
<circle cx="272.21" cy="356.68" r="0.45" fill="#3048f0" opacity="0.4"/>
<circle cx="265.48" cy="361.6" r="0.45" fill="#3048f0" opacity="0.48"/>
<circle cx="261.58" cy="362.28" r="0.45" fill="#3048f0" opacity="0.38"/>
<circle cx="266.12" cy="363.2" r="0.45" fill="#3048f0" opacity="0.33"/>
<circle cx="282.66" cy="357.25" r="0.45" fill="#3048f0" opacity="0.41"/>
<circle cx="271.42" cy="362.24" r="0.45" fill="#3048f0" opacity="0.26"/>
<circle cx="264.94" cy="361.48" r="0.45" fill="#3048f0" opacity="0.22"/>
<circle cx="285.52" cy="355.17" r="0.45" fill="#3048f0" opacity="0.45"/>
<circle cx="268.73" cy="356.86" r="0.45" fill="#3048f0" opacity="0.39"/>
<circle cx="271.19" cy="354.15" r="0.45" fill="#3048f0" opacity="0.37"/>
<circle cx="257.2" cy="359.21" r="0.45" fill="#3048f0" opacity="0.46"/>
<circle cx="273.41" cy="360.4" r="0.45" fill="#3048f0" opacity="0.44"/>
<circle cx="259.66" cy="369.17" r="0.45" fill="#3048f0" opacity="0.42"/>
<circle cx="274.7" cy="362.27" r="0.45" fill="#3048f0" opacity="0.28"/>
<circle cx="272.13" cy="363.62" r="0.45" fill="#3048f0" opacity="0.37"/>
<circle cx="272.29" cy="354.99" r="0.45" fill="#3048f0" opacity="0.26"/>
<circle cx="267.95" cy="360.06" r="0.45" fill="#3048f0" opacity="0.18"/>
<circle cx="260.32" cy="362.23" r="0.45" fill="#3048f0" opacity="0.3"/>
<circle cx="269.69" cy="361.58" r="0.45" fill="#3048f0" opacity="0.33"/>
<circle cx="265.46" cy="361.89" r="0.45" fill="#3048f0" opacity="0.31"/>
<circle cx="263.87" cy="361.1" r="0.45" fill="#3048f0" opacity="0.46"/>
<circle cx="252.74" cy="363.35" r="0.45" fill="#3048f0" opacity="0.35"/>
<circle cx="270.35" cy="364.66" r="0.45" fill="#3048f0" opacity="0.41"/>
<circle cx="260.9" cy="366.06" r="0.45" fill="#3048f0" opacity="0.41"/>
<circle cx="259.49" cy="363.47" r="0.45" fill="#3048f0" opacity="0.25"/>
<circle cx="260.02" cy="361.07" r="0.45" fill="#3048f0" opacity="0.36"/>
<circle cx="273.29" cy="358.91" r="0.45" fill="#3048f0" opacity="0.27"/>
<circle cx="257.66" cy="365.59" r="0.45" fill="#3048f0" opacity="0.16"/>
<circle cx="265.67" cy="365.14" r="0.45" fill="#3048f0" opacity="0.43"/>
<circle cx="270.75" cy="360.41" r="0.45" fill="#3048f0" opacity="0.2"/>
<circle cx="265.38" cy="363.24" r="0.45" fill="#3048f0" opacity="0.23"/>
<circle cx="274.61" cy="357.62" r="0.45" fill="#3048f0" opacity="0.45"/>
<circle cx="276.38" cy="358.53" r="0.45" fill="#3048f0" opacity="0.43"/>
<circle cx="269.65" cy="362.04" r="0.45" fill="#3048f0" opacity="0.29"/>
<circle cx="269.61" cy="363.09" r="0.45" fill="#3048f0" opacity="0.19"/>
<ellipse cx="278" cy="361" rx="6.5" ry="4.4" fill="#3050f0" opacity="0.5" filter="url(#b2)" transform="rotate(-10 278 361)"/>
<ellipse cx="265.3" cy="361.7" rx="9" ry="4.2" fill="#2848f0" opacity="0.55" filter="url(#b2)" transform="rotate(-14 265.3 361.7)"/>
<ellipse cx="265.3" cy="361.7" rx="7" ry="3.3" fill="#1436f4" filter="url(#b1)" transform="rotate(-14 265.3 361.7)"/>
<ellipse cx="265.3" cy="361.6" rx="5.7" ry="2.7" fill="#20c8e8" filter="url(#b1)" transform="rotate(-14 265.3 361.6)"/>
<ellipse cx="265.3" cy="361.6" rx="5.2" ry="2.3" fill="#40e040" filter="url(#b1)" transform="rotate(-14 265.3 361.6)"/>
<ellipse cx="266.3" cy="361.6" rx="2.8" ry="1.5" fill="#e8e828" filter="url(#b1)" transform="rotate(-14 266.3 361.6)"/>
<ellipse cx="266.7" cy="361.7" rx="1.5" ry="1.0" fill="#f03010" filter="url(#b05)"/>
<rect x="347.3" y="336.6" width="26.1" height="46.8" fill="none" stroke="#6f8080" stroke-width="1.0"/>
<rect x="321.3" y="335.6" width="52.9" height="49.05" fill="none" stroke="#111" stroke-width="1.6" rx="0.6"/>
<line x1="319.7" y1="336.6" x2="321.3" y2="336.6" stroke="#000" stroke-width="0.7"/>
<line x1="319.7" y1="338.22" x2="321.3" y2="338.22" stroke="#000" stroke-width="0.7"/>
<line x1="319.7" y1="340.65" x2="321.3" y2="340.65" stroke="#000" stroke-width="0.7"/>
<line x1="319.7" y1="341.9" x2="321.3" y2="341.9" stroke="#000" stroke-width="0.7"/>
<line x1="319.7" y1="344.04" x2="321.3" y2="344.04" stroke="#000" stroke-width="0.7"/>
<line x1="319.7" y1="346.35" x2="321.3" y2="346.35" stroke="#000" stroke-width="0.7"/>
<line x1="319.7" y1="348.32" x2="321.3" y2="348.32" stroke="#000" stroke-width="0.7"/>
<line x1="319.7" y1="350.03" x2="321.3" y2="350.03" stroke="#000" stroke-width="0.7"/>
<line x1="319.7" y1="352.12" x2="321.3" y2="352.12" stroke="#000" stroke-width="0.7"/>
<line x1="319.7" y1="354.44" x2="321.3" y2="354.44" stroke="#000" stroke-width="0.7"/>
<line x1="319.7" y1="355.73" x2="321.3" y2="355.73" stroke="#000" stroke-width="0.7"/>
<line x1="319.7" y1="357.42" x2="321.3" y2="357.42" stroke="#000" stroke-width="0.7"/>
<line x1="319.7" y1="358.75" x2="321.3" y2="358.75" stroke="#000" stroke-width="0.7"/>
<line x1="319.7" y1="361.16" x2="321.3" y2="361.16" stroke="#000" stroke-width="0.7"/>
<line x1="319.7" y1="363.01" x2="321.3" y2="363.01" stroke="#000" stroke-width="0.7"/>
<line x1="319.7" y1="365.34" x2="321.3" y2="365.34" stroke="#000" stroke-width="0.7"/>
<line x1="319.7" y1="367.26" x2="321.3" y2="367.26" stroke="#000" stroke-width="0.7"/>
<line x1="319.7" y1="369.49" x2="321.3" y2="369.49" stroke="#000" stroke-width="0.7"/>
<line x1="319.7" y1="371.11" x2="321.3" y2="371.11" stroke="#000" stroke-width="0.7"/>
<line x1="319.7" y1="373.28" x2="321.3" y2="373.28" stroke="#000" stroke-width="0.7"/>
<line x1="319.7" y1="374.79" x2="321.3" y2="374.79" stroke="#000" stroke-width="0.7"/>
<line x1="319.7" y1="377.39" x2="321.3" y2="377.39" stroke="#000" stroke-width="0.7"/>
<line x1="319.7" y1="378.97" x2="321.3" y2="378.97" stroke="#000" stroke-width="0.7"/>
<line x1="319.7" y1="380.75" x2="321.3" y2="380.75" stroke="#000" stroke-width="0.7"/>
<line x1="319.7" y1="382.03" x2="321.3" y2="382.03" stroke="#000" stroke-width="0.7"/>
<line x1="319.7" y1="383.31" x2="321.3" y2="383.31" stroke="#000" stroke-width="0.7"/>
<line x1="319.7" y1="384.63" x2="321.3" y2="384.63" stroke="#000" stroke-width="0.7"/>
<line x1="322.3" y1="384.65" x2="322.3" y2="386.25" stroke="#000" stroke-width="0.7"/>
<line x1="324.61" y1="384.65" x2="324.61" y2="386.25" stroke="#000" stroke-width="0.7"/>
<line x1="325.81" y1="384.65" x2="325.81" y2="386.25" stroke="#000" stroke-width="0.7"/>
<line x1="327.64" y1="384.65" x2="327.64" y2="386.25" stroke="#000" stroke-width="0.7"/>
<line x1="328.87" y1="384.65" x2="328.87" y2="386.25" stroke="#000" stroke-width="0.7"/>
<line x1="330.76" y1="384.65" x2="330.76" y2="386.25" stroke="#000" stroke-width="0.7"/>
<line x1="332.64" y1="384.65" x2="332.64" y2="386.25" stroke="#000" stroke-width="0.7"/>
<line x1="335.1" y1="384.65" x2="335.1" y2="386.25" stroke="#000" stroke-width="0.7"/>
<line x1="337.16" y1="384.65" x2="337.16" y2="386.25" stroke="#000" stroke-width="0.7"/>
<line x1="338.5" y1="384.65" x2="338.5" y2="386.25" stroke="#000" stroke-width="0.7"/>
<line x1="340.53" y1="384.65" x2="340.53" y2="386.25" stroke="#000" stroke-width="0.7"/>
<line x1="342.54" y1="384.65" x2="342.54" y2="386.25" stroke="#000" stroke-width="0.7"/>
<line x1="344.28" y1="384.65" x2="344.28" y2="386.25" stroke="#000" stroke-width="0.7"/>
<line x1="345.55" y1="384.65" x2="345.55" y2="386.25" stroke="#000" stroke-width="0.7"/>
<line x1="347.1" y1="384.65" x2="347.1" y2="386.25" stroke="#000" stroke-width="0.7"/>
<line x1="349.5" y1="384.65" x2="349.5" y2="386.25" stroke="#000" stroke-width="0.7"/>
<line x1="350.95" y1="384.65" x2="350.95" y2="386.25" stroke="#000" stroke-width="0.7"/>
<line x1="353.3" y1="384.65" x2="353.3" y2="386.25" stroke="#000" stroke-width="0.7"/>
<line x1="354.81" y1="384.65" x2="354.81" y2="386.25" stroke="#000" stroke-width="0.7"/>
<line x1="356.08" y1="384.65" x2="356.08" y2="386.25" stroke="#000" stroke-width="0.7"/>
<line x1="358.16" y1="384.65" x2="358.16" y2="386.25" stroke="#000" stroke-width="0.7"/>
<line x1="360.74" y1="384.65" x2="360.74" y2="386.25" stroke="#000" stroke-width="0.7"/>
<line x1="363.07" y1="384.65" x2="363.07" y2="386.25" stroke="#000" stroke-width="0.7"/>
<line x1="364.54" y1="384.65" x2="364.54" y2="386.25" stroke="#000" stroke-width="0.7"/>
<line x1="366.5" y1="384.65" x2="366.5" y2="386.25" stroke="#000" stroke-width="0.7"/>
<line x1="368.79" y1="384.65" x2="368.79" y2="386.25" stroke="#000" stroke-width="0.7"/>
<line x1="370.63" y1="384.65" x2="370.63" y2="386.25" stroke="#000" stroke-width="0.7"/>
<line x1="372.47" y1="384.65" x2="372.47" y2="386.25" stroke="#000" stroke-width="0.7"/>
<line x1="373.75" y1="384.65" x2="373.75" y2="386.25" stroke="#000" stroke-width="0.7"/>
<text x="315.6" y="341.7" font-size="5.8" text-anchor="end" stroke="#000" stroke-width="0.12" textLength="6.3" lengthAdjust="spacingAndGlyphs">10</text>
<text x="315.9" y="339.7" font-size="3.8">5</text>
<text x="315.6" y="352.9" font-size="5.8" text-anchor="end" stroke="#000" stroke-width="0.12" textLength="6.3" lengthAdjust="spacingAndGlyphs">10</text>
<text x="315.9" y="350.9" font-size="3.8">4</text>
<text x="315.6" y="366.6" font-size="5.8" text-anchor="end" stroke="#000" stroke-width="0.12" textLength="6.3" lengthAdjust="spacingAndGlyphs">10</text>
<text x="315.9" y="364.6" font-size="3.8">3</text>
<text x="317.8" y="375.2" font-size="5.8" text-anchor="end" stroke="#000" stroke-width="0.12">0</text>
<text x="315.6" y="383.1" font-size="5.8" text-anchor="end" stroke="#000" stroke-width="0.12" textLength="8.6" lengthAdjust="spacingAndGlyphs">-10</text>
<text x="315.9" y="381.1" font-size="3.8">3</text>
<text x="332.8" y="393.6" font-size="5.8" text-anchor="middle" stroke="#000" stroke-width="0.12">0</text>
<text x="343.7" y="393.6" font-size="5.8" stroke="#000" stroke-width="0.12" textLength="6.3" lengthAdjust="spacingAndGlyphs">10</text>
<text x="350.4" y="391.6" font-size="3.8">3</text>
<text x="355.3" y="393.6" font-size="5.8" stroke="#000" stroke-width="0.12" textLength="6.3" lengthAdjust="spacingAndGlyphs">10</text>
<text x="362" y="391.6" font-size="3.8">4</text>
<text x="365.3" y="393.6" font-size="5.8" stroke="#000" stroke-width="0.12" textLength="6.3" lengthAdjust="spacingAndGlyphs">10</text>
<text x="372" y="391.6" font-size="3.8">5</text>
<text x="355" y="346.5" font-size="6.3" stroke="#000" stroke-width="0.08">10.8</text>
<circle cx="340.84" cy="368.04" r="0.45" fill="#3048f0" opacity="0.27"/>
<circle cx="340.47" cy="364.31" r="0.45" fill="#3048f0" opacity="0.45"/>
<circle cx="327.01" cy="366.41" r="0.45" fill="#3048f0" opacity="0.42"/>
<circle cx="350.37" cy="357.39" r="0.45" fill="#3048f0" opacity="0.31"/>
<circle cx="331.14" cy="356.22" r="0.45" fill="#3048f0" opacity="0.33"/>
<circle cx="341.06" cy="361.69" r="0.45" fill="#3048f0" opacity="0.35"/>
<circle cx="340.92" cy="355.27" r="0.45" fill="#3048f0" opacity="0.21"/>
<circle cx="339.88" cy="361.52" r="0.45" fill="#3048f0" opacity="0.29"/>
<circle cx="338.97" cy="362.38" r="0.45" fill="#3048f0" opacity="0.37"/>
<circle cx="334.43" cy="368.18" r="0.45" fill="#3048f0" opacity="0.23"/>
<circle cx="343.95" cy="364.59" r="0.45" fill="#3048f0" opacity="0.35"/>
<circle cx="349.86" cy="353.85" r="0.45" fill="#3048f0" opacity="0.28"/>
<circle cx="328.6" cy="364.45" r="0.45" fill="#3048f0" opacity="0.42"/>
<circle cx="330.92" cy="363.61" r="0.45" fill="#3048f0" opacity="0.4"/>
<circle cx="336.41" cy="355.75" r="0.45" fill="#3048f0" opacity="0.49"/>
<circle cx="346.33" cy="360.91" r="0.45" fill="#3048f0" opacity="0.46"/>
<circle cx="342.24" cy="366.96" r="0.45" fill="#3048f0" opacity="0.43"/>
<circle cx="353.01" cy="353.67" r="0.45" fill="#3048f0" opacity="0.41"/>
<circle cx="331.25" cy="367.29" r="0.45" fill="#3048f0" opacity="0.43"/>
<circle cx="332.24" cy="365.07" r="0.45" fill="#3048f0" opacity="0.31"/>
<circle cx="342.89" cy="360.82" r="0.45" fill="#3048f0" opacity="0.26"/>
<circle cx="339.2" cy="363.61" r="0.45" fill="#3048f0" opacity="0.34"/>
<circle cx="329.2" cy="359.02" r="0.45" fill="#3048f0" opacity="0.31"/>
<circle cx="328.6" cy="371.94" r="0.45" fill="#3048f0" opacity="0.22"/>
<circle cx="346.57" cy="357.48" r="0.45" fill="#3048f0" opacity="0.43"/>
<circle cx="346.67" cy="353.86" r="0.45" fill="#3048f0" opacity="0.5"/>
<circle cx="352.03" cy="365.1" r="0.45" fill="#3048f0" opacity="0.19"/>
<circle cx="335.53" cy="360.2" r="0.45" fill="#3048f0" opacity="0.37"/>
<circle cx="329.75" cy="366.7" r="0.45" fill="#3048f0" opacity="0.33"/>
<circle cx="345.27" cy="360.07" r="0.45" fill="#3048f0" opacity="0.21"/>
<circle cx="339.83" cy="361.87" r="0.45" fill="#3048f0" opacity="0.25"/>
<circle cx="354.03" cy="358.92" r="0.45" fill="#3048f0" opacity="0.4"/>
<circle cx="340.09" cy="354.68" r="0.45" fill="#3048f0" opacity="0.34"/>
<circle cx="338.1" cy="360.21" r="0.45" fill="#3048f0" opacity="0.18"/>
<circle cx="335.91" cy="365.29" r="0.45" fill="#3048f0" opacity="0.35"/>
<circle cx="347.29" cy="360.33" r="0.45" fill="#3048f0" opacity="0.48"/>
<circle cx="342.77" cy="362.46" r="0.45" fill="#3048f0" opacity="0.34"/>
<circle cx="343.22" cy="361.43" r="0.45" fill="#3048f0" opacity="0.4"/>
<circle cx="333.18" cy="360.77" r="0.45" fill="#3048f0" opacity="0.41"/>
<circle cx="347.67" cy="358.52" r="0.45" fill="#3048f0" opacity="0.16"/>
<circle cx="349.85" cy="348.3" r="0.45" fill="#3048f0" opacity="0.23"/>
<circle cx="336.05" cy="360.58" r="0.45" fill="#3048f0" opacity="0.45"/>
<circle cx="346.25" cy="358.98" r="0.45" fill="#3048f0" opacity="0.39"/>
<circle cx="330.6" cy="365.14" r="0.45" fill="#3048f0" opacity="0.18"/>
<circle cx="335.48" cy="363.51" r="0.45" fill="#3048f0" opacity="0.39"/>
<circle cx="336.51" cy="364.47" r="0.45" fill="#3048f0" opacity="0.39"/>
<circle cx="347" cy="357.13" r="0.45" fill="#3048f0" opacity="0.45"/>
<circle cx="335.77" cy="369.7" r="0.45" fill="#3048f0" opacity="0.38"/>
<circle cx="328.6" cy="374.6" r="0.45" fill="#3048f0" opacity="0.36"/>
<circle cx="340.58" cy="362.68" r="0.45" fill="#3048f0" opacity="0.22"/>
<circle cx="334.97" cy="370.78" r="0.45" fill="#3048f0" opacity="0.46"/>
<circle cx="331.98" cy="361.09" r="0.45" fill="#3048f0" opacity="0.35"/>
<circle cx="334.77" cy="370.56" r="0.45" fill="#3048f0" opacity="0.37"/>
<circle cx="337.46" cy="358.03" r="0.45" fill="#3048f0" opacity="0.44"/>
<circle cx="343.87" cy="356.29" r="0.45" fill="#3048f0" opacity="0.33"/>
<circle cx="346.75" cy="363.04" r="0.45" fill="#3048f0" opacity="0.19"/>
<circle cx="342.96" cy="366.34" r="0.45" fill="#3048f0" opacity="0.15"/>
<circle cx="341.36" cy="351.89" r="0.45" fill="#3048f0" opacity="0.5"/>
<circle cx="340.19" cy="364.98" r="0.45" fill="#3048f0" opacity="0.27"/>
<circle cx="344.01" cy="358.3" r="0.45" fill="#3048f0" opacity="0.49"/>
<circle cx="324.86" cy="366.41" r="0.45" fill="#3048f0" opacity="0.2"/>
<circle cx="342.92" cy="363.47" r="0.45" fill="#3048f0" opacity="0.25"/>
<circle cx="344.01" cy="359.53" r="0.45" fill="#3048f0" opacity="0.17"/>
<circle cx="334.84" cy="372.76" r="0.45" fill="#3048f0" opacity="0.45"/>
<circle cx="336.41" cy="368.77" r="0.45" fill="#3048f0" opacity="0.41"/>
<circle cx="335.84" cy="363.67" r="0.45" fill="#3048f0" opacity="0.36"/>
<circle cx="331.33" cy="362.53" r="0.45" fill="#3048f0" opacity="0.27"/>
<circle cx="331.85" cy="360.64" r="0.45" fill="#3048f0" opacity="0.28"/>
<circle cx="339.66" cy="360.53" r="0.45" fill="#3048f0" opacity="0.26"/>
<circle cx="344.35" cy="354.3" r="0.45" fill="#3048f0" opacity="0.32"/>
<circle cx="348.13" cy="353.24" r="0.45" fill="#3048f0" opacity="0.36"/>
<circle cx="340.64" cy="357.18" r="0.45" fill="#3048f0" opacity="0.22"/>
<circle cx="342" cy="364.36" r="0.45" fill="#3048f0" opacity="0.18"/>
<circle cx="339.8" cy="360.14" r="0.45" fill="#3048f0" opacity="0.25"/>
<circle cx="352.01" cy="353.1" r="0.45" fill="#3048f0" opacity="0.39"/>
<circle cx="341.57" cy="354.32" r="0.45" fill="#3048f0" opacity="0.31"/>
<circle cx="358.89" cy="359.18" r="0.45" fill="#3048f0" opacity="0.45"/>
<circle cx="333.83" cy="364.55" r="0.45" fill="#3048f0" opacity="0.19"/>
<circle cx="342.4" cy="355.77" r="0.45" fill="#3048f0" opacity="0.29"/>
<circle cx="339.85" cy="360.15" r="0.45" fill="#3048f0" opacity="0.25"/>
<circle cx="341.13" cy="356.15" r="0.45" fill="#3048f0" opacity="0.25"/>
<circle cx="341.19" cy="368.51" r="0.45" fill="#3048f0" opacity="0.45"/>
<circle cx="336.17" cy="357.32" r="0.45" fill="#3048f0" opacity="0.27"/>
<circle cx="343.08" cy="363.39" r="0.45" fill="#3048f0" opacity="0.5"/>
<circle cx="341.36" cy="360.46" r="0.45" fill="#3048f0" opacity="0.27"/>
<circle cx="337.19" cy="368.64" r="0.45" fill="#3048f0" opacity="0.18"/>
<circle cx="328.47" cy="358.98" r="0.45" fill="#3048f0" opacity="0.47"/>
<circle cx="332.73" cy="364.14" r="0.45" fill="#3048f0" opacity="0.21"/>
<circle cx="335.58" cy="363.48" r="0.45" fill="#3048f0" opacity="0.31"/>
<circle cx="341.41" cy="360.27" r="0.45" fill="#3048f0" opacity="0.5"/>
<circle cx="334.13" cy="361.85" r="0.45" fill="#3048f0" opacity="0.16"/>
<circle cx="345.42" cy="359.44" r="0.45" fill="#3048f0" opacity="0.43"/>
<circle cx="337.47" cy="367.26" r="0.45" fill="#3048f0" opacity="0.34"/>
<circle cx="341.55" cy="365.49" r="0.45" fill="#3048f0" opacity="0.42"/>
<circle cx="345.57" cy="347.97" r="0.45" fill="#3048f0" opacity="0.31"/>
<circle cx="343.6" cy="359.79" r="0.45" fill="#3048f0" opacity="0.3"/>
<circle cx="337.86" cy="360.94" r="0.45" fill="#3048f0" opacity="0.31"/>
<circle cx="347.95" cy="360.52" r="0.45" fill="#3048f0" opacity="0.36"/>
<circle cx="351.05" cy="356.85" r="0.45" fill="#3048f0" opacity="0.45"/>
<circle cx="332.29" cy="373.68" r="0.45" fill="#3048f0" opacity="0.23"/>
<circle cx="343.59" cy="363.36" r="0.45" fill="#3048f0" opacity="0.35"/>
<circle cx="341.3" cy="363.46" r="0.45" fill="#3048f0" opacity="0.46"/>
<circle cx="348.81" cy="358.17" r="0.45" fill="#3048f0" opacity="0.24"/>
<circle cx="354.46" cy="359.22" r="0.45" fill="#3048f0" opacity="0.38"/>
<circle cx="346.25" cy="358.94" r="0.45" fill="#3048f0" opacity="0.32"/>
<circle cx="340.46" cy="357.28" r="0.45" fill="#3048f0" opacity="0.37"/>
<circle cx="347.04" cy="356.95" r="0.45" fill="#3048f0" opacity="0.35"/>
<circle cx="330.9" cy="364.87" r="0.45" fill="#3048f0" opacity="0.38"/>
<circle cx="347.66" cy="359.81" r="0.45" fill="#3048f0" opacity="0.21"/>
<circle cx="334.21" cy="362.62" r="0.45" fill="#3048f0" opacity="0.27"/>
<circle cx="332.8" cy="368.8" r="0.45" fill="#3048f0" opacity="0.45"/>
<circle cx="362.65" cy="349.39" r="0.45" fill="#3048f0" opacity="0.43"/>
<circle cx="348.14" cy="357.15" r="0.45" fill="#3048f0" opacity="0.47"/>
<circle cx="343.03" cy="355.44" r="0.45" fill="#3048f0" opacity="0.35"/>
<circle cx="342.33" cy="353.15" r="0.45" fill="#3048f0" opacity="0.49"/>
<circle cx="344.87" cy="354.94" r="0.45" fill="#3048f0" opacity="0.26"/>
<circle cx="350.65" cy="361.05" r="0.45" fill="#3048f0" opacity="0.41"/>
<circle cx="343.81" cy="352.56" r="0.45" fill="#3048f0" opacity="0.26"/>
<circle cx="343.75" cy="358.88" r="0.45" fill="#3048f0" opacity="0.3"/>
<circle cx="336.74" cy="365.35" r="0.45" fill="#3048f0" opacity="0.5"/>
<circle cx="352.03" cy="359.4" r="0.45" fill="#3048f0" opacity="0.27"/>
<circle cx="348.94" cy="363.59" r="0.45" fill="#3048f0" opacity="0.33"/>
<circle cx="335.92" cy="361.25" r="0.45" fill="#3048f0" opacity="0.32"/>
<circle cx="344.19" cy="358.33" r="0.45" fill="#3048f0" opacity="0.26"/>
<circle cx="341.62" cy="362.1" r="0.45" fill="#3048f0" opacity="0.31"/>
<circle cx="346.39" cy="357.5" r="0.45" fill="#3048f0" opacity="0.38"/>
<circle cx="339.55" cy="356.55" r="0.45" fill="#3048f0" opacity="0.27"/>
<circle cx="341.16" cy="359.93" r="0.45" fill="#3048f0" opacity="0.35"/>
<circle cx="343.11" cy="358.5" r="0.45" fill="#3048f0" opacity="0.45"/>
<circle cx="348.31" cy="355.21" r="0.45" fill="#3048f0" opacity="0.25"/>
<circle cx="335.81" cy="361.26" r="0.45" fill="#3048f0" opacity="0.16"/>
<circle cx="348.35" cy="352.76" r="0.45" fill="#3048f0" opacity="0.35"/>
<circle cx="340.95" cy="362.64" r="0.45" fill="#3048f0" opacity="0.27"/>
<circle cx="346.64" cy="371.56" r="0.45" fill="#3048f0" opacity="0.36"/>
<circle cx="342.52" cy="358.64" r="0.45" fill="#3048f0" opacity="0.21"/>
<circle cx="338.72" cy="356.11" r="0.45" fill="#3048f0" opacity="0.35"/>
<circle cx="334.72" cy="358.13" r="0.45" fill="#3048f0" opacity="0.37"/>
<circle cx="346.94" cy="362.84" r="0.45" fill="#3048f0" opacity="0.43"/>
<circle cx="336" cy="369.91" r="0.45" fill="#3048f0" opacity="0.32"/>
<circle cx="344.84" cy="367.15" r="0.45" fill="#3048f0" opacity="0.33"/>
<circle cx="344.33" cy="359.91" r="0.45" fill="#3048f0" opacity="0.45"/>
<circle cx="334.55" cy="362.56" r="0.45" fill="#3048f0" opacity="0.49"/>
<circle cx="345.49" cy="359.77" r="0.45" fill="#3048f0" opacity="0.5"/>
<circle cx="338.29" cy="358.28" r="0.45" fill="#3048f0" opacity="0.17"/>
<circle cx="338.38" cy="361.05" r="0.45" fill="#3048f0" opacity="0.32"/>
<circle cx="338.21" cy="359.76" r="0.45" fill="#3048f0" opacity="0.36"/>
<circle cx="346.09" cy="354.8" r="0.45" fill="#3048f0" opacity="0.34"/>
<circle cx="330.46" cy="369.46" r="0.45" fill="#3048f0" opacity="0.46"/>
<circle cx="333.13" cy="357.12" r="0.45" fill="#3048f0" opacity="0.37"/>
<circle cx="351.02" cy="356.86" r="0.45" fill="#3048f0" opacity="0.18"/>
<circle cx="340.75" cy="368.27" r="0.45" fill="#3048f0" opacity="0.47"/>
<circle cx="335.23" cy="366.26" r="0.45" fill="#3048f0" opacity="0.42"/>
<circle cx="348.52" cy="359.27" r="0.45" fill="#3048f0" opacity="0.25"/>
<circle cx="348.97" cy="362.57" r="0.45" fill="#3048f0" opacity="0.43"/>
<circle cx="334.42" cy="365.29" r="0.45" fill="#3048f0" opacity="0.29"/>
<circle cx="346.7" cy="361.14" r="0.45" fill="#3048f0" opacity="0.25"/>
<circle cx="338.81" cy="361.63" r="0.45" fill="#3048f0" opacity="0.31"/>
<circle cx="338.97" cy="357.4" r="0.45" fill="#3048f0" opacity="0.38"/>
<circle cx="341.13" cy="361.53" r="0.45" fill="#3048f0" opacity="0.28"/>
<circle cx="352.51" cy="350.09" r="0.45" fill="#3048f0" opacity="0.47"/>
<circle cx="343.39" cy="362.72" r="0.45" fill="#3048f0" opacity="0.41"/>
<circle cx="352.43" cy="351.82" r="0.45" fill="#3048f0" opacity="0.45"/>
<circle cx="337.69" cy="354.91" r="0.45" fill="#3048f0" opacity="0.39"/>
<circle cx="348.42" cy="358.51" r="0.45" fill="#3048f0" opacity="0.18"/>
<circle cx="332.04" cy="364.72" r="0.45" fill="#3048f0" opacity="0.36"/>
<circle cx="355.8" cy="354.76" r="0.45" fill="#3048f0" opacity="0.44"/>
<circle cx="337.39" cy="363.81" r="0.45" fill="#3048f0" opacity="0.23"/>
<circle cx="348.48" cy="364.38" r="0.45" fill="#3048f0" opacity="0.46"/>
<circle cx="348.82" cy="354.62" r="0.45" fill="#3048f0" opacity="0.32"/>
<circle cx="324.97" cy="370.05" r="0.45" fill="#3048f0" opacity="0.34"/>
<circle cx="345.32" cy="357.42" r="0.45" fill="#3048f0" opacity="0.29"/>
<circle cx="342.33" cy="359.77" r="0.45" fill="#3048f0" opacity="0.31"/>
<circle cx="344.76" cy="366.09" r="0.45" fill="#3048f0" opacity="0.5"/>
<circle cx="335.6" cy="368.19" r="0.45" fill="#3048f0" opacity="0.24"/>
<circle cx="347.99" cy="365.19" r="0.45" fill="#3048f0" opacity="0.37"/>
<circle cx="343.95" cy="357.41" r="0.45" fill="#3048f0" opacity="0.22"/>
<circle cx="347.66" cy="361.61" r="0.45" fill="#3048f0" opacity="0.35"/>
<circle cx="331.19" cy="366.95" r="0.45" fill="#3048f0" opacity="0.24"/>
<circle cx="325.6" cy="368.33" r="0.45" fill="#3048f0" opacity="0.31"/>
<circle cx="333.8" cy="366.29" r="0.45" fill="#3048f0" opacity="0.35"/>
<circle cx="349.53" cy="365.06" r="0.45" fill="#3048f0" opacity="0.45"/>
<circle cx="343.44" cy="358.89" r="0.45" fill="#3048f0" opacity="0.36"/>
<circle cx="338.18" cy="365.22" r="0.45" fill="#3048f0" opacity="0.18"/>
<circle cx="337.78" cy="363.35" r="0.45" fill="#3048f0" opacity="0.28"/>
<circle cx="349.93" cy="353.94" r="0.45" fill="#3048f0" opacity="0.47"/>
<circle cx="332.91" cy="361.73" r="0.45" fill="#3048f0" opacity="0.34"/>
<circle cx="351.91" cy="353.55" r="0.45" fill="#3048f0" opacity="0.49"/>
<circle cx="339.07" cy="361.93" r="0.45" fill="#3048f0" opacity="0.34"/>
<circle cx="345.92" cy="354.14" r="0.45" fill="#3048f0" opacity="0.4"/>
<circle cx="342.02" cy="361.5" r="0.45" fill="#3048f0" opacity="0.39"/>
<circle cx="337.14" cy="360.19" r="0.45" fill="#3048f0" opacity="0.2"/>
<circle cx="339.48" cy="360.17" r="0.45" fill="#3048f0" opacity="0.2"/>
<circle cx="340.43" cy="356.75" r="0.45" fill="#3048f0" opacity="0.23"/>
<circle cx="337.57" cy="363.89" r="0.45" fill="#3048f0" opacity="0.18"/>
<circle cx="336.94" cy="363.32" r="0.45" fill="#3048f0" opacity="0.26"/>
<circle cx="352.05" cy="360.87" r="0.45" fill="#3048f0" opacity="0.43"/>
<circle cx="335.62" cy="365.4" r="0.45" fill="#3048f0" opacity="0.29"/>
<circle cx="340.66" cy="361.73" r="0.45" fill="#3048f0" opacity="0.43"/>
<circle cx="339.44" cy="360.35" r="0.45" fill="#3048f0" opacity="0.4"/>
<circle cx="330.91" cy="363.6" r="0.45" fill="#3048f0" opacity="0.49"/>
<circle cx="345.78" cy="357.88" r="0.45" fill="#3048f0" opacity="0.23"/>
<circle cx="340.14" cy="365.87" r="0.45" fill="#3048f0" opacity="0.49"/>
<circle cx="330.83" cy="362.79" r="0.45" fill="#3048f0" opacity="0.43"/>
<circle cx="343.53" cy="363.66" r="0.45" fill="#3048f0" opacity="0.43"/>
<circle cx="337.43" cy="364.47" r="0.45" fill="#3048f0" opacity="0.26"/>
<circle cx="340.88" cy="370.44" r="0.45" fill="#3048f0" opacity="0.3"/>
<circle cx="338.23" cy="362.02" r="0.45" fill="#3048f0" opacity="0.3"/>
<circle cx="337.47" cy="360.9" r="0.45" fill="#3048f0" opacity="0.38"/>
<circle cx="337.25" cy="362.77" r="0.45" fill="#3048f0" opacity="0.41"/>
<circle cx="328.46" cy="361.36" r="0.45" fill="#3048f0" opacity="0.33"/>
<circle cx="344.53" cy="356.05" r="0.45" fill="#3048f0" opacity="0.17"/>
<circle cx="357.07" cy="353.52" r="0.45" fill="#3048f0" opacity="0.39"/>
<circle cx="343.89" cy="361.84" r="0.45" fill="#3048f0" opacity="0.42"/>
<circle cx="356.02" cy="355.29" r="0.45" fill="#3048f0" opacity="0.33"/>
<circle cx="346.2" cy="359.08" r="0.45" fill="#3048f0" opacity="0.48"/>
<circle cx="328.13" cy="366.43" r="0.45" fill="#3048f0" opacity="0.32"/>
<circle cx="346.27" cy="357.01" r="0.45" fill="#3048f0" opacity="0.42"/>
<circle cx="342.6" cy="358.88" r="0.45" fill="#3048f0" opacity="0.42"/>
<circle cx="333.14" cy="367.61" r="0.45" fill="#3048f0" opacity="0.3"/>
<circle cx="343.92" cy="364.1" r="0.45" fill="#3048f0" opacity="0.45"/>
<circle cx="353.2" cy="358.44" r="0.45" fill="#3048f0" opacity="0.48"/>
<circle cx="333.99" cy="363.1" r="0.45" fill="#3048f0" opacity="0.17"/>
<circle cx="341.76" cy="364.65" r="0.45" fill="#3048f0" opacity="0.33"/>
<circle cx="347.97" cy="354.08" r="0.45" fill="#3048f0" opacity="0.29"/>
<circle cx="334.96" cy="361.81" r="0.45" fill="#3048f0" opacity="0.35"/>
<circle cx="337.82" cy="364.87" r="0.45" fill="#3048f0" opacity="0.24"/>
<circle cx="350.42" cy="358.8" r="0.45" fill="#3048f0" opacity="0.46"/>
<circle cx="339.46" cy="362.43" r="0.45" fill="#3048f0" opacity="0.44"/>
<circle cx="345.83" cy="364.57" r="0.45" fill="#3048f0" opacity="0.47"/>
<circle cx="338.24" cy="361.86" r="0.45" fill="#3048f0" opacity="0.21"/>
<circle cx="339.11" cy="355.92" r="0.45" fill="#3048f0" opacity="0.34"/>
<circle cx="339.83" cy="363.47" r="0.45" fill="#3048f0" opacity="0.29"/>
<circle cx="349.73" cy="357.55" r="0.45" fill="#3048f0" opacity="0.26"/>
<circle cx="335.26" cy="360.82" r="0.45" fill="#3048f0" opacity="0.24"/>
<circle cx="347.63" cy="356.71" r="0.45" fill="#3048f0" opacity="0.23"/>
<circle cx="336" cy="360.35" r="0.45" fill="#3048f0" opacity="0.48"/>
<circle cx="328.76" cy="368.45" r="0.45" fill="#3048f0" opacity="0.35"/>
<circle cx="336.26" cy="362.69" r="0.45" fill="#3048f0" opacity="0.31"/>
<circle cx="354.93" cy="361.33" r="0.45" fill="#3048f0" opacity="0.47"/>
<circle cx="341.58" cy="358.58" r="0.45" fill="#3048f0" opacity="0.47"/>
<circle cx="334.81" cy="367.25" r="0.45" fill="#3048f0" opacity="0.42"/>
<circle cx="338" cy="363.84" r="0.45" fill="#3048f0" opacity="0.44"/>
<circle cx="340.56" cy="365.58" r="0.45" fill="#3048f0" opacity="0.3"/>
<circle cx="346.71" cy="350.85" r="0.45" fill="#3048f0" opacity="0.38"/>
<circle cx="343.23" cy="354.81" r="0.45" fill="#3048f0" opacity="0.37"/>
<circle cx="341.57" cy="363.83" r="0.45" fill="#3048f0" opacity="0.22"/>
<circle cx="349.95" cy="361.27" r="0.45" fill="#3048f0" opacity="0.15"/>
<circle cx="348.14" cy="351.83" r="0.45" fill="#3048f0" opacity="0.2"/>
<circle cx="333.11" cy="366.11" r="0.45" fill="#3048f0" opacity="0.3"/>
<circle cx="334.1" cy="365.7" r="0.45" fill="#3048f0" opacity="0.35"/>
<circle cx="336.56" cy="366.58" r="0.45" fill="#3048f0" opacity="0.44"/>
<circle cx="338.52" cy="364.6" r="0.45" fill="#3048f0" opacity="0.26"/>
<circle cx="332.95" cy="365.46" r="0.45" fill="#3048f0" opacity="0.37"/>
<circle cx="340.86" cy="355.66" r="0.45" fill="#3048f0" opacity="0.4"/>
<circle cx="324.07" cy="371.53" r="0.45" fill="#3048f0" opacity="0.18"/>
<circle cx="350.86" cy="364.6" r="0.45" fill="#3048f0" opacity="0.32"/>
<circle cx="330.37" cy="371.89" r="0.45" fill="#3048f0" opacity="0.18"/>
<circle cx="335.75" cy="360.15" r="0.45" fill="#3048f0" opacity="0.46"/>
<circle cx="345.47" cy="362.91" r="0.45" fill="#3048f0" opacity="0.47"/>
<circle cx="343.05" cy="356.69" r="0.45" fill="#3048f0" opacity="0.41"/>
<path d="M326.8,366 C329,362 333,359 338,356.5 C342,354.5 345,352.5 348.5,351.5 C353,351.5 357,354 358.5,359.5 C359,363.5 355,365.5 351,366.5 C347,367.5 343,369 337,369.3 C331,369.2 327.5,368.5 326.8,366 Z" fill="#2444f2" opacity="0.8" filter="url(#b2)"/>
<ellipse cx="340.5" cy="362.3" rx="9.5" ry="5.2" fill="#1436f4" opacity="0.9" filter="url(#b1)" transform="rotate(-26 340.5 362.3)"/>
<circle cx="339.52" cy="354.6" r="0.45" fill="#fff" opacity="0.16"/>
<circle cx="334.7" cy="364.68" r="0.45" fill="#fff" opacity="0.19"/>
<circle cx="338.88" cy="363.32" r="0.45" fill="#fff" opacity="0.29"/>
<circle cx="356.09" cy="359.81" r="0.45" fill="#fff" opacity="0.25"/>
<circle cx="346.01" cy="354.9" r="0.45" fill="#fff" opacity="0.42"/>
<circle cx="338.59" cy="357.99" r="0.45" fill="#fff" opacity="0.34"/>
<circle cx="331.72" cy="362.89" r="0.45" fill="#fff" opacity="0.4"/>
<circle cx="337.5" cy="368.04" r="0.45" fill="#fff" opacity="0.29"/>
<circle cx="351.01" cy="359.44" r="0.45" fill="#fff" opacity="0.24"/>
<circle cx="335.35" cy="351.14" r="0.45" fill="#fff" opacity="0.17"/>
<circle cx="357.68" cy="360.62" r="0.45" fill="#fff" opacity="0.26"/>
<circle cx="354.91" cy="361.9" r="0.45" fill="#fff" opacity="0.44"/>
<circle cx="338.08" cy="354.88" r="0.45" fill="#fff" opacity="0.42"/>
<circle cx="331.99" cy="365.25" r="0.45" fill="#fff" opacity="0.31"/>
<circle cx="357.47" cy="367.99" r="0.45" fill="#fff" opacity="0.33"/>
<circle cx="328.15" cy="351.42" r="0.45" fill="#fff" opacity="0.27"/>
<circle cx="352.41" cy="352.46" r="0.45" fill="#fff" opacity="0.25"/>
<circle cx="329.67" cy="356.58" r="0.45" fill="#fff" opacity="0.1"/>
<circle cx="337.22" cy="360.42" r="0.45" fill="#fff" opacity="0.17"/>
<circle cx="351.4" cy="352" r="0.45" fill="#fff" opacity="0.17"/>
<circle cx="334.98" cy="358.27" r="0.45" fill="#fff" opacity="0.37"/>
<circle cx="337.97" cy="363.51" r="0.45" fill="#fff" opacity="0.42"/>
<circle cx="331.06" cy="366.55" r="0.45" fill="#fff" opacity="0.31"/>
<circle cx="350.16" cy="361.94" r="0.45" fill="#fff" opacity="0.24"/>
<circle cx="329.99" cy="353.59" r="0.45" fill="#fff" opacity="0.16"/>
<circle cx="332.51" cy="353.62" r="0.45" fill="#fff" opacity="0.17"/>
<circle cx="344.39" cy="364.87" r="0.45" fill="#fff" opacity="0.38"/>
<circle cx="353.23" cy="353.11" r="0.45" fill="#fff" opacity="0.39"/>
<circle cx="332.76" cy="352.3" r="0.45" fill="#fff" opacity="0.2"/>
<circle cx="345.16" cy="351.86" r="0.45" fill="#fff" opacity="0.18"/>
<circle cx="339.37" cy="365.8" r="0.45" fill="#fff" opacity="0.24"/>
<circle cx="339.84" cy="357.68" r="0.45" fill="#fff" opacity="0.13"/>
<circle cx="354.27" cy="367.61" r="0.45" fill="#fff" opacity="0.35"/>
<circle cx="339.36" cy="358.99" r="0.45" fill="#fff" opacity="0.21"/>
<circle cx="347.28" cy="362.76" r="0.45" fill="#fff" opacity="0.21"/>
<circle cx="354.1" cy="363.97" r="0.45" fill="#fff" opacity="0.18"/>
<circle cx="352.09" cy="363.14" r="0.45" fill="#fff" opacity="0.19"/>
<circle cx="336.19" cy="364.53" r="0.45" fill="#fff" opacity="0.13"/>
<circle cx="340.57" cy="368.35" r="0.45" fill="#fff" opacity="0.19"/>
<circle cx="342.6" cy="367.33" r="0.45" fill="#fff" opacity="0.41"/>
<circle cx="351.43" cy="360.6" r="0.45" fill="#fff" opacity="0.43"/>
<circle cx="334.96" cy="366.87" r="0.45" fill="#fff" opacity="0.24"/>
<circle cx="347.4" cy="362" r="0.45" fill="#fff" opacity="0.2"/>
<circle cx="348.03" cy="361.88" r="0.45" fill="#fff" opacity="0.45"/>
<circle cx="347.67" cy="358.92" r="0.45" fill="#fff" opacity="0.23"/>
<circle cx="354.51" cy="357.22" r="0.45" fill="#fff" opacity="0.33"/>
<circle cx="348.52" cy="368.36" r="0.45" fill="#fff" opacity="0.17"/>
<circle cx="347.62" cy="354.09" r="0.45" fill="#fff" opacity="0.32"/>
<circle cx="347.37" cy="364.37" r="0.45" fill="#fff" opacity="0.4"/>
<circle cx="334.17" cy="366.49" r="0.45" fill="#fff" opacity="0.22"/>
<circle cx="339.4" cy="353.02" r="0.45" fill="#fff" opacity="0.29"/>
<circle cx="327.04" cy="356.59" r="0.45" fill="#fff" opacity="0.34"/>
<circle cx="350.17" cy="354.01" r="0.45" fill="#fff" opacity="0.37"/>
<circle cx="340.77" cy="354.7" r="0.45" fill="#fff" opacity="0.36"/>
<circle cx="349.91" cy="359.42" r="0.45" fill="#fff" opacity="0.29"/>
<circle cx="346.21" cy="362.37" r="0.45" fill="#fff" opacity="0.37"/>
<circle cx="350.84" cy="354.61" r="0.45" fill="#fff" opacity="0.11"/>
<circle cx="330.26" cy="356.54" r="0.45" fill="#fff" opacity="0.3"/>
<circle cx="356.8" cy="358.5" r="0.45" fill="#fff" opacity="0.23"/>
<circle cx="344.27" cy="368.07" r="0.45" fill="#fff" opacity="0.31"/>
<circle cx="336.15" cy="364.62" r="0.45" fill="#fff" opacity="0.45"/>
<circle cx="351.6" cy="358.17" r="0.45" fill="#fff" opacity="0.16"/>
<circle cx="341.29" cy="353.31" r="0.45" fill="#fff" opacity="0.15"/>
<circle cx="340.84" cy="366.3" r="0.45" fill="#fff" opacity="0.35"/>
<circle cx="339.96" cy="368.18" r="0.45" fill="#fff" opacity="0.16"/>
<circle cx="334.76" cy="355.92" r="0.45" fill="#fff" opacity="0.3"/>
<circle cx="354.58" cy="357.89" r="0.45" fill="#fff" opacity="0.39"/>
<circle cx="356.05" cy="359.63" r="0.45" fill="#fff" opacity="0.41"/>
<circle cx="354.57" cy="359.57" r="0.45" fill="#fff" opacity="0.16"/>
<circle cx="329.32" cy="355.31" r="0.45" fill="#fff" opacity="0.26"/>
<circle cx="327.48" cy="356.94" r="0.45" fill="#fff" opacity="0.27"/>
<circle cx="337.41" cy="364.21" r="0.45" fill="#fff" opacity="0.3"/>
<circle cx="343.52" cy="362.4" r="0.45" fill="#fff" opacity="0.3"/>
<circle cx="339.83" cy="353.99" r="0.45" fill="#fff" opacity="0.31"/>
<circle cx="328.47" cy="351.65" r="0.45" fill="#fff" opacity="0.22"/>
<circle cx="334.13" cy="364.6" r="0.45" fill="#fff" opacity="0.16"/>
<circle cx="340.61" cy="363.52" r="0.45" fill="#fff" opacity="0.25"/>
<circle cx="351.97" cy="353.11" r="0.45" fill="#fff" opacity="0.16"/>
<circle cx="335.54" cy="357.57" r="0.45" fill="#fff" opacity="0.3"/>
<circle cx="333.15" cy="361.06" r="0.45" fill="#fff" opacity="0.35"/>
<circle cx="347.23" cy="365.67" r="0.45" fill="#fff" opacity="0.13"/>
<circle cx="348.01" cy="364.05" r="0.45" fill="#fff" opacity="0.39"/>
<circle cx="331.66" cy="352.56" r="0.45" fill="#fff" opacity="0.37"/>
<circle cx="347.04" cy="354" r="0.45" fill="#fff" opacity="0.4"/>
<circle cx="349.23" cy="362.07" r="0.45" fill="#fff" opacity="0.37"/>
<circle cx="345.94" cy="357.12" r="0.45" fill="#fff" opacity="0.12"/>
<circle cx="337.61" cy="362.25" r="0.45" fill="#fff" opacity="0.17"/>
<circle cx="332.57" cy="353" r="0.45" fill="#fff" opacity="0.27"/>
<circle cx="356.97" cy="364.15" r="0.45" fill="#fff" opacity="0.1"/>
<circle cx="338.68" cy="363.28" r="0.45" fill="#fff" opacity="0.13"/>
<ellipse cx="343.2" cy="361.6" rx="6.4" ry="4.4" fill="#20c0e8" filter="url(#b1)" transform="rotate(-28 343.2 361.6)"/>
<ellipse cx="343.3" cy="361.6" rx="5.6" ry="3.8" fill="#40e040" filter="url(#b1)" transform="rotate(-28 343.3 361.6)"/>
<ellipse cx="344.3" cy="361.7" rx="2.8" ry="2.0" fill="#e8e828" filter="url(#b1)" transform="rotate(-28 344.3 361.7)"/>
<ellipse cx="344.8" cy="361.8" rx="1.5" ry="1.1" fill="#f02010" filter="url(#b05)"/>
<rect x="271.5" y="406.6" width="26.1" height="46.8" fill="none" stroke="#6f8080" stroke-width="1.0"/>
<rect x="245.4" y="405.5" width="53.1" height="49.1" fill="none" stroke="#111" stroke-width="1.6" rx="0.6"/>
<line x1="243.8" y1="406.5" x2="245.4" y2="406.5" stroke="#000" stroke-width="0.7"/>
<line x1="243.8" y1="408.69" x2="245.4" y2="408.69" stroke="#000" stroke-width="0.7"/>
<line x1="243.8" y1="410.46" x2="245.4" y2="410.46" stroke="#000" stroke-width="0.7"/>
<line x1="243.8" y1="412.87" x2="245.4" y2="412.87" stroke="#000" stroke-width="0.7"/>
<line x1="243.8" y1="414.66" x2="245.4" y2="414.66" stroke="#000" stroke-width="0.7"/>
<line x1="243.8" y1="416.66" x2="245.4" y2="416.66" stroke="#000" stroke-width="0.7"/>
<line x1="243.8" y1="419.03" x2="245.4" y2="419.03" stroke="#000" stroke-width="0.7"/>
<line x1="243.8" y1="420.24" x2="245.4" y2="420.24" stroke="#000" stroke-width="0.7"/>
<line x1="243.8" y1="421.68" x2="245.4" y2="421.68" stroke="#000" stroke-width="0.7"/>
<line x1="243.8" y1="423.87" x2="245.4" y2="423.87" stroke="#000" stroke-width="0.7"/>
<line x1="243.8" y1="425.72" x2="245.4" y2="425.72" stroke="#000" stroke-width="0.7"/>
<line x1="243.8" y1="427.19" x2="245.4" y2="427.19" stroke="#000" stroke-width="0.7"/>
<line x1="243.8" y1="429.35" x2="245.4" y2="429.35" stroke="#000" stroke-width="0.7"/>
<line x1="243.8" y1="431.73" x2="245.4" y2="431.73" stroke="#000" stroke-width="0.7"/>
<line x1="243.8" y1="433.81" x2="245.4" y2="433.81" stroke="#000" stroke-width="0.7"/>
<line x1="243.8" y1="435.44" x2="245.4" y2="435.44" stroke="#000" stroke-width="0.7"/>
<line x1="243.8" y1="437.84" x2="245.4" y2="437.84" stroke="#000" stroke-width="0.7"/>
<line x1="243.8" y1="440.13" x2="245.4" y2="440.13" stroke="#000" stroke-width="0.7"/>
<line x1="243.8" y1="442.04" x2="245.4" y2="442.04" stroke="#000" stroke-width="0.7"/>
<line x1="243.8" y1="443.34" x2="245.4" y2="443.34" stroke="#000" stroke-width="0.7"/>
<line x1="243.8" y1="445.61" x2="245.4" y2="445.61" stroke="#000" stroke-width="0.7"/>
<line x1="243.8" y1="447.18" x2="245.4" y2="447.18" stroke="#000" stroke-width="0.7"/>
<line x1="243.8" y1="448.49" x2="245.4" y2="448.49" stroke="#000" stroke-width="0.7"/>
<line x1="243.8" y1="450.59" x2="245.4" y2="450.59" stroke="#000" stroke-width="0.7"/>
<line x1="243.8" y1="452.09" x2="245.4" y2="452.09" stroke="#000" stroke-width="0.7"/>
<line x1="243.8" y1="453.35" x2="245.4" y2="453.35" stroke="#000" stroke-width="0.7"/>
<line x1="246.4" y1="454.6" x2="246.4" y2="456.2" stroke="#000" stroke-width="0.7"/>
<line x1="248.73" y1="454.6" x2="248.73" y2="456.2" stroke="#000" stroke-width="0.7"/>
<line x1="251.08" y1="454.6" x2="251.08" y2="456.2" stroke="#000" stroke-width="0.7"/>
<line x1="252.31" y1="454.6" x2="252.31" y2="456.2" stroke="#000" stroke-width="0.7"/>
<line x1="254.32" y1="454.6" x2="254.32" y2="456.2" stroke="#000" stroke-width="0.7"/>
<line x1="255.73" y1="454.6" x2="255.73" y2="456.2" stroke="#000" stroke-width="0.7"/>
<line x1="257.38" y1="454.6" x2="257.38" y2="456.2" stroke="#000" stroke-width="0.7"/>
<line x1="258.93" y1="454.6" x2="258.93" y2="456.2" stroke="#000" stroke-width="0.7"/>
<line x1="260.72" y1="454.6" x2="260.72" y2="456.2" stroke="#000" stroke-width="0.7"/>
<line x1="262.4" y1="454.6" x2="262.4" y2="456.2" stroke="#000" stroke-width="0.7"/>
<line x1="263.98" y1="454.6" x2="263.98" y2="456.2" stroke="#000" stroke-width="0.7"/>
<line x1="265.61" y1="454.6" x2="265.61" y2="456.2" stroke="#000" stroke-width="0.7"/>
<line x1="267.57" y1="454.6" x2="267.57" y2="456.2" stroke="#000" stroke-width="0.7"/>
<line x1="269.43" y1="454.6" x2="269.43" y2="456.2" stroke="#000" stroke-width="0.7"/>
<line x1="270.74" y1="454.6" x2="270.74" y2="456.2" stroke="#000" stroke-width="0.7"/>
<line x1="272.11" y1="454.6" x2="272.11" y2="456.2" stroke="#000" stroke-width="0.7"/>
<line x1="273.42" y1="454.6" x2="273.42" y2="456.2" stroke="#000" stroke-width="0.7"/>
<line x1="275.13" y1="454.6" x2="275.13" y2="456.2" stroke="#000" stroke-width="0.7"/>
<line x1="276.86" y1="454.6" x2="276.86" y2="456.2" stroke="#000" stroke-width="0.7"/>
<line x1="279.06" y1="454.6" x2="279.06" y2="456.2" stroke="#000" stroke-width="0.7"/>
<line x1="281.48" y1="454.6" x2="281.48" y2="456.2" stroke="#000" stroke-width="0.7"/>
<line x1="283.89" y1="454.6" x2="283.89" y2="456.2" stroke="#000" stroke-width="0.7"/>
<line x1="285.8" y1="454.6" x2="285.8" y2="456.2" stroke="#000" stroke-width="0.7"/>
<line x1="287.93" y1="454.6" x2="287.93" y2="456.2" stroke="#000" stroke-width="0.7"/>
<line x1="289.72" y1="454.6" x2="289.72" y2="456.2" stroke="#000" stroke-width="0.7"/>
<line x1="291.7" y1="454.6" x2="291.7" y2="456.2" stroke="#000" stroke-width="0.7"/>
<line x1="292.98" y1="454.6" x2="292.98" y2="456.2" stroke="#000" stroke-width="0.7"/>
<line x1="294.8" y1="454.6" x2="294.8" y2="456.2" stroke="#000" stroke-width="0.7"/>
<line x1="296.28" y1="454.6" x2="296.28" y2="456.2" stroke="#000" stroke-width="0.7"/>
<text x="240.6" y="410.4" font-size="5.8" text-anchor="end" stroke="#000" stroke-width="0.12" textLength="6.3" lengthAdjust="spacingAndGlyphs">10</text>
<text x="240.9" y="408.4" font-size="3.8">5</text>
<text x="240.6" y="421.6" font-size="5.8" text-anchor="end" stroke="#000" stroke-width="0.12" textLength="6.3" lengthAdjust="spacingAndGlyphs">10</text>
<text x="240.9" y="419.6" font-size="3.8">4</text>
<text x="240.6" y="435.3" font-size="5.8" text-anchor="end" stroke="#000" stroke-width="0.12" textLength="6.3" lengthAdjust="spacingAndGlyphs">10</text>
<text x="240.9" y="433.3" font-size="3.8">3</text>
<text x="242.8" y="443.9" font-size="5.8" text-anchor="end" stroke="#000" stroke-width="0.12">0</text>
<text x="240.6" y="451.8" font-size="5.8" text-anchor="end" stroke="#000" stroke-width="0.12" textLength="8.6" lengthAdjust="spacingAndGlyphs">-10</text>
<text x="240.9" y="449.8" font-size="3.8">3</text>
<text x="257.8" y="463.6" font-size="5.8" text-anchor="middle" stroke="#000" stroke-width="0.12">0</text>
<text x="268.7" y="463.6" font-size="5.8" stroke="#000" stroke-width="0.12" textLength="6.3" lengthAdjust="spacingAndGlyphs">10</text>
<text x="275.4" y="461.6" font-size="3.8">3</text>
<text x="280.3" y="463.6" font-size="5.8" stroke="#000" stroke-width="0.12" textLength="6.3" lengthAdjust="spacingAndGlyphs">10</text>
<text x="287" y="461.6" font-size="3.8">4</text>
<text x="290.3" y="463.6" font-size="5.8" stroke="#000" stroke-width="0.12" textLength="6.3" lengthAdjust="spacingAndGlyphs">10</text>
<text x="297" y="461.6" font-size="3.8">5</text>
<text x="278.8" y="416.9" font-size="6.3" stroke="#000" stroke-width="0.08">64.9</text>
<ellipse cx="271.5" cy="431.8" rx="7" ry="3.5" fill="#8090f0" opacity="0.2" filter="url(#b2)" transform="rotate(-25 271.5 431.8)"/>
<circle cx="279.94" cy="425.32" r="0.45" fill="#6a76e8" opacity="0.27"/>
<circle cx="275.74" cy="430.38" r="0.45" fill="#6a76e8" opacity="0.23"/>
<circle cx="276.04" cy="430.8" r="0.45" fill="#6a76e8" opacity="0.31"/>
<circle cx="271.13" cy="434.39" r="0.45" fill="#6a76e8" opacity="0.11"/>
<circle cx="270.74" cy="428.41" r="0.45" fill="#6a76e8" opacity="0.1"/>
<circle cx="262.75" cy="432.81" r="0.45" fill="#6a76e8" opacity="0.24"/>
<circle cx="273.66" cy="429.94" r="0.45" fill="#6a76e8" opacity="0.11"/>
<circle cx="283.84" cy="431.8" r="0.45" fill="#6a76e8" opacity="0.14"/>
<circle cx="266.54" cy="429.83" r="0.45" fill="#6a76e8" opacity="0.26"/>
<circle cx="261.78" cy="430.34" r="0.45" fill="#6a76e8" opacity="0.27"/>
<circle cx="272.6" cy="432.05" r="0.45" fill="#6a76e8" opacity="0.22"/>
<circle cx="269.76" cy="434.25" r="0.45" fill="#6a76e8" opacity="0.14"/>
<circle cx="274.17" cy="432.16" r="0.45" fill="#6a76e8" opacity="0.32"/>
<circle cx="269.87" cy="438.1" r="0.45" fill="#6a76e8" opacity="0.17"/>
<circle cx="266.32" cy="435.45" r="0.45" fill="#6a76e8" opacity="0.24"/>
<circle cx="279.19" cy="427.29" r="0.45" fill="#6a76e8" opacity="0.2"/>
<circle cx="266.1" cy="432.73" r="0.45" fill="#6a76e8" opacity="0.2"/>
<circle cx="265.15" cy="431.16" r="0.45" fill="#6a76e8" opacity="0.08"/>
<circle cx="277.02" cy="435.79" r="0.45" fill="#6a76e8" opacity="0.2"/>
<circle cx="274.1" cy="427.14" r="0.45" fill="#6a76e8" opacity="0.3"/>
<circle cx="269.89" cy="429.72" r="0.45" fill="#6a76e8" opacity="0.27"/>
<circle cx="264.43" cy="432.17" r="0.45" fill="#6a76e8" opacity="0.2"/>
<circle cx="274.59" cy="430.38" r="0.45" fill="#6a76e8" opacity="0.12"/>
<circle cx="267.57" cy="433.4" r="0.45" fill="#6a76e8" opacity="0.24"/>
<circle cx="264.82" cy="438.96" r="0.45" fill="#6a76e8" opacity="0.24"/>
<circle cx="277.39" cy="432.21" r="0.45" fill="#6a76e8" opacity="0.27"/>
<circle cx="266.79" cy="429.07" r="0.45" fill="#6a76e8" opacity="0.24"/>
<circle cx="269.22" cy="429.08" r="0.45" fill="#6a76e8" opacity="0.26"/>
<circle cx="264.26" cy="428.78" r="0.45" fill="#6a76e8" opacity="0.08"/>
<circle cx="273.01" cy="433.79" r="0.45" fill="#6a76e8" opacity="0.2"/>
<circle cx="277.68" cy="430.2" r="0.45" fill="#6a76e8" opacity="0.28"/>
<circle cx="275.97" cy="429.34" r="0.45" fill="#6a76e8" opacity="0.24"/>
<circle cx="274.94" cy="429.41" r="0.45" fill="#6a76e8" opacity="0.13"/>
<circle cx="271.14" cy="435.45" r="0.45" fill="#6a76e8" opacity="0.14"/>
<circle cx="265.41" cy="430.6" r="0.45" fill="#6a76e8" opacity="0.34"/>
<circle cx="285.64" cy="430.37" r="0.45" fill="#6a76e8" opacity="0.31"/>
<circle cx="283.33" cy="430.34" r="0.45" fill="#6a76e8" opacity="0.16"/>
<circle cx="265.56" cy="430.84" r="0.45" fill="#6a76e8" opacity="0.25"/>
<circle cx="271.98" cy="435.6" r="0.45" fill="#6a76e8" opacity="0.17"/>
<circle cx="274.11" cy="431.41" r="0.45" fill="#6a76e8" opacity="0.19"/>
<circle cx="261.74" cy="430.17" r="0.45" fill="#6a76e8" opacity="0.1"/>
<circle cx="262.71" cy="438.22" r="0.45" fill="#6a76e8" opacity="0.33"/>
<circle cx="265.34" cy="435.23" r="0.45" fill="#6a76e8" opacity="0.16"/>
<circle cx="271.84" cy="433.96" r="0.45" fill="#6a76e8" opacity="0.31"/>
<circle cx="266.58" cy="435.99" r="0.45" fill="#6a76e8" opacity="0.13"/>
<circle cx="265.95" cy="430.46" r="0.45" fill="#6a76e8" opacity="0.35"/>
<circle cx="275.39" cy="432.46" r="0.45" fill="#6a76e8" opacity="0.08"/>
<circle cx="278.04" cy="432.04" r="0.45" fill="#6a76e8" opacity="0.09"/>
<circle cx="274.89" cy="433.41" r="0.45" fill="#6a76e8" opacity="0.29"/>
<circle cx="272.13" cy="426.59" r="0.45" fill="#6a76e8" opacity="0.1"/>
<circle cx="275.4" cy="432.57" r="0.45" fill="#6a76e8" opacity="0.16"/>
<circle cx="262.87" cy="430.45" r="0.45" fill="#6a76e8" opacity="0.1"/>
<circle cx="272.64" cy="428.12" r="0.45" fill="#6a76e8" opacity="0.27"/>
<circle cx="258.95" cy="441.6" r="0.45" fill="#6a76e8" opacity="0.11"/>
<circle cx="266.84" cy="440.72" r="0.45" fill="#6a76e8" opacity="0.25"/>
<circle cx="278.82" cy="427.79" r="0.45" fill="#6a76e8" opacity="0.32"/>
<circle cx="267.48" cy="433.54" r="0.45" fill="#6a76e8" opacity="0.21"/>
<circle cx="285.74" cy="428.91" r="0.45" fill="#6a76e8" opacity="0.23"/>
<circle cx="269.88" cy="433.79" r="0.45" fill="#6a76e8" opacity="0.22"/>
<circle cx="270.11" cy="428.96" r="0.45" fill="#6a76e8" opacity="0.34"/>
<circle cx="273.18" cy="433.33" r="0.45" fill="#6a76e8" opacity="0.13"/>
<circle cx="280.72" cy="427.68" r="0.45" fill="#6a76e8" opacity="0.11"/>
<circle cx="270.82" cy="428.25" r="0.45" fill="#6a76e8" opacity="0.21"/>
<circle cx="268.94" cy="427.37" r="0.45" fill="#6a76e8" opacity="0.11"/>
<circle cx="267.92" cy="433.61" r="0.45" fill="#6a76e8" opacity="0.14"/>
<circle cx="267.55" cy="433.46" r="0.45" fill="#6a76e8" opacity="0.29"/>
<circle cx="276.15" cy="432.37" r="0.45" fill="#6a76e8" opacity="0.29"/>
<circle cx="269.37" cy="426.05" r="0.45" fill="#6a76e8" opacity="0.14"/>
<circle cx="276.98" cy="436.42" r="0.45" fill="#6a76e8" opacity="0.32"/>
<circle cx="278.59" cy="432.77" r="0.45" fill="#6a76e8" opacity="0.1"/>
<circle cx="269.26" cy="437.54" r="0.45" fill="#6a76e8" opacity="0.33"/>
<circle cx="282.06" cy="428.1" r="0.45" fill="#6a76e8" opacity="0.31"/>
<circle cx="268.47" cy="437.85" r="0.45" fill="#6a76e8" opacity="0.17"/>
<circle cx="265.98" cy="436.9" r="0.45" fill="#6a76e8" opacity="0.28"/>
<circle cx="264.38" cy="428.71" r="0.45" fill="#6a76e8" opacity="0.13"/>
<circle cx="269.99" cy="429.05" r="0.45" fill="#6a76e8" opacity="0.3"/>
<circle cx="273.94" cy="431.54" r="0.45" fill="#6a76e8" opacity="0.2"/>
<circle cx="278.42" cy="429.2" r="0.45" fill="#6a76e8" opacity="0.28"/>
<circle cx="259.2" cy="432.75" r="0.45" fill="#6a76e8" opacity="0.33"/>
<circle cx="284.1" cy="424.3" r="0.45" fill="#6a76e8" opacity="0.28"/>
<circle cx="271.02" cy="432.26" r="0.45" fill="#6a76e8" opacity="0.22"/>
<circle cx="268.44" cy="432.1" r="0.45" fill="#6a76e8" opacity="0.3"/>
<circle cx="270.59" cy="429.47" r="0.45" fill="#6a76e8" opacity="0.17"/>
<circle cx="274.82" cy="432.28" r="0.45" fill="#6a76e8" opacity="0.26"/>
<circle cx="278.94" cy="429.45" r="0.45" fill="#6a76e8" opacity="0.24"/>
<circle cx="274.09" cy="430" r="0.45" fill="#6a76e8" opacity="0.34"/>
<circle cx="265.8" cy="435.21" r="0.45" fill="#6a76e8" opacity="0.34"/>
<circle cx="263.15" cy="435.15" r="0.45" fill="#6a76e8" opacity="0.28"/>
<circle cx="262.47" cy="434.57" r="0.45" fill="#6a76e8" opacity="0.29"/>
<circle cx="266.63" cy="431.4" r="0.45" fill="#6a76e8" opacity="0.23"/>
<circle cx="269.69" cy="431.55" r="0.45" fill="#6a76e8" opacity="0.12"/>
<circle cx="261.44" cy="434.56" r="0.45" fill="#6a76e8" opacity="0.29"/>
<circle cx="265.23" cy="427.48" r="0.45" fill="#6a76e8" opacity="0.32"/>
<circle cx="274.52" cy="431.14" r="0.45" fill="#6a76e8" opacity="0.23"/>
<circle cx="279.85" cy="427.43" r="0.45" fill="#6a76e8" opacity="0.31"/>
<circle cx="269.67" cy="434.13" r="0.45" fill="#6a76e8" opacity="0.33"/>
<circle cx="260.84" cy="440.11" r="0.45" fill="#6a76e8" opacity="0.28"/>
<circle cx="261.91" cy="435.19" r="0.45" fill="#6a76e8" opacity="0.13"/>
<circle cx="268.55" cy="422.55" r="0.45" fill="#6a76e8" opacity="0.3"/>
<circle cx="271.43" cy="432.08" r="0.45" fill="#6a76e8" opacity="0.34"/>
<circle cx="273.34" cy="430.53" r="0.45" fill="#6a76e8" opacity="0.25"/>
<circle cx="261.43" cy="436.41" r="0.45" fill="#6a76e8" opacity="0.24"/>
<circle cx="275.28" cy="432.39" r="0.45" fill="#6a76e8" opacity="0.08"/>
<circle cx="266.43" cy="439.43" r="0.45" fill="#6a76e8" opacity="0.1"/>
<circle cx="265.25" cy="429.73" r="0.45" fill="#6a76e8" opacity="0.11"/>
<circle cx="270.33" cy="431.6" r="0.45" fill="#6a76e8" opacity="0.33"/>
<circle cx="264.41" cy="432.89" r="0.45" fill="#6a76e8" opacity="0.24"/>
<circle cx="269.04" cy="432.9" r="0.45" fill="#6a76e8" opacity="0.35"/>
<circle cx="258.65" cy="439.24" r="0.45" fill="#6a76e8" opacity="0.3"/>
<circle cx="260.64" cy="429.23" r="0.45" fill="#6a76e8" opacity="0.16"/>
<circle cx="278.36" cy="431.84" r="0.45" fill="#6a76e8" opacity="0.35"/>
<circle cx="264.22" cy="431.4" r="0.45" fill="#6a76e8" opacity="0.23"/>
<circle cx="266.86" cy="436.17" r="0.45" fill="#6a76e8" opacity="0.34"/>
<circle cx="259.86" cy="433.39" r="0.45" fill="#6a76e8" opacity="0.1"/>
<circle cx="267" cy="435.41" r="0.45" fill="#6a76e8" opacity="0.1"/>
<circle cx="277.92" cy="429.05" r="0.45" fill="#6a76e8" opacity="0.14"/>
<circle cx="274.16" cy="428.01" r="0.45" fill="#6a76e8" opacity="0.33"/>
<circle cx="277.6" cy="433.13" r="0.45" fill="#6a76e8" opacity="0.25"/>
<circle cx="269.39" cy="426.36" r="0.45" fill="#6a76e8" opacity="0.11"/>
<circle cx="269.13" cy="441.54" r="0.45" fill="#6a76e8" opacity="0.29"/>
<circle cx="278.59" cy="434.2" r="0.45" fill="#6a76e8" opacity="0.14"/>
<circle cx="272.64" cy="428.87" r="0.45" fill="#6a76e8" opacity="0.2"/>
<circle cx="272.6" cy="432.14" r="0.45" fill="#6a76e8" opacity="0.3"/>
<circle cx="274.32" cy="432.4" r="0.45" fill="#6a76e8" opacity="0.24"/>
<circle cx="278.17" cy="432.21" r="0.45" fill="#6a76e8" opacity="0.26"/>
<circle cx="260.95" cy="439.9" r="0.45" fill="#6a76e8" opacity="0.14"/>
<circle cx="267.02" cy="430.31" r="0.45" fill="#6a76e8" opacity="0.3"/>
<circle cx="271.73" cy="432.63" r="0.45" fill="#6a76e8" opacity="0.28"/>
<circle cx="277.29" cy="426.54" r="0.45" fill="#6a76e8" opacity="0.29"/>
<circle cx="261.65" cy="437.42" r="0.45" fill="#6a76e8" opacity="0.08"/>
<circle cx="270.93" cy="430.35" r="0.45" fill="#4050e0" opacity="0.33"/>
<circle cx="269.79" cy="432.54" r="0.45" fill="#4050e0" opacity="0.34"/>
<circle cx="272.81" cy="432.27" r="0.45" fill="#4050e0" opacity="0.5"/>
<circle cx="271.06" cy="431.07" r="0.45" fill="#4050e0" opacity="0.34"/>
<circle cx="271.84" cy="434.02" r="0.45" fill="#4050e0" opacity="0.57"/>
<circle cx="272.52" cy="432.23" r="0.45" fill="#4050e0" opacity="0.53"/>
<circle cx="272.24" cy="430.85" r="0.45" fill="#4050e0" opacity="0.51"/>
<circle cx="271.96" cy="435.13" r="0.45" fill="#4050e0" opacity="0.57"/>
<circle cx="270.81" cy="432.19" r="0.45" fill="#4050e0" opacity="0.49"/>
<circle cx="271.63" cy="429.79" r="0.45" fill="#4050e0" opacity="0.39"/>
<circle cx="270.76" cy="432.85" r="0.45" fill="#4050e0" opacity="0.43"/>
<circle cx="270.63" cy="431.26" r="0.45" fill="#4050e0" opacity="0.41"/>
<circle cx="270.3" cy="427.89" r="0.45" fill="#4050e0" opacity="0.31"/>
<circle cx="269.41" cy="429.65" r="0.45" fill="#4050e0" opacity="0.39"/>
<circle cx="271.18" cy="432.17" r="0.45" fill="#4050e0" opacity="0.33"/>
<circle cx="270.04" cy="429.94" r="0.45" fill="#4050e0" opacity="0.58"/>
<circle cx="271.87" cy="430.78" r="0.45" fill="#4050e0" opacity="0.52"/>
<circle cx="272.44" cy="432.28" r="0.45" fill="#4050e0" opacity="0.35"/>
<circle cx="272.89" cy="430.12" r="0.45" fill="#4050e0" opacity="0.47"/>
<circle cx="271.54" cy="431.58" r="0.45" fill="#4050e0" opacity="0.36"/>
<circle cx="272.38" cy="433.67" r="0.45" fill="#4050e0" opacity="0.6"/>
<circle cx="270.85" cy="432.12" r="0.45" fill="#4050e0" opacity="0.33"/>
<circle cx="271.6" cy="431.63" r="0.45" fill="#4050e0" opacity="0.55"/>
<circle cx="272.28" cy="431.7" r="0.45" fill="#4050e0" opacity="0.33"/>
<circle cx="270.24" cy="432.79" r="0.45" fill="#4050e0" opacity="0.53"/>
<circle cx="269.5" cy="431.01" r="0.45" fill="#4050e0" opacity="0.35"/>
<circle cx="271.89" cy="432.8" r="0.45" fill="#4050e0" opacity="0.3"/>
<circle cx="271.28" cy="429.12" r="0.45" fill="#4050e0" opacity="0.5"/>
<circle cx="270.2" cy="430.61" r="0.45" fill="#4050e0" opacity="0.46"/>
<circle cx="272.78" cy="432.62" r="0.45" fill="#4050e0" opacity="0.39"/>
<circle cx="270.25" cy="430.87" r="0.45" fill="#4050e0" opacity="0.56"/>
<circle cx="272.26" cy="432.34" r="0.45" fill="#4050e0" opacity="0.47"/>
<circle cx="270.99" cy="430.49" r="0.45" fill="#4050e0" opacity="0.53"/>
<circle cx="273.02" cy="430.34" r="0.45" fill="#4050e0" opacity="0.34"/>
<circle cx="270.65" cy="432.41" r="0.45" fill="#4050e0" opacity="0.54"/>
<circle cx="272.04" cy="432.88" r="0.45" fill="#4050e0" opacity="0.5"/>
<circle cx="270.77" cy="431.43" r="0.45" fill="#4050e0" opacity="0.35"/>
<circle cx="269.11" cy="433.23" r="0.45" fill="#4050e0" opacity="0.49"/>
<circle cx="270.89" cy="433.35" r="0.45" fill="#4050e0" opacity="0.44"/>
<circle cx="272.07" cy="432.41" r="0.45" fill="#4050e0" opacity="0.35"/>
<rect x="347.3" y="406.6" width="26.1" height="46.8" fill="none" stroke="#6f8080" stroke-width="1.0"/>
<rect x="321.3" y="405.5" width="52.9" height="49.1" fill="none" stroke="#111" stroke-width="1.6" rx="0.6"/>
<line x1="319.7" y1="406.5" x2="321.3" y2="406.5" stroke="#000" stroke-width="0.7"/>
<line x1="319.7" y1="408.31" x2="321.3" y2="408.31" stroke="#000" stroke-width="0.7"/>
<line x1="319.7" y1="410.28" x2="321.3" y2="410.28" stroke="#000" stroke-width="0.7"/>
<line x1="319.7" y1="411.5" x2="321.3" y2="411.5" stroke="#000" stroke-width="0.7"/>
<line x1="319.7" y1="414.07" x2="321.3" y2="414.07" stroke="#000" stroke-width="0.7"/>
<line x1="319.7" y1="416.26" x2="321.3" y2="416.26" stroke="#000" stroke-width="0.7"/>
<line x1="319.7" y1="418.82" x2="321.3" y2="418.82" stroke="#000" stroke-width="0.7"/>
<line x1="319.7" y1="421.02" x2="321.3" y2="421.02" stroke="#000" stroke-width="0.7"/>
<line x1="319.7" y1="422.69" x2="321.3" y2="422.69" stroke="#000" stroke-width="0.7"/>
<line x1="319.7" y1="424.15" x2="321.3" y2="424.15" stroke="#000" stroke-width="0.7"/>
<line x1="319.7" y1="426.12" x2="321.3" y2="426.12" stroke="#000" stroke-width="0.7"/>
<line x1="319.7" y1="427.72" x2="321.3" y2="427.72" stroke="#000" stroke-width="0.7"/>
<line x1="319.7" y1="429.61" x2="321.3" y2="429.61" stroke="#000" stroke-width="0.7"/>
<line x1="319.7" y1="431.92" x2="321.3" y2="431.92" stroke="#000" stroke-width="0.7"/>
<line x1="319.7" y1="433.45" x2="321.3" y2="433.45" stroke="#000" stroke-width="0.7"/>
<line x1="319.7" y1="435.64" x2="321.3" y2="435.64" stroke="#000" stroke-width="0.7"/>
<line x1="319.7" y1="437.72" x2="321.3" y2="437.72" stroke="#000" stroke-width="0.7"/>
<line x1="319.7" y1="439.84" x2="321.3" y2="439.84" stroke="#000" stroke-width="0.7"/>
<line x1="319.7" y1="441.88" x2="321.3" y2="441.88" stroke="#000" stroke-width="0.7"/>
<line x1="319.7" y1="443.66" x2="321.3" y2="443.66" stroke="#000" stroke-width="0.7"/>
<line x1="319.7" y1="445.71" x2="321.3" y2="445.71" stroke="#000" stroke-width="0.7"/>
<line x1="319.7" y1="448.02" x2="321.3" y2="448.02" stroke="#000" stroke-width="0.7"/>
<line x1="319.7" y1="450.56" x2="321.3" y2="450.56" stroke="#000" stroke-width="0.7"/>
<line x1="319.7" y1="453.16" x2="321.3" y2="453.16" stroke="#000" stroke-width="0.7"/>
<line x1="322.3" y1="454.6" x2="322.3" y2="456.2" stroke="#000" stroke-width="0.7"/>
<line x1="323.8" y1="454.6" x2="323.8" y2="456.2" stroke="#000" stroke-width="0.7"/>
<line x1="325.83" y1="454.6" x2="325.83" y2="456.2" stroke="#000" stroke-width="0.7"/>
<line x1="327.5" y1="454.6" x2="327.5" y2="456.2" stroke="#000" stroke-width="0.7"/>
<line x1="328.82" y1="454.6" x2="328.82" y2="456.2" stroke="#000" stroke-width="0.7"/>
<line x1="331.2" y1="454.6" x2="331.2" y2="456.2" stroke="#000" stroke-width="0.7"/>
<line x1="333.08" y1="454.6" x2="333.08" y2="456.2" stroke="#000" stroke-width="0.7"/>
<line x1="334.6" y1="454.6" x2="334.6" y2="456.2" stroke="#000" stroke-width="0.7"/>
<line x1="337.01" y1="454.6" x2="337.01" y2="456.2" stroke="#000" stroke-width="0.7"/>
<line x1="338.33" y1="454.6" x2="338.33" y2="456.2" stroke="#000" stroke-width="0.7"/>
<line x1="340.02" y1="454.6" x2="340.02" y2="456.2" stroke="#000" stroke-width="0.7"/>
<line x1="342.22" y1="454.6" x2="342.22" y2="456.2" stroke="#000" stroke-width="0.7"/>
<line x1="344.29" y1="454.6" x2="344.29" y2="456.2" stroke="#000" stroke-width="0.7"/>
<line x1="346.59" y1="454.6" x2="346.59" y2="456.2" stroke="#000" stroke-width="0.7"/>
<line x1="348.31" y1="454.6" x2="348.31" y2="456.2" stroke="#000" stroke-width="0.7"/>
<line x1="349.88" y1="454.6" x2="349.88" y2="456.2" stroke="#000" stroke-width="0.7"/>
<line x1="351.64" y1="454.6" x2="351.64" y2="456.2" stroke="#000" stroke-width="0.7"/>
<line x1="353.21" y1="454.6" x2="353.21" y2="456.2" stroke="#000" stroke-width="0.7"/>
<line x1="354.94" y1="454.6" x2="354.94" y2="456.2" stroke="#000" stroke-width="0.7"/>
<line x1="357.44" y1="454.6" x2="357.44" y2="456.2" stroke="#000" stroke-width="0.7"/>
<line x1="359.11" y1="454.6" x2="359.11" y2="456.2" stroke="#000" stroke-width="0.7"/>
<line x1="360.65" y1="454.6" x2="360.65" y2="456.2" stroke="#000" stroke-width="0.7"/>
<line x1="362.46" y1="454.6" x2="362.46" y2="456.2" stroke="#000" stroke-width="0.7"/>
<line x1="363.72" y1="454.6" x2="363.72" y2="456.2" stroke="#000" stroke-width="0.7"/>
<line x1="366.25" y1="454.6" x2="366.25" y2="456.2" stroke="#000" stroke-width="0.7"/>
<line x1="367.62" y1="454.6" x2="367.62" y2="456.2" stroke="#000" stroke-width="0.7"/>
<line x1="368.84" y1="454.6" x2="368.84" y2="456.2" stroke="#000" stroke-width="0.7"/>
<line x1="371.21" y1="454.6" x2="371.21" y2="456.2" stroke="#000" stroke-width="0.7"/>
<line x1="373.51" y1="454.6" x2="373.51" y2="456.2" stroke="#000" stroke-width="0.7"/>
<text x="315.6" y="410.4" font-size="5.8" text-anchor="end" stroke="#000" stroke-width="0.12" textLength="6.3" lengthAdjust="spacingAndGlyphs">10</text>
<text x="315.9" y="408.4" font-size="3.8">5</text>
<text x="315.6" y="421.6" font-size="5.8" text-anchor="end" stroke="#000" stroke-width="0.12" textLength="6.3" lengthAdjust="spacingAndGlyphs">10</text>
<text x="315.9" y="419.6" font-size="3.8">4</text>
<text x="315.6" y="435.3" font-size="5.8" text-anchor="end" stroke="#000" stroke-width="0.12" textLength="6.3" lengthAdjust="spacingAndGlyphs">10</text>
<text x="315.9" y="433.3" font-size="3.8">3</text>
<text x="317.8" y="443.9" font-size="5.8" text-anchor="end" stroke="#000" stroke-width="0.12">0</text>
<text x="315.6" y="451.8" font-size="5.8" text-anchor="end" stroke="#000" stroke-width="0.12" textLength="8.6" lengthAdjust="spacingAndGlyphs">-10</text>
<text x="315.9" y="449.8" font-size="3.8">3</text>
<text x="332.8" y="463.6" font-size="5.8" text-anchor="middle" stroke="#000" stroke-width="0.12">0</text>
<text x="343.7" y="463.6" font-size="5.8" stroke="#000" stroke-width="0.12" textLength="6.3" lengthAdjust="spacingAndGlyphs">10</text>
<text x="350.4" y="461.6" font-size="3.8">3</text>
<text x="355.3" y="463.6" font-size="5.8" stroke="#000" stroke-width="0.12" textLength="6.3" lengthAdjust="spacingAndGlyphs">10</text>
<text x="362" y="461.6" font-size="3.8">4</text>
<text x="365.3" y="463.6" font-size="5.8" stroke="#000" stroke-width="0.12" textLength="6.3" lengthAdjust="spacingAndGlyphs">10</text>
<text x="372" y="461.6" font-size="3.8">5</text>
<text x="354.5" y="416.9" font-size="6.3" stroke="#000" stroke-width="0.08">26.0</text>
<ellipse cx="344.5" cy="433" rx="5" ry="2.6" fill="#8090f0" opacity="0.2" filter="url(#b2)" transform="rotate(-25 344.5 433)"/>
<circle cx="337.25" cy="431.01" r="0.45" fill="#6a76e8" opacity="0.16"/>
<circle cx="339.52" cy="434.81" r="0.45" fill="#6a76e8" opacity="0.31"/>
<circle cx="346.02" cy="430.3" r="0.45" fill="#6a76e8" opacity="0.34"/>
<circle cx="345.96" cy="433.08" r="0.45" fill="#6a76e8" opacity="0.18"/>
<circle cx="343.34" cy="434.3" r="0.45" fill="#6a76e8" opacity="0.1"/>
<circle cx="346.76" cy="434.64" r="0.45" fill="#6a76e8" opacity="0.23"/>
<circle cx="344.4" cy="433.25" r="0.45" fill="#6a76e8" opacity="0.26"/>
<circle cx="345.56" cy="431.85" r="0.45" fill="#6a76e8" opacity="0.3"/>
<circle cx="345.17" cy="431.65" r="0.45" fill="#6a76e8" opacity="0.35"/>
<circle cx="345" cy="433.28" r="0.45" fill="#6a76e8" opacity="0.16"/>
<circle cx="355.12" cy="427.9" r="0.45" fill="#6a76e8" opacity="0.35"/>
<circle cx="341.76" cy="432.39" r="0.45" fill="#6a76e8" opacity="0.15"/>
<circle cx="345.13" cy="433.39" r="0.45" fill="#6a76e8" opacity="0.29"/>
<circle cx="335.33" cy="439.87" r="0.45" fill="#6a76e8" opacity="0.1"/>
<circle cx="345.42" cy="433.25" r="0.45" fill="#6a76e8" opacity="0.09"/>
<circle cx="344.39" cy="435.55" r="0.45" fill="#6a76e8" opacity="0.35"/>
<circle cx="341.99" cy="434.69" r="0.45" fill="#6a76e8" opacity="0.2"/>
<circle cx="346.61" cy="430.83" r="0.45" fill="#6a76e8" opacity="0.14"/>
<circle cx="350.11" cy="430.09" r="0.45" fill="#6a76e8" opacity="0.16"/>
<circle cx="338.65" cy="433.47" r="0.45" fill="#6a76e8" opacity="0.11"/>
<circle cx="344.25" cy="434.05" r="0.45" fill="#6a76e8" opacity="0.32"/>
<circle cx="343.72" cy="434.63" r="0.45" fill="#6a76e8" opacity="0.23"/>
<circle cx="348.27" cy="432.14" r="0.45" fill="#6a76e8" opacity="0.14"/>
<circle cx="344.91" cy="430.14" r="0.45" fill="#6a76e8" opacity="0.14"/>
<circle cx="342.52" cy="435.12" r="0.45" fill="#6a76e8" opacity="0.33"/>
<circle cx="345.11" cy="432.94" r="0.45" fill="#6a76e8" opacity="0.13"/>
<circle cx="343.93" cy="433.36" r="0.45" fill="#6a76e8" opacity="0.12"/>
<circle cx="335.33" cy="433.59" r="0.45" fill="#6a76e8" opacity="0.34"/>
<circle cx="346.24" cy="430.62" r="0.45" fill="#6a76e8" opacity="0.28"/>
<circle cx="343.3" cy="434.01" r="0.45" fill="#6a76e8" opacity="0.09"/>
<circle cx="343.14" cy="437.92" r="0.45" fill="#6a76e8" opacity="0.19"/>
<circle cx="348.33" cy="429.01" r="0.45" fill="#6a76e8" opacity="0.1"/>
<circle cx="345.25" cy="432.22" r="0.45" fill="#6a76e8" opacity="0.32"/>
<circle cx="346.09" cy="427.17" r="0.45" fill="#6a76e8" opacity="0.22"/>
<circle cx="340.44" cy="427.93" r="0.45" fill="#6a76e8" opacity="0.11"/>
<circle cx="346.82" cy="434.99" r="0.45" fill="#6a76e8" opacity="0.1"/>
<circle cx="338.1" cy="437.56" r="0.45" fill="#6a76e8" opacity="0.35"/>
<circle cx="345.91" cy="433.21" r="0.45" fill="#6a76e8" opacity="0.23"/>
<circle cx="341.03" cy="431.28" r="0.45" fill="#6a76e8" opacity="0.09"/>
<circle cx="338.09" cy="438" r="0.45" fill="#6a76e8" opacity="0.14"/>
<circle cx="344.97" cy="430.45" r="0.45" fill="#6a76e8" opacity="0.31"/>
<circle cx="339.96" cy="434.83" r="0.45" fill="#6a76e8" opacity="0.14"/>
<circle cx="345.28" cy="430.03" r="0.45" fill="#6a76e8" opacity="0.1"/>
<circle cx="340.48" cy="437.37" r="0.45" fill="#6a76e8" opacity="0.33"/>
<circle cx="349.34" cy="432.75" r="0.45" fill="#6a76e8" opacity="0.23"/>
<circle cx="347.16" cy="434.73" r="0.45" fill="#6a76e8" opacity="0.2"/>
<circle cx="337.57" cy="436.52" r="0.45" fill="#6a76e8" opacity="0.1"/>
<circle cx="345.94" cy="432.53" r="0.45" fill="#6a76e8" opacity="0.32"/>
<circle cx="338.71" cy="431.86" r="0.45" fill="#6a76e8" opacity="0.25"/>
<circle cx="339.15" cy="433.71" r="0.45" fill="#6a76e8" opacity="0.32"/>
<circle cx="341.39" cy="433.48" r="0.45" fill="#6a76e8" opacity="0.23"/>
<circle cx="342.83" cy="427.1" r="0.45" fill="#6a76e8" opacity="0.32"/>
<circle cx="342.05" cy="433.69" r="0.45" fill="#6a76e8" opacity="0.27"/>
<circle cx="337.94" cy="434.67" r="0.45" fill="#6a76e8" opacity="0.18"/>
<circle cx="343.44" cy="434.44" r="0.45" fill="#6a76e8" opacity="0.22"/>
<circle cx="339.81" cy="433.04" r="0.45" fill="#6a76e8" opacity="0.33"/>
<circle cx="335.23" cy="439.98" r="0.45" fill="#6a76e8" opacity="0.2"/>
<circle cx="343.56" cy="433.12" r="0.45" fill="#6a76e8" opacity="0.3"/>
<circle cx="342.63" cy="432.72" r="0.45" fill="#6a76e8" opacity="0.09"/>
<circle cx="342.04" cy="431.95" r="0.45" fill="#6a76e8" opacity="0.18"/>
<circle cx="344.4" cy="432.72" r="0.45" fill="#6a76e8" opacity="0.3"/>
<circle cx="341.18" cy="431.3" r="0.45" fill="#6a76e8" opacity="0.24"/>
<circle cx="345.8" cy="432.97" r="0.45" fill="#6a76e8" opacity="0.09"/>
<circle cx="347.75" cy="436.07" r="0.45" fill="#6a76e8" opacity="0.08"/>
<circle cx="343.41" cy="428.37" r="0.45" fill="#6a76e8" opacity="0.16"/>
<circle cx="345.49" cy="432.18" r="0.45" fill="#6a76e8" opacity="0.27"/>
<circle cx="345.01" cy="432.34" r="0.45" fill="#6a76e8" opacity="0.19"/>
<circle cx="343.74" cy="434.1" r="0.45" fill="#6a76e8" opacity="0.29"/>
<circle cx="341.24" cy="434.23" r="0.45" fill="#6a76e8" opacity="0.18"/>
<circle cx="349.59" cy="429.57" r="0.45" fill="#6a76e8" opacity="0.2"/>
<circle cx="347.02" cy="430.95" r="0.45" fill="#6a76e8" opacity="0.23"/>
<circle cx="349.43" cy="430.58" r="0.45" fill="#6a76e8" opacity="0.23"/>
<circle cx="343.1" cy="431.56" r="0.45" fill="#6a76e8" opacity="0.34"/>
<circle cx="347.54" cy="428.6" r="0.45" fill="#6a76e8" opacity="0.17"/>
<circle cx="342.31" cy="434.37" r="0.45" fill="#6a76e8" opacity="0.12"/>
<circle cx="346.55" cy="432.26" r="0.45" fill="#6a76e8" opacity="0.3"/>
<circle cx="347.41" cy="428.78" r="0.45" fill="#6a76e8" opacity="0.12"/>
<circle cx="341.9" cy="434.05" r="0.45" fill="#6a76e8" opacity="0.29"/>
<circle cx="344.97" cy="430.56" r="0.45" fill="#6a76e8" opacity="0.09"/>
<circle cx="339.3" cy="435.03" r="0.45" fill="#6a76e8" opacity="0.11"/>
<circle cx="342.61" cy="431.28" r="0.45" fill="#6a76e8" opacity="0.1"/>
<circle cx="341.2" cy="435.39" r="0.45" fill="#6a76e8" opacity="0.15"/>
<circle cx="344.57" cy="431.07" r="0.45" fill="#6a76e8" opacity="0.15"/>
<circle cx="338.68" cy="430.21" r="0.45" fill="#6a76e8" opacity="0.13"/>
<circle cx="339.56" cy="433.08" r="0.45" fill="#6a76e8" opacity="0.24"/>
<circle cx="343.37" cy="434.52" r="0.45" fill="#6a76e8" opacity="0.12"/>
<circle cx="339.67" cy="435.62" r="0.45" fill="#6a76e8" opacity="0.17"/>
<circle cx="343.25" cy="438.15" r="0.45" fill="#6a76e8" opacity="0.22"/>
<circle cx="347.57" cy="433.36" r="0.45" fill="#6a76e8" opacity="0.12"/>
<circle cx="341.93" cy="436.02" r="0.45" fill="#6a76e8" opacity="0.1"/>
<circle cx="346.11" cy="433.58" r="0.45" fill="#4050e0" opacity="0.31"/>
<circle cx="346.52" cy="432.57" r="0.45" fill="#4050e0" opacity="0.36"/>
<circle cx="344.51" cy="434.88" r="0.45" fill="#4050e0" opacity="0.31"/>
<circle cx="346.03" cy="433.25" r="0.45" fill="#4050e0" opacity="0.56"/>
<circle cx="346.5" cy="433.63" r="0.45" fill="#4050e0" opacity="0.59"/>
<circle cx="344.63" cy="434.96" r="0.45" fill="#4050e0" opacity="0.43"/>
<circle cx="341.95" cy="433.58" r="0.45" fill="#4050e0" opacity="0.45"/>
<circle cx="348.9" cy="432.77" r="0.45" fill="#4050e0" opacity="0.48"/>
<circle cx="344.23" cy="434.83" r="0.45" fill="#4050e0" opacity="0.44"/>
<circle cx="346.83" cy="434.07" r="0.45" fill="#4050e0" opacity="0.39"/>
<circle cx="348.47" cy="430.81" r="0.45" fill="#4050e0" opacity="0.5"/>
<circle cx="346.06" cy="433.08" r="0.45" fill="#4050e0" opacity="0.52"/>
<circle cx="343.21" cy="434.17" r="0.45" fill="#4050e0" opacity="0.51"/>
<circle cx="343.47" cy="432.37" r="0.45" fill="#4050e0" opacity="0.41"/>
<circle cx="344.44" cy="432.34" r="0.45" fill="#4050e0" opacity="0.56"/>
<circle cx="345.59" cy="435.36" r="0.45" fill="#4050e0" opacity="0.43"/>
<circle cx="345.3" cy="432.72" r="0.45" fill="#4050e0" opacity="0.38"/>
<circle cx="345.83" cy="432.68" r="0.45" fill="#4050e0" opacity="0.4"/>
<circle cx="347.42" cy="433.38" r="0.45" fill="#4050e0" opacity="0.34"/>
<circle cx="345.59" cy="431.07" r="0.45" fill="#4050e0" opacity="0.32"/>
<circle cx="343.58" cy="434.71" r="0.45" fill="#4050e0" opacity="0.41"/>
<circle cx="344.1" cy="433.49" r="0.45" fill="#4050e0" opacity="0.54"/>
<circle cx="342.94" cy="433.2" r="0.45" fill="#4050e0" opacity="0.55"/>
<circle cx="346.49" cy="433.68" r="0.45" fill="#4050e0" opacity="0.36"/>
<circle cx="344.2" cy="432.31" r="0.45" fill="#4050e0" opacity="0.57"/>
<circle cx="347.06" cy="434.25" r="0.45" fill="#4050e0" opacity="0.37"/>
<circle cx="344.36" cy="434.86" r="0.45" fill="#4050e0" opacity="0.49"/>
<circle cx="346.85" cy="432.4" r="0.45" fill="#4050e0" opacity="0.42"/>
<circle cx="344.84" cy="432.5" r="0.45" fill="#4050e0" opacity="0.52"/>
<circle cx="345.83" cy="433.26" r="0.45" fill="#4050e0" opacity="0.36"/>
<line x1="229.6" y1="487.8" x2="229.6" y2="566.6" stroke="#333" stroke-width="1.6"/>
<line x1="226.8" y1="488.6" x2="229.6" y2="488.6" stroke="#333" stroke-width="1.3"/>
<text x="223.5" y="491.2" font-size="7.4" text-anchor="end" stroke="#000" stroke-width="0.25" textLength="8.8" lengthAdjust="spacingAndGlyphs">80</text>
<line x1="226.8" y1="507.85" x2="229.6" y2="507.85" stroke="#333" stroke-width="1.3"/>
<text x="223.5" y="510.45" font-size="7.4" text-anchor="end" stroke="#000" stroke-width="0.25" textLength="8.8" lengthAdjust="spacingAndGlyphs">60</text>
<line x1="226.8" y1="527.1" x2="229.6" y2="527.1" stroke="#333" stroke-width="1.3"/>
<text x="223.5" y="529.7" font-size="7.4" text-anchor="end" stroke="#000" stroke-width="0.25" textLength="8.8" lengthAdjust="spacingAndGlyphs">40</text>
<line x1="226.8" y1="546.35" x2="229.6" y2="546.35" stroke="#333" stroke-width="1.3"/>
<text x="223.5" y="548.95" font-size="7.4" text-anchor="end" stroke="#000" stroke-width="0.25" textLength="8.8" lengthAdjust="spacingAndGlyphs">20</text>
<line x1="226.8" y1="565.6" x2="229.6" y2="565.6" stroke="#333" stroke-width="1.3"/>
<text x="223.5" y="568.2" font-size="7.4" text-anchor="end" stroke="#000" stroke-width="0.25" textLength="4.4" lengthAdjust="spacingAndGlyphs">0</text>
<line x1="228.8" y1="565.5" x2="350.8" y2="565.5" stroke="#333" stroke-width="1.7"/>
<line x1="251.2" y1="565.5" x2="251.2" y2="568.1" stroke="#333" stroke-width="1.3"/>
<line x1="277.5" y1="565.5" x2="277.5" y2="568.1" stroke="#333" stroke-width="1.3"/>
<line x1="303.1" y1="565.5" x2="303.1" y2="568.1" stroke="#333" stroke-width="1.3"/>
<line x1="329" y1="565.5" x2="329" y2="568.1" stroke="#333" stroke-width="1.3"/>
<text x="0" y="0" font-size="9.6" text-anchor="middle" stroke="#000" stroke-width="0.25" textLength="25.2" lengthAdjust="spacingAndGlyphs" transform="translate(211.1 527.0) rotate(-90)">% Ki67+</text>
<line x1="240.8" y1="558" x2="261.6" y2="558" stroke="#111" stroke-width="1.4"/>
<line x1="246" y1="554.6" x2="256.4" y2="554.6" stroke="#111" stroke-width="1.4"/>
<line x1="246" y1="561.2" x2="256.4" y2="561.2" stroke="#111" stroke-width="1.4"/>
<line x1="251.2" y1="554.6" x2="251.2" y2="561.2" stroke="#333" stroke-width="1.2"/>
<circle cx="249" cy="553.2" r="1.65" fill="#dd0000"/>
<circle cx="254.3" cy="556.3" r="1.65" fill="#dd0000"/>
<circle cx="251.2" cy="563.2" r="1.65" fill="#dd0000"/>
<line x1="266.9" y1="503.3" x2="288.1" y2="503.3" stroke="#111" stroke-width="1.4"/>
<line x1="272.2" y1="499" x2="282.8" y2="499" stroke="#111" stroke-width="1.4"/>
<line x1="272.2" y1="507.3" x2="282.8" y2="507.3" stroke="#111" stroke-width="1.4"/>
<line x1="277.5" y1="499" x2="277.5" y2="507.3" stroke="#333" stroke-width="1.2"/>
<rect x="276.1" y="493.4" width="2.8" height="2.8" fill="#0a1fb0"/>
<rect x="273.2" y="498.6" width="2.8" height="2.8" fill="#0a1fb0"/>
<rect x="278.2" y="501.9" width="2.8" height="2.8" fill="#0a1fb0"/>
<rect x="276.1" y="513" width="2.8" height="2.8" fill="#0a1fb0"/>
<line x1="292.5" y1="561.5" x2="313.7" y2="561.5" stroke="#111" stroke-width="1.4"/>
<line x1="297.85" y1="558.7" x2="308.35" y2="558.7" stroke="#111" stroke-width="1.4"/>
<line x1="297.85" y1="565" x2="308.35" y2="565" stroke="#111" stroke-width="1.4"/>
<line x1="303.1" y1="558.7" x2="303.1" y2="565" stroke="#333" stroke-width="1.2"/>
<polygon points="303.1,553.91 304.75,556.88 301.45,556.88" fill="#22ee22"/>
<polygon points="300.2,563.12 301.85,566.09 298.55,566.09" fill="#22ee22"/>
<polygon points="306,563.12 307.65,566.09 304.35,566.09" fill="#22ee22"/>
<line x1="318.45" y1="522.3" x2="339.55" y2="522.3" stroke="#111" stroke-width="1.4"/>
<line x1="323.7" y1="513.1" x2="334.3" y2="513.1" stroke="#111" stroke-width="1.4"/>
<line x1="323.7" y1="533.1" x2="334.3" y2="533.1" stroke="#111" stroke-width="1.4"/>
<line x1="329" y1="513.1" x2="329" y2="533.1" stroke="#333" stroke-width="1.2"/>
<polygon points="327.35,491.81 330.65,491.81 329,494.79" fill="#1010a0"/>
<polygon points="324.85,525.01 328.15,525.01 326.5,527.99" fill="#1010a0"/>
<polygon points="330.25,528.91 333.55,528.91 331.9,531.88" fill="#1010a0"/>
<polygon points="327.35,538.91 330.65,538.91 329,541.88" fill="#1010a0"/>
<line x1="246.4" y1="491.1" x2="275.9" y2="491.1" stroke="#111" stroke-width="1.5"/>
<circle cx="257.5" cy="486.6" r="1.05" fill="#111"/>
<circle cx="260.4" cy="486.6" r="1.05" fill="#111"/>
<circle cx="263.4" cy="486.6" r="1.05" fill="#111"/>
<line x1="307.1" y1="504.5" x2="336.7" y2="504.5" stroke="#111" stroke-width="1.5"/>
<circle cx="321.3" cy="500.2" r="1" fill="#111"/>
<text x="255.1" y="576.1" font-size="7.9" text-anchor="end" stroke="#000" stroke-width="0.25" textLength="52.5" lengthAdjust="spacingAndGlyphs" transform="rotate(-45 255.1 576.1)">Healthy NK cell</text>
<text x="281.4" y="576.1" font-size="7.9" text-anchor="end" stroke="#000" stroke-width="0.25" textLength="46.5" lengthAdjust="spacingAndGlyphs" transform="rotate(-45 281.4 576.1)">HSCT NK cell</text>
<text x="307" y="576.1" font-size="7.9" text-anchor="end" stroke="#000" stroke-width="0.25" textLength="46" lengthAdjust="spacingAndGlyphs" transform="rotate(-45 307 576.1)">Healthy T cell</text>
<text x="332.9" y="576.1" font-size="7.9" text-anchor="end" stroke="#000" stroke-width="0.25" textLength="41" lengthAdjust="spacingAndGlyphs" transform="rotate(-45 332.9 576.1)">HSCT T cell</text>
<rect x="0" y="0" width="1.2" height="620" fill="#000"/>
<rect x="0" y="0" width="520" height="1.5" fill="#000"/>
<rect x="518.2" y="0" width="1.8" height="620" fill="#000"/>
<rect x="0" y="618.1" width="520" height="1.9" fill="#000"/>
</svg>
</body></html>
